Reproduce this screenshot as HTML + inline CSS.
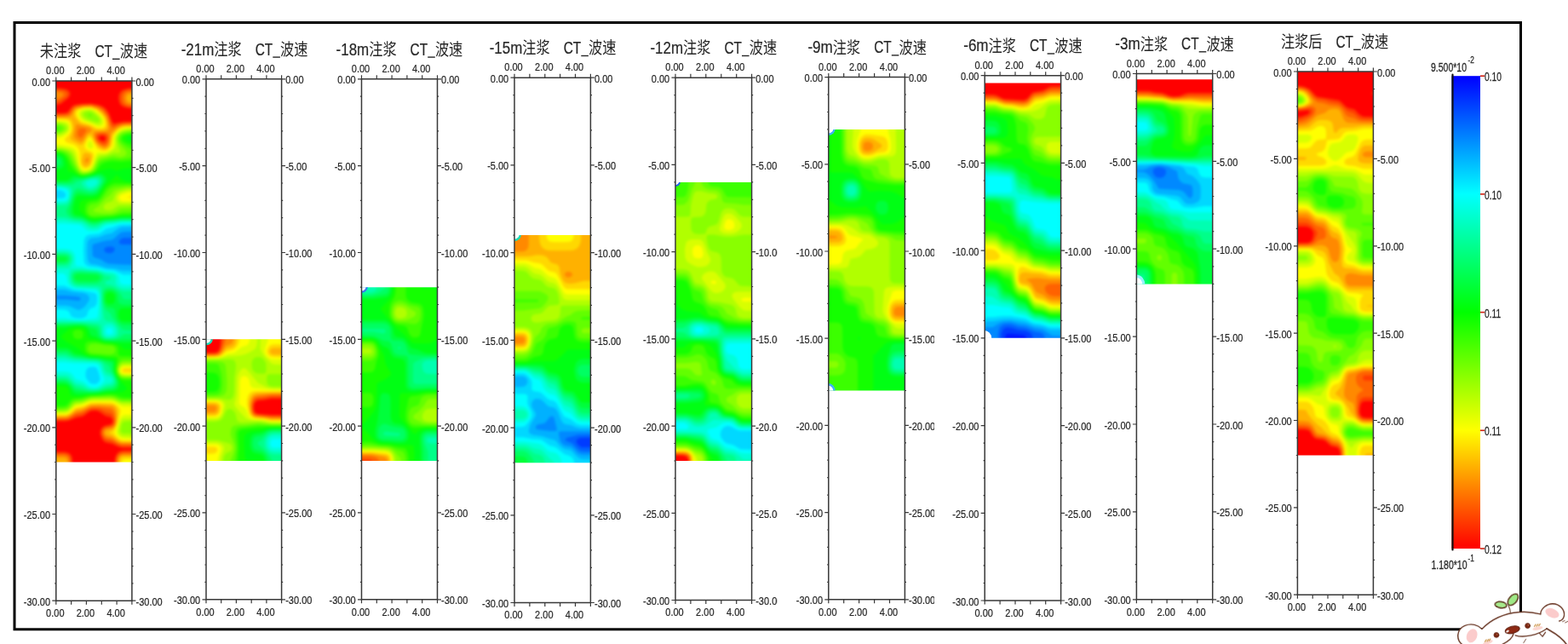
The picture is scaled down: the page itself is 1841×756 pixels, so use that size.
<!DOCTYPE html>
<html><head><meta charset="utf-8"><title>CT</title>
<style>html,body{margin:0;padding:0;background:#fff;width:1841px;height:756px;overflow:hidden;font-family:"Liberation Sans",sans-serif}</style>
</head><body>
<svg width="1841" height="756" viewBox="0 0 1841 756" style="position:absolute;left:0;top:0">
<defs><clipPath id="c0"><rect x="65.8" y="95.0" width="89.1" height="447.5"/></clipPath><clipPath id="c1"><rect x="242.0" y="398.3" width="88.6" height="142.6"/></clipPath><clipPath id="c2"><rect x="424.5" y="337.2" width="89.0" height="203.7"/></clipPath><clipPath id="c3"><rect x="604.0" y="276.1" width="89.4" height="267.1"/></clipPath><clipPath id="c4"><rect x="793.0" y="213.9" width="89.6" height="327.1"/></clipPath><clipPath id="r4"><rect x="882.6" y="0" width="29.9" height="756"/></clipPath><clipPath id="c5"><rect x="972.8" y="151.9" width="89.6" height="306.6"/></clipPath><clipPath id="r5"><rect x="1062.4" y="0" width="34.6" height="756"/></clipPath><clipPath id="c6"><rect x="1156.2" y="97.5" width="89.4" height="299.3"/></clipPath><clipPath id="c7"><rect x="1334.4" y="93.3" width="89.3" height="240.1"/></clipPath><clipPath id="c8"><rect x="1523.4" y="84.0" width="89.0" height="450.5"/></clipPath><linearGradient id="cb" x1="0" y1="0" x2="0" y2="1"><stop offset="0" stop-color="#0000ff"/><stop offset="0.25" stop-color="#00ffff"/><stop offset="0.5" stop-color="#00ff00"/><stop offset="0.75" stop-color="#ffff00"/><stop offset="1" stop-color="#ff0000"/></linearGradient><filter id="bl" x="-5%" y="-5%" width="110%" height="110%" color-interpolation-filters="sRGB"><feGaussianBlur stdDeviation="1.7"/></filter><filter id="soft" x="0" y="0" width="100%" height="100%" color-interpolation-filters="sRGB"><feGaussianBlur stdDeviation="0.45"/></filter></defs>
<g font-family="Liberation Sans, sans-serif" fill="#262626">
<g filter="url(#soft)">
<g clip-path="url(#c0)"><g filter="url(#bl)"><rect x="60" y="89" width="101" height="460" fill="#0014ff"/><path fill="#003bff" d="M58 86.1l104.7 0l0 465.3l-104.7 0z"/><path fill="#0062ff" d="M58 86.1l104.7 0l0 465.3l-104.7 0z"/><path fill="#0089ff" d="M58 86.1l104.7 0l0 193.1l-17.8 0.1l-2.3 0.9l-2.1 1.7l-0.8 2.5l0.7 1.6l2.2 1l20.1 0.2l0 264.2l-104.7 0zM122.4 292.1l0 2.5l2.4 2.1l4.5 0.5l2.2-0.5l2.2-1.5l1.1-3.1l-1.1-1.7l-2.1-0.9l-2.3-0.1l-4.5 0.6z"/><path fill="#00b1ff" d="M58 86.1l104.7 0l0 185.9l-15.6 0.1l-4.5 0.6l-2.2 1.2l-6.7 6.3l-2.2 1.3l-8.9 1.2l-13.4 4l-0.8 2.8l0.3 10.2l0.5 1.3l1.8 1.2l7.1 2.4l6.7 4.2l2.3 0.8l17.8 1.2l17.8 0.1l0 240.5l-104.7 0l0-199.9l20.1 0.1l13.3 1.5l2.2-0.7l1.4-1.9l-1.4-1.6l-4.1-0.9l-13.7-0.9l-17.8-0.1z"/><path fill="#00d8ff" d="M58 86.1l104.7 0l0 180l-20.1 0.3l-4.4 2.3l-6.7 5.1l-6.7 1.3l-8.9 3.4l-8.9 1l-3.2 2.4l-1.1 2.5l-0.5 10.2l0.7 10.2l1.9 3.8l2.2 1.5l6.7 0.7l11.1 3.6l11.2 1.1l6.8 2l19.9 0.4l0 233.5l-104.7 0l0-192.8l20.1 0.1l4.4 1l6.7 3.4l2.2 0.7l2.2-0.1l4.5-2.5l2.9-3l3.4-5.1l0.7-2.6l-0.6-2.5l-2.5-2.5l-3.9-1.6l-13.4-1.5l-8.9-2.3l-17.8-0.1z"/><path fill="#00ffff" d="M58 86.1l104.7 0l0 177.2l-17.8 0.1l-4.5 0.4l-8.9 3.2l-6.7 1.4l-6.7 4.8l-2.2 1.1l-11.1 1.3l-2.2 0.7l-2.3 1.8l-1.7 3.8l-0.6 12.7l0.7 12.7l1.1 2.6l3.3 2.5l3.9 0.9l8.9 0.9l8.9 2.5l8.9 0.9l11.2 4.8l17.8 0.2l0 228.8l-104.7 0l0-188.1l15.6 0l4.5 0.6l3 1.9l2.3 5.1l3.6 2.1l4.4 0.7l5.7-0.3l4.6-2.5l1.7-5.1l1.5-2.5l2.1-1.6l4.5-1.7l2.2-3.6l0.5-5.9l-0.5-4.6l-2.2-2l-13.4-2.6l-11.1-1l-11.2-4.8l-17.8-0.3l0-102.1l15.6-0.3l2.2-0.7l1.1-1.1l0.5-2.5l-1-2.6l-4.3-2.5l-5.2-0.6l-8.9 0zM103.1 431.9l-1.9 2.6l-0.6 2.5l0 5.1l0.9 2.5l3.3 4.1l2.2 1.7l4.5 0.7l2.2-0.7l3.2-3.2l0.6-2.6l-1.6-6.8l-2.2-5.7l-2.2-1.4l-2.3-0.3l-4.4 0.7z"/><path fill="#00ffd8" d="M58 86.1l104.7 0l0 175.4l-20.1 0.1l-8.9 1.9l-7.1 0.6l-4 1.4l-6.7 5l-2.2 0.8l-4.5 0.3l-6.6-0.9l-2.3-1.4l-4.4-4.2l-2.3-1l-17.8-1.5l-17.8-0.1l0-26.4l17.8-0.4l2.3-1l0.9-1.1l1.1-2.6l0.3-2.5l-0.2-2.6l-1.3-2.5l-3.1-1.6l-6.7-1.3l-11.1-0.1zM58 292.2l17.8 0l6.7 1l2.2 1.4l2.2 2.5l1.3 2.6l0.5 5.1l-0.3 5.1l0.8 1.5l2 1l4.7 0.4l7.4 2.1l10.4 0.8l11.1 3l8.9 1.1l4.5 2.8l1.6 2.5l0.6 5.1l1.2 2.5l1 0.8l4.5 0.8l15.6 0l0 217.1l-104.7 0l0-115.4l17.8 0.1l4.5 0.6l2.2 0.9l2.2 1.7l4.5 5.7l8.9 2.9l6.7 5.5l4 1.4l4.9-0.4l3.8-2.1l5-5.1l0.2-2.6l-3.1-5.1l-3.4-10.1l-2.5-2l-4.5-0.7l-22.2-0.2l-11.2-1.2l-17.8 0l0-51.7l17.8 0l11.2 2l6.6 0.3l6.7-0.5l12.7-2l1.7-2.5l1.2-9.9l0.4-10.5l-0.4-5.6l-0.8-2l-1.4-1.5l-2.2-0.8l-22.3-1.9l-3.3-0.9l-3.4-2.1l-2.5-3l-1.1-2.5l-0.8-5.3l-2.3-3.3l-2.2-0.5l-15.6-0.1zM125.3 386.1l-0.8 2.6l0.4 2.5l2.2 1.2l2.2 0.2l2.8-1.4l0.4-2.5l-1-2.7l-2.2-1l-2.2 0z"/><path fill="#00ffb1" d="M58 86.1l104.7 0l0 174l-20.1 0.1l-17.8 2.2l-4.4 1.7l-4.5 3.1l-2.2 0.9l-4.5 0.4l-4.4-1l-8.9-6l-8.9-0.7l-11.2-2.3l-17.8-0.1l0-19.9l15.6 0l4.5-0.9l2.2-2.2l0.9-1.8l1.2-7.7l-0.4-2.5l-1.7-2.2l-2.2-1l-9-1.4l-11.1-0.1zM114.5 213.2l-0.8-1.2l-2.2-1.2l-4.5 0.1l-5.7 2.3l-0.8 2.6l2.1 2.7l2.2 1.2l2.2 0.2l4.5-2l2.2-2.1zM58 295.1l17.8 0l4.5 0.7l2.2 1.2l2.3 2.7l0.9 2.5l0.1 2.6l-0.4 2.5l-2.9 7.3l-2.2 0.8l-22.3 0zM82.5 315.4l13.4 0.2l8.9 1.3l8.9 0.5l11.1 3.4l6.7 0.8l2.6 1l1.9 2.5l-0.2 7.6l2.1 2.6l2.5 1.6l4.5 1.4l17.8 0.2l0 212.9l-104.7 0l0-111.3l20.1 0.3l2.2 0.8l2.2 1.6l4.5 5l2.2 1.6l6.7 1.4l2.2 1l4.5 3.2l4.4 1.5l4.5 0.2l4.4-0.9l8.9-5.2l4.7-0.9l2.5-2.5l-0.3-2.6l-2.4-2.4l-4.5-1.3l-2.2-1.8l-2.2-4.6l-1.3-5.1l-1.8-2.6l-1.4-0.8l-4.4-1.1l-24.5-1.4l-11.2-2.3l-17.8 0l0-44.8l53.5 0.9l4.4-0.6l1.3-0.7l1.2-2.6l0.3-5.1l-1-22.8l-1.3-5.1l-2.7-1.9l-24.5-1.8l-3.6-1.4l-2.5-2.6l-1.8-5l-0.2-7.7zM122.6 382.2l-0.7 1.4l-0.5 5.1l0.3 2.5l1.2 2.6l1.9 1.1l4.5 0.5l2.2-0.3l3.2-1.3l1.4-2.6l0.2-2.5l-0.5-2.6l-2.1-3.2l-2.2-1.7l-2.2-0.6l-4.5 0.2z"/><path fill="#00ff89" d="M58 86.1l104.7 0l0 172.7l-20.1 0.1l-8.9 1.4l-8.9 0.5l-3.1 0.7l-8 3.8l-4.5 0.4l-4.4-1.2l-4.5-3l-4.4-2l-8.9-0.9l-8.9-3.2l-4.5-0.6l-15.6 0l0-13.4l15.6-0.1l4.5-0.9l2.2-1.8l2.2-4l2.2-11.2l-0.6-2.5l-1.6-1.4l-2.2-0.8l-8.9-1.3l-13.4-0.2zM95.8 215.8l1.5 2.5l3.1 2.6l4.4 1.9l2.2 0l4.5-1.7l2.2-1.7l2.7-3.6l0.8-2.6l-0.6-2.5l-2.9-1.5l-4.5 0.1l-7.1 1.4l-5.1 2.5zM58 297.1l17.8 0.1l4.5 1l1.8 1.5l1.4 2.5l0.2 2.6l-0.7 2.5l-2.7 3.5l-2.2 1l-20.1 0.4zM87 318.1l4.4-0.6l4.5 0l20 1.8l8.9 4.4l5.4 1.4l-0.2 2.6l-5.2 2.4l-1.7 2.6l1.7 1.2l4.5 0.6l4.4 1.5l6.7 4.2l4.5 1.7l17.8 0.2l0 209.3l-104.7 0l0-108.3l15.6 0l4.5 0.5l4.4 2.8l4.5 4.6l2.2 1.5l6.7 1.5l7 3.3l4.1 0.8l8.9-0.5l8.9-4l6.7-1.3l2.2-2.3l0.7-2.8l-0.5-2.6l-2.4-4.1l-2.2-2l-4.5-1.9l-1.4-2.1l-1.5-5.1l-1.5-2.6l-3.8-2.5l-2.9-0.7l-26.7-2.3l-11.2-3.2l-17.8-0.1l0-39.6l37.9 0.3l20 1.7l2.2 1.8l0.6 1.4l0.7 7.6l0.9 2.6l2.3 2.1l2.2 0.9l4.5 0.3l5.6-0.8l3.4-2.5l1.1-2.6l-0.5-5.1l-3.3-5l-4.1-3.4l-6.7-1.3l-2.2-1.9l-3.2-18.9l-0.5-17.8l-0.8-1.1l-4.4-0.9l-22.3-0.8l-4.4-1.4l-2.8-3.4l-1.1-5.1l0.2-2.5l1-2.6z"/><path fill="#00ff62" d="M58 86.1l104.7 0l0 171.5l-20.1 0.1l-17.8 1.8l-4.4 1l-6.7 2.5l-4.5 0.3l-4.4-1.2l-5.5-3.1l-3.4-1.3l-9.5-1.2l-4.8-2.6l-2.6-2.5l-1.4-2.6l0.2-2.5l4.7-7.6l4.5-13.5l2.2-3.3l2.2-0.6l2.2 0.3l11.2 3.7l4.4-0.4l4.5-2.4l2.2-2.4l2.7-4.3l0.9-2.6l-0.2-2.5l-2.4-2.5l-3.2-0.8l-8.9 1.4l-15.2 4.4l-2.6 2.4l-2.3 0.8l-26.7-0.7zM58 299l15.6 0l4.5 0.5l2.2 1.4l1 1.3l0.3 2.6l-1.3 2.8l-2.2 1.5l-2.3 0.5l-17.8 0.1zM85 325.1l0.5-2.5l1.5-1.9l2.2-1l4.4-0.4l20.1 1.2l5.2 2.1l2.2 2.5l-0.4 2.6l-2.6 3.2l-3.7 1.8l-5.2 0.4l-15.6-0.2l-4.4-0.7l-2.5-2l-1.2-2.5zM122.6 339.2l2.2-1l2.3-0.3l4.4 0.3l2.2 0.7l5.8 4l2.3 2.6l3.1 5.4l4.4 0.7l13.4 0l0 36.1l-13.4 0l-4.4-0.8l-2.3-1.6l-10.3-11.9l-3-5.6l-4.5-3.2l-2.4-3.9l-1.8-7.6l0.3-10.2zM58 380.2l37.9-0.2l17.8 2.9l2.2 1.8l0.7 1.4l1.5 7.7l2.3 2.6l4.4 1.8l6.7 0.2l4.5-0.6l4-1.5l4.9-3.3l2.2-0.7l15.6-0.1l0 159.2l-104.7 0l0-105.6l15.6 0l4.5 0.5l4.4 3l4.5 4.8l2.2 1.6l13.4 3.2l6.6 0.6l6.7-0.5l8.9-3.1l7.3-1.1l2.9-2.5l1.1-2.6l0.1-2.5l-0.7-2.6l-5.5-10.1l-0.7-2.7l-1.4-2.4l-7.5-5.1l-2.3-1l-4.4-1.1l-8.9-0.5l-17.8-2.3l-8.9-4l-2.3-0.4l-17.8-0.1z"/><path fill="#00ff3b" d="M58 86.1l104.7 0l0 170.3l-20.1 0.1l-8.9 1.3l-11.1 0.7l-8.9 2.5l-4.5 0.2l-4.4-1l-8.9-4.4l-8.9-1.4l-3.7-3l-0.8-2.6l0.3-5.1l4.2-13.2l2.2-3.5l2.2-1l2.2-0.2l9 1.7l4.4 0.3l4.5-1l2.2-1.2l4.4-5.5l3.6-6.9l0.2-2.5l-1.3-2.5l-2.5-1.9l-2.2-0.6l-2.2 0.1l-15.6 3.6l-8.9 0.2l-2.2 0.7l-4 2.9l-2.7 1l-22.3-0.2l0-19.2l8.9-0.1l2.2-0.6l1.6-1.2l0.8-2.5l-1-2.6l-1.4-1.4l-2.2-1l-8.9-0.2zM58 301.3l17.8 0.2l2.4 0.7l0.6 2.6l-0.7 0.9l-2.3 1.1l-17.8 0.4zM87.3 325.1l1.9-3l4.4-0.7l20.1 1l3.5 2.7l-0.6 2.6l-2.9 1.9l-6.7 0.6l-15.6-0.4l-2.2-1l-1-1.1zM124.8 341l2.3-0.6l4.4 0.2l4.2 2.3l1.9 2.6l1.2 7.6l0.8 2.5l0.8 1l4.5 1.1l17.8 0.1l0 23.7l-17.8-0.3l-2.3-0.6l-2.7-2.1l-2.2-2.5l-1.3-2.6l-1.8-10.1l-0.9-1l-2.2-0.9l-4.4-0.6l-2.3-1.2l-2.2-3.8l-0.6-5.3l0.2-5l0.8-2.6zM58 382.1l17.8 0l15.6-0.9l8.9 0.9l6.7 2.9l4.7 1.1l2 2.3l1.7 5.4l2.2 2.5l4.4 2.6l2.8 0.6l8.9 0.2l11.2-1.2l17.8 0l0 152.9l-104.7 0l0-103.2l15.6 0l4.5 0.6l4.4 3.2l4.5 5.5l2.2 1.5l17.8 1.7l8.9-0.4l8.9-2.4l6.7-0.6l2.2-0.7l2.4-1.8l1.3-2.5l0.6-2.6l-0.2-2.5l-4.7-10.2l-0.7-2.5l-0.4-7.7l-2.7-1.9l-4.5-0.8l-8.9-2.8l-11.1-0.8l-8.9-2.1l-6.7-0.6l-3.6-1.1l-5.3-3.7l-2.2-0.9l-20.1-0.4z"/><path fill="#00ff14" d="M58 86.1l104.7 0l0 168.9l-20.1 0.2l-8.9 1.4l-11.1 0.7l-8.9 1.9l-4.5 0.2l-4.4-1.1l-8.9-4.5l-6.7-1.3l-2.1-1.1l-1.2-2.6l0-5.1l1.1-5.3l2.2-6.9l2.2-1.7l2.2-0.3l11.2 0.8l4.4-0.3l4.5-1.4l2.2-1.8l8.6-13.6l0.7-2.5l-0.7-2.5l-4.1-3.8l-4.5-0.7l-8.9 2.6l-11.1 2l-8.9-1.7l-2.3 0.7l-3.7 3.4l-2.9 1.2l-20.1 0l0-13l8.9-0.1l4.5-0.9l2.9-2.5l0.9-2.5l-0.9-5.1l-1.3-2.5l-1.6-1.6l-2.3-1.2l-11.1-0.4zM127.1 343.2l2.2-0.2l2.2 0.6l2.5 1.9l0.9 2.5l-0.1 5.1l-1.1 2.7l-2.2 1.1l-4.4-0.1l-2.3-1.9l-0.6-1.8l-0.2-5.1l0.5-2.5zM140.3 363.3l2.3-1.3l2.3-0.3l17.8-0.1l0 16l-15.6 0l-4.5-0.9l-2.2-2.2l-1.2-3.6l0.1-5.1zM58 384.4l17.8 0l11.2-1.6l8.9 0l3.7 0.8l3.7 2.5l3.7 7.9l4.5 1.1l6.9 3.8l4.2 1.5l22.3 1.8l17.8 0.1l0 149.1l-104.7 0l0-100.8l15.6 0l4.5 0.6l2.2 1.3l2 2.3l2.4 4.3l2.3 2.4l2.2 0.9l4.4 0.3l20.1-0.9l11.1-2.1l8.9-0.8l2.3-0.7l2.2-1.8l1.8-4.1l0.1-2.6l-0.5-2.5l-5.2-10.2l-0.5-2.5l0.4-7.7l-0.6-2.2l-2.2-1.7l-6.7-0.8l-8.9-2.1l-11.1-0.8l-8.9-2.8l-6.7-1.1l-2.7-1.2l-4-3.8l-4.4-1.9l-20.1-0.3z"/><path fill="#14ff00" d="M58 86.1l104.7 0l0 73.6l-10 0.1l-3.4 1.5l-1.3 1.1l2.2 2.5l1.4 0.5l11.1 0.5l0 31.4l-11.1 0.1l-6.8 0.6l-6.6 2.2l-2.2 0l-4.5-1.9l-4.4-0.2l-9 2.1l-11.1 5.1l-6.7 1.5l-4.4 0.3l-4.5-1.3l-6.7-3.5l-4.4-1.1l-0.6-0.7l-0.9-7.6l-1.5-5.1l-1.2-2.5l-2.5-3l-4.5-1.9l-11.1-0.4zM162.7 213.6l0 40l-20.1 0.2l-8.9 1.5l-11.1 0.7l-8.9 1.5l-4.5 0.1l-4.4-1l-4.4-2.7l-5.9-5.1l-1.6-2.5l-0.2-2.6l0.7-5l1.6-2.6l6-2.5l10.5-1.2l2.2-0.7l2.2-1.5l8.9-13.1l9.6-8.9l1.6-2.3l2.2 0l1.7 2.3l3 2.5l6.1 2.5zM81.9 386.1l7.3-1.7l6.7 0.2l3.6 1.5l1.6 2.6l1.5 6.8l2.2 1.8l8.9 1.4l8.9 3.1l13.4 1.2l2.9 0.9l6 5.1l2.2 1.1l15.6 0.2l0 141.1l-104.7 0l0-98.2l15.6 0l4.5 0.8l2.8 3.3l1.6 6l2.2 1.5l4.5 0.4l6.7-0.2l6.7-1.5l13.3-0.8l8.9-1.4l15.6-0.5l4.3-0.9l2.4-2l1.8-0.6l0.1-2.5l-1.9-0.8l-0.4-1.7l-1.8-1.1l-0.6-1.5l-1.7-1.2l-6.2-9l-1.4-5l1-10.2l-1.6-2.6l-2.9-1l-6.7-0.4l-8.9-1.6l-8.9-0.6l-5.5-1.4l-4.1-2.6l-3-2.5l-0.8-1.3l-5.9-3.8l-9.5-5.1l-2.4-2.1l-1.4-0.4l-0.8-1.8l-1.9-0.8l0.3-2.5l1.6-0.4l1.2-2.2l1-0.3l2.3-2.2z"/><path fill="#3bff00" d="M58 86.1l104.7 0l0 71.3l-8.9 0.1l-4.5 0.6l-4.5 1.7l-1.5 2.6l1.6 3.3l4.4 2.9l4.5 1.1l8.9 0.1l0 18.9l-11.1 0.2l-9 1.1l-11.1-0.7l-6.9 1.1l-5.4 2.5l-5.9 7.6l-3.4 2.6l-7.3 2.3l-6.7 0.6l-2.3-0.7l-3.4-2.2l-4.8-5.1l-2.9-4.6l-3.5-8.1l-3.2-3.8l-2.2-1.5l-4.5-1.3l-11.1-0.2zM162.7 215.8l0 36l-20.1 0.2l-8.9 2l-22.2 1.7l-4.5-0.4l-2.2-0.8l-3.7-3.1l-1.2-2.6l-0.2-2.5l0.7-5.1l1.3-2.5l3.1-2.2l8.9-1.5l2.2-1.3l2.5-2.7l6.4-10.2l4.5-3.6l4.4-1.9l2.3-0.3zM86.2 388.7l3-1.5l4.4-0.3l3.4 1.8l0.6 2.5l0 2.6l-0.6 2.5l-1.1 1.4l-4.5 0.6l-2.2-0.5l-2.2-1.4l-1.3-2.6l-0.3-2.6zM100.3 403.3l2.3-2.1l6.6-0.5l4.5 0.3l8.9 2.3l10 0.6l4.9 2.6l1.2 2.5l0.5 7.7l1.2 1.3l22.3 0.2l0 28.3l-15.6 0l-4.5-1.1l-2.2-1.7l-2.2-2.8l-1.8-3.9l-0.2-5.1l2.2-10.2l-0.6-2.5l-1.8-0.5l-11.2-0.3l-8.9-1.2l-8.9-0.5l-2.2-0.6l-3.3-2l-1.5-2.5l-0.3-5.1zM58 476.8l17.8-0.3l2.9-1.4l3.8-5l2.2-1.7l2.3-0.6l8.9-0.8l6.7-2l4.4-0.7l8.9-0.3l8.9-1.1l6.7 0l4.5 0.6l4.4 1.9l4.5 1.1l17.8 0.2l0 84.7l-104.7 0z"/><path fill="#62ff00" d="M58 86.1l104.7 0l0 69.6l-11.1 0.2l-4.5 0.8l-4.5 2.2l-2 3.5l0.5 2.5l1.5 2.7l6.7 5.2l4.5 1.6l8.9 0.1l0 10.2l-8.9 0.1l-11.2 2.3l-11.1-1.1l-11.1 2.7l-2.3 1l-2.2 2.3l-2.9 6l-1.8 2.5l-2 1.5l-4.4 1.9l-6.7 1.1l-4.5-1.1l-3.5-3.4l-4.7-7.6l-5.1-10.2l-2.7-2.5l-6.2-2.7l-13.4-0.5l0-24l11.7-0.8l0.2-2.5l-3-0.7l-8.9-0.1zM162.7 217.5l0 31.4l-17.8 0.1l-13.4 3.6l-22.3 0.8l-2.2-0.5l-2.5-1.5l-1.2-2.6l-0.2-2.5l0.4-2.6l1.2-2.5l2.3-1.5l6.7-1.2l2.2-1.2l3.8-3.7l7.1-10.2l2.9-2.5l4-1.9l15.6-1.4zM103.7 406.5l1.1-1.6l1.6-1l2.8-0.4l4.5 0.1l8.9 1.7l8.9 0.6l2.2 1.1l1.4 2l0.3 2.6l-0.7 2.5l-1 0.9l-4.4 1.2l-22.3-1.6l-1.4-0.5l-2.1-2.5l-0.4-2.6zM140.4 424.2l2.2-1.9l2.3-0.5l17.8-0.1l0 22.8l-17.8-0.2l-2.3-0.6l-2.2-1.6l-2.2-3l-1.3-4.6l1.3-5.9zM162.7 469l0 82.4l-104.7 0l0-72.3l15.6 0l4.5-0.8l2.2-1.7l4.4-5.3l2.3-1.3l8.9-1.2l11.1-3.3l22.3-1.1l4.4 0.6l6.7 2.9l4.5 1z"/><path fill="#89ff00" d="M58 86.1l104.7 0l0 68l-11.1 0.2l-6.7 1.5l-2.3 1l-2.2 2l-1.7 3.6l0.2 2.5l1.5 3.9l7.5 8.8l0.8 2.6l-1.9 2.5l-4.2 1.6l-2.2 0.1l-6.7-1.4l-2.2 0.2l-13.4 3.6l-2.2 1.5l-4.7 9.7l-2 2.5l-4.4 2.4l-6.7 1l-3.3-0.8l-2.8-2.6l-4.2-7.6l-4.6-10.2l-2.9-3.1l-3.3-2l-5.6-1.6l-13.4-0.4l0-20.2l8.9 0l3.6-0.6l3.9-2.6l0.4-2.5l-3.4-2.5l-2.3-0.5l-11.1-0.2zM103.4 134.4l1.4 1.6l1.6 1l1.2 0l-0.6-2.8l-2.2-0.6zM162.7 219.3l0 25.2l-20.1 0.4l-2.2 0.8l-4.4 3.2l-6.7 1.8l-8.9-0.3l-9.4-1.6l-1.8-2.3l6.7-4.4l8.9-9.6l4.5-3.4l4.4-5.7l4.5-1.7l8.9-1.9zM110.9 409l5.8 0l-3 0.6zM140.4 427.2l2.2-2l2.3-0.7l17.8-0.2l0 18.8l-15.6 0l-4.5-0.9l-2.2-1.6l-2.2-3.8l0-4.9zM58 481l15.6-0.1l4.5-0.6l2.2-1.4l4.4-5.1l2.3-1.8l2.2-0.7l6.7-0.8l11.1-3.7l22.3-0.8l4.4 0.8l8.9 3.7l20.1 0.4l0 80.5l-104.7 0z"/><path fill="#b1ff00" d="M58 86.1l104.7 0l0 66.6l-11.1 0.1l-4.5 0.7l-4.5 1.6l-2.9 2.2l-1.8 2.5l-0.8 2.6l0 2.5l1.1 4.8l2.9 7.9l-0.7 2.2l-6.7-0.2l-8.9 3.3l-6.7 1.2l-2.2 1.1l-2.2 3l-4.1 9.8l-2.5 2.5l-4.5 1.8l-4.5 0.5l-2.2-0.7l-2.3-1.6l-2.8-5.1l-4.8-12.7l-1.6-2.5l-2.9-2.6l-3.4-1.6l-6.7-1.6l-13.4-0.3l0-16.8l8.9 0l4.5-0.8l4.4-2.4l1.7-1.9l0.4-2.5l-2.1-2.8l-4.4-1.6l-13.4-0.5zM99 131.9l-0.9 2.7l1.3 2.4l3.3 2.5l11 4.1l2.2-0.6l0.8-1l-0.8-3.3l-7-6.8l-4.1-1.4zM162.7 221.1l0 20l-22.3 0.4l-2.2 0.5l-6.7 4.6l-4.4 0.5l-2.3-0.3l-2.2-1.1l-1.1-2l0.7-2.5l2.6-2.8l6.7-2.1l1.7-2.7l1.8-5.1l3.2-3.4l11.1-3.6zM140.4 429.6l2.2-2.2l2.3-0.7l17.8-0.2l0 15.2l-15.6 0l-4.5-0.8l-2.2-1.8l-1.1-2.1l-0.5-2.5zM58 482.6l15.6 0l4.5-0.6l2.9-1.8l6-6.2l2.2-1l6.7-0.8l8.9-3.5l4.4-0.7l20.1-0.3l4.4 0.8l8.9 3.8l20.1 0.4l0 21.9l-13.4 0l-4.4 0.6l-2.3 2.8l-1 7.6l1 2.1l2.3 1.1l17.8 0.2l0 42.4l-104.7 0z"/><path fill="#d8ff00" d="M162.7 86.1l0 65.2l-13.4 0.4l-4.4 0.9l-4.5 2.2l-2.5 2.5l-1.6 2.5l-0.8 2.6l0.2 10.2l-1.2 2.5l-7.4 4.9l-4.5 1.3l-4.5 0.3l-2.9 1.1l-1.9 2.6l-3.9 10.1l-2.4 3.4l-2.8 1.7l-3.9 0.9l-2.2 0l-2.3-0.9l-2.2-2.5l-1.3-2.6l-4.7-15.2l-1.9-2.6l-3.2-2.2l-8.9-2.5l-15.6-0.5l0-13l11.1-0.3l4.5-1.4l4.6-2.9l1.7-2.6l0.3-2.5l-0.9-2.6l-1.2-1.4l-2.3-1.3l-6.7-1.1l-11.1-0.1l0-57.1zM95.3 131.9l-0.3 2.5l1 2.6l2.1 2.5l2.2 1.3l13.4 5.3l2.2 0.2l2.8-1.7l0.7-2.6l-1.3-3.6l-3.4-4l-5.5-4.2l-2.2-1l-4.4-0.3l-4.5 1.2zM162.7 223.2l0 15.5l-20.1-0.2l-2.2-0.3l-3-2.1l-0.7-2.5l0.4-2.6l1.4-2.5l1.9-1.6l4.5-1.8l6.6-1.7zM140.4 432.1l2.2-2.7l2.3-0.8l17.8-0.3l0 12.2l-15.6 0l-4.5-0.9l-2.3-2.6l-0.4-2.5zM58 484.1l15.6 0l4.5-0.5l2.2-1.1l6.7-6.5l2.2-1.2l6.7-1l8.9-3.6l4.4-0.8l20.1-0.1l4.4 0.8l8.9 4.1l20.1 0.5l0 16.3l-17.8 0.4l-2.3 1.7l-1.1 2.4l-2.6 10.1l0.4 2.6l1.1 1.6l2.2 1.7l2.3 0.7l17.8 0.2l0 39l-104.7 0z"/><path fill="#ffff00" d="M58 86.1l104.7 0l0 63.9l-13.4 0.3l-4.4 0.9l-4.5 2l-4.2 4.1l-1.5 2.5l-0.8 2.6l-0.3 7.6l-0.8 2.6l-1.9 2.5l-3.3 2.5l-2.8 1.3l-2.2 0.4l-6.7-0.3l-2.2 0.8l-2.2 5l-2.4 8.1l-2.1 3.7l-2.2 1.9l-4.5 1.4l-2.2-0.1l-2.2-1.4l-3-5.5l-2.3-12.7l-1.4-3.3l-2.2-2.6l-4.5-2l-8.9-1.9l-6.7-0.8l-8.9 0l0-7.3l11.1-0.4l4.5-1.7l4.5-2.7l2.2-2.2l1.5-3.1l0.3-2.5l-0.6-2.6l-1.2-2.3l-2.2-1.7l-6.7-1.2l-13.4-0.2zM92.5 131.9l-0.1 2.5l1 2.6l1.7 2.5l2.9 2.5l9 2.9l6.7 3.3l2.2 0.4l2.2-0.2l2.3-1.3l1.1-2.5l0-2.6l-0.7-2.5l-3.7-5.1l-6.5-5.1l-5.8-1.6l-4.5 0.4l-5 1.2zM104.8 164.8l-2.2 3.9l0 3.3l2.2 2.3l2.2 0.4l2.2-1.3l0-3.4l-2.2-4.4zM162.7 225.9l0 10.4l-17.8-0.1l-2.3-0.5l-2.6-2.1l0.4-3l2.2-2l9-2.5zM141.2 434.5l1.4-3l2.3-1l17.8-0.3l0 8.9l-17.8-0.2l-3.1-1.9zM58 485.7l15.6-0.1l4.5-0.4l4.1-2.4l4.8-4.8l2.2-1.4l6.7-1.1l8.9-3.7l4.4-0.9l22.3 0.2l4 1.5l7.1 4.2l2.3 0.6l17.8 0.2l0 9.3l-15.6 0.1l-2.2 0.4l-2.3 1.6l-2.2 4.3l-3.7 12.3l0.1 2.6l1.4 2.5l2.2 2.2l2.2 1.3l4.5 0.7l15.6 0l0 36.5l-104.7 0z"/><path fill="#ffd800" d="M58 86.1l104.7 0l0 62.7l-15.6 0.6l-4.5 1.1l-3.1 1.7l-3.5 3.3l-2.9 4.3l-1.6 10.2l-1.1 2.6l-2.4 2.5l-3.2 1.8l-4.4 0.3l-5.7-2.1l-2.1-2.5l-5.6-10.7l-2.2-0.7l-2.9 3.7l-2.1 5.1l-0.2 2.6l1.3 2.5l8.3 4.1l0.8 3.5l-0.4 2.6l-2.1 7.6l-1.7 2.5l-3.2 2.1l-2.3 0.5l-2.2-0.4l-2.2-2l-1.2-2.7l-0.9-5.1l-0.4-10.2l-2-4.2l-4.4-3.3l-8-2.6l-3.1-2.6l0.6-2.5l3.8-3.8l2.6-3.8l1-5.1l-1.4-5.3l-1.9-2.4l-2.5-1l-6.7-0.7l-13.4-0.1zM90 131.9l0 2.5l1 2.6l2.6 4l2.3 2l11.1 3.5l6.7 3.7l4.4 0.4l2.3-0.4l2.2-1.3l0.8-1.8l0.2-2.5l-1-5.1l-3.5-5.1l-5.9-5.1l-6.2-2.4l-6.7 0l-4.4 0.9l-3.9 1.5zM148.5 231l5.3-0.6l8.9-0.1l0 1.8l-11.1-0.2zM143.1 434.5l1.8-1.7l2.2-0.5l15.6-0.1l0 5.3l-17.8-0.3zM162.7 517l0 21.9l-13.4 0l-4.4 0.8l-1.4 1.5l-0.6 2.6l-0.1 7.6l-84.8 0l0-64.3l20.1-0.4l4.4-2.4l4.5-4.3l2.2-1.4l8.9-1.9l8.9-4l8.9-0.3l15.6 0.4l4.5 1.9l3.4 3l1.6 2.5l0.5 2.6l-3.5 15.2l-3.5 7.6l-0.4 2.6l1.6 2.5l4.7 4.7l2.2 1.1l4.5 0.5z"/><path fill="#ffb100" d="M58 86.1l104.7 0l0 61.5l-15.6 0.5l-4.5 0.9l-4.4 2.4l-5.7 5.9l-1.1 2.5l-1.8 10.2l-1.5 2.6l-3.3 2.4l-2.2 0.4l-2.2-0.3l-4.7-2.5l-4-5.1l-4.7-9.1l-2.2-0.2l-2.2 1.8l-4.5 8.1l-2.2 2l-2.3-0.3l-9-4.9l-2.2-2.5l3.2-10.2l0-5.1l-1.4-5.1l-1.7-1.7l-2.2-0.9l-4.5-0.4l-17.8-0.2zM87.7 131.9l-0.2 2.5l0.6 2.6l1.5 2.5l4 4.6l2.3 1.2l8.9 2.1l6.7 4l2.2 0.8l8 0l3.6-2.5l0.3-2.6l-0.6-5.1l-2.1-5l-4.2-5.1l-5-3.7l-6.7-2.3l-8.9 0.2l-6.7 1.9l-2.2 1.3zM100.3 179.3l5.1 0.9l2.1 2.5l0.1 2.6l-0.6 4l-1.7 3.6l-2.7 2.1l-2.3 0.4l-2.2-0.8l-1.2-1.7l-0.9-2.5l-0.1-2.6l2.2-7.5zM162.7 518.8l0 17.3l-17.8 0.3l-2.3 0.9l-1.2 1.4l-0.8 2.5l-0.2 10.2l-82.4 0l0-62.9l20.1-0.3l4.4-2.2l6.7-5.4l8.9-2l6.5-3.5l2.4-0.7l8.9-0.3l15.6 0.6l2.2 0.9l2.3 1.7l1.8 2.9l0.7 5.1l-0.7 7.6l-1.8 7.7l-2.3 3.2l-6 4.4l3.8 1.7l6.7 6l4.4 2.5z"/><path fill="#ff8900" d="M58 86.1l104.7 0l0 23.7l-8.9 0.1l-2.2 0.5l-2 1.1l-1.1 2.6l0 2.5l0.8 2.1l2.3 1.6l2.2 0.5l8.9 0.1l0 25.5l-15.6 0.4l-4.5 0.8l-4.4 2.1l-6.7 5.2l-1.4 2.4l-1 7.6l-1.5 5.1l-2.8 2.9l-2.2 0.5l-4.5-1.5l-4.4-3.9l-1.9-3.1l-1.7-5.1l-0.3-2.5l0.6-2.5l14.4-1.1l2.6-1.5l0.3-2.5l-0.6-5.1l-2.3-7.3l-4-5.4l-4.9-4l-4.4-2l-4.5-1.1l-4.4-0.1l-6.7 0.7l-5.4 1.4l-3.5 2.5l-2.3 5.5l-2.2 2.1l-4.4 0.6l-20.1-0.1zM89.2 146.3l2.2 0l13.4 3.2l3 2.7l-1.5 2.6l-3.7 2l-4.5 7.1l-2.2 2l-2.3 0l-2.2-1.1l-3.3-2.4l-1.3-2.6zM102.6 184.7l1 0.6l0.7 2.5l-1.7 3l-2.3-0.1l-0.4-2.9l0.4-1.1zM58 489.9l20.1-0.3l4.4-1.8l6.7-5.1l6.7-1.2l11.1-5.3l8.9-0.3l15.6 1.2l2.2 1.4l2.2 4.3l0.7 5l-0.2 7.7l-0.6 2.5l-2.1 3.6l-2.2 1.6l-6.7 1.8l-0.9 0.6l-0.9 2.6l1.3 2.5l2.8 1.3l4.4 0.9l7.2 5.5l3.9 1.6l20.1 0.3l0 14.1l-17.8 0.1l-2.3 0.5l-1.7 1.2l-1.5 2.5l-0.4 2.5l-0.1 10.2l-59.3 0l-0.3-10.2l-1.2-3l-2.3-1l-17.8-0.3z"/><path fill="#ff6200" d="M58 86.1l104.7 0l0 21.2l-8.9 0.1l-4.5 0.9l-1.2 0.7l-2.2 2.5l-0.7 2.6l0.7 5.1l2.2 2.5l1.2 0.7l4.5 0.9l8.9 0.1l0 21.8l-13.4 0.1l-6.7 0.9l-4.4 1.7l-4.5 2.7l-2.2 0.2l-2.2-3.7l-3-10.1l-3.7-5.5l-2.2-2.2l-4.5-3l-8.9-2.5l-8.9 0.2l-8.9 1.9l-2.2 1.3l-4.5 6.6l-2.2 1.5l-4.5 0.7l-17.8 0l0-19.5l6.7 0l4.4-0.6l3.5-1.8l2.2-2.6l-1.1-2.5l-2.3-0.8l-4.5-0.6l-8.9 0zM98.1 150.6l3.6 1.6l-1 2.6l-4.8 6.8l-2.3-0.1l-1.9-1.7l-0.8-2.5l0.8-5.1l1.9-1.4zM112.8 157.3l3.1-1.3l4.5-0.3l4.4 0.4l2.2 1.2l0.8 2.5l-0.2 5.1l-0.8 2.6l-2 2.9l-2.2 0.8l-2.2-0.5l-5-3.2l-2.1-2.6l-1.1-2.5l-0.3-2.6zM131.5 481l2.2 3.3l1 3.5l0.6 5.1l-0.8 5.1l-0.8 1.4l-2.2 2.1l-6.7 1.3l-2.2 1.3l-1.1 1.5l-0.5 2.6l1.6 4l2.2 1.7l6.7 1.5l6.7 4.6l4.4 1.6l20.1 0.3l0 10.8l-17.8 0.1l-3.2 0.8l-2.9 2.6l-1.3 5l-0.1 10.2l-55.6 0l-0.2-10.2l-0.4-2.5l-1.6-2.5l-3.8-1.6l-17.8-0.1l0-43.1l17.8-0.1l4.5-0.7l8.9-5.6l6.7-1.3l8.9-4.8l4.4-1.2l8.9 0.5l11.2 1.8z"/><path fill="#ff3b00" d="M58 86.1l104.7 0l0 19.2l-11.1 0.2l-4.5 1.3l-3 2.2l-1.4 2.5l-0.6 5.1l0.6 2.6l1.4 2.5l3.8 2.5l3.7 1l11.1 0.2l0 18.4l-17.8 0.6l-4.5 0.8l-6.7 2.6l-2.2-1l-4.4-11.9l-4.5-6l-2.6-2.1l-4.1-2.1l-8.9-2.1l-8.9 0.2l-8.9 1.5l-4.1 2.5l-3.4 5.1l-1.4 1.3l-2.2 0.9l-20.1 0.4l0-14.6l11.1-0.5l2.3-1.1l5.8-4.2l2-2.6l-0.2-2.5l-3.9-2.6l-6-1l-11.1-0.1zM113.8 159.8l2.1-1.9l2.2-0.5l4.5 0.2l2.2 1.1l0.9 1.1l0.5 2.6l-1.4 4.7l-2.2 1.5l-2.2-0.3l-2.3-1l-2.8-2.4l-1.5-2.5zM58 492.8l17.8 0l4.5-0.6l8.9-4.7l6.7-1.2l2.2-1l6.7-4.2l2.2-0.9l6.7-0.3l4.4 0.9l6.7 3.4l4.5 1.1l2.2 1.4l1.9 3.7l0.6 2.5l-0.3 3.3l-0.7 1.8l-1.5 1.5l-8.9 2.4l-2.2 2.1l-0.8 1.6l-0.3 2.6l0.4 2.5l2.9 4.6l2.2 1.3l6.7 1.4l8.9 4.8l4.5 0.6l17.8 0.1l0 7.5l-17.8 0.1l-4.5 1.1l-2.2 2l-1.8 4.5l-0.3 12.7l-52.6 0l-0.4-12.7l-0.8-2.5l-2-2.3l-4.5-1.4l-17.8-0.1z"/><path fill="#ff0000" d="M58 86.1l104.7 0l0 17.2l-11.1 0.1l-6.7 1.8l-2.3 1.4l-2.1 2.4l-1.1 2.5l-0.3 5.1l1.4 5.1l2.1 2.4l2.3 1.3l6.7 1.8l11.1 0.2l0 15l-17.8 0.4l-11.2 2.1l-2.2-2.3l-3.9-10.7l-4.2-5.1l-3-2l-4.5-1.8l-8.9-1.6l-13.4 0.5l-6.6 1.4l-2.3 1.4l-4.4 5.9l-2.2 1.6l-4.5 0.5l-15.6-0.1l0-9.2l8.9-0.1l4.5-1.4l8.9-7l2.1-3.4l0-2.5l-1.6-2.6l-2.7-1.6l-6.7-1.3l-13.4-0.2zM117.4 159.8l3-0.3l2.2 0.5l1.3 2.4l-0.9 2.5l-2.6 0.6l-2.3-1l-1.9-2.1zM58 494.5l17.8 0l4.5-0.5l8.9-3.6l6.7-1.1l2.2-0.9l6.7-4.9l2.2-1l4.5-0.4l4.4 0.8l7 4.9l1.9 1l4.5 1l2.2 2l0.4 1.1l0.2 2.6l-1.8 2.5l-7.7 1.7l-2.2 1.5l-2.3 3.4l-0.6 3.6l0.4 2.5l2.1 5.1l2.3 2.6l2.5 1.3l6.7 1.2l6.7 3.3l4.4 1.5l20.1 0.2l0 2.7l-17.8 0.1l-4.5 1l-2.2 1.8l-2.2 3.2l-1.2 4l-0.2 12.7l-49.3 0l-0.3-12.7l-0.6-2.5l-1.9-3.2l-2.2-1.5l-4.5-1l-17.8-0.1z"/></g></g>
<g stroke="#383838" stroke-width="1.5" fill="none"><path d="M65.8 95.0H154.9V705.2H65.8z"/><path stroke-width="1.2" d="M65.8 95.0v-4.5M65.8 705.2v4.5M83.6 95.0v-4.5M83.6 705.2v4.5M101.4 95.0v-4.5M101.4 705.2v4.5M119.3 95.0v-4.5M119.3 705.2v4.5M137.1 95.0v-4.5M137.1 705.2v4.5M154.9 95.0v-4.5M154.9 705.2v4.5M65.8 95.0h-4.5M154.9 95.0h4.5M65.8 115.3h-1.6M154.9 115.3h1.6M65.8 135.7h-1.6M154.9 135.7h1.6M65.8 156.0h-1.6M154.9 156.0h1.6M65.8 176.4h-1.6M154.9 176.4h1.6M65.8 196.7h-4.5M154.9 196.7h4.5M65.8 217.0h-1.6M154.9 217.0h1.6M65.8 237.4h-1.6M154.9 237.4h1.6M65.8 257.7h-1.6M154.9 257.7h1.6M65.8 278.1h-1.6M154.9 278.1h1.6M65.8 298.4h-4.5M154.9 298.4h4.5M65.8 318.8h-1.6M154.9 318.8h1.6M65.8 339.1h-1.6M154.9 339.1h1.6M65.8 359.4h-1.6M154.9 359.4h1.6M65.8 379.8h-1.6M154.9 379.8h1.6M65.8 400.1h-4.5M154.9 400.1h4.5M65.8 420.5h-1.6M154.9 420.5h1.6M65.8 440.8h-1.6M154.9 440.8h1.6M65.8 461.1h-1.6M154.9 461.1h1.6M65.8 481.5h-1.6M154.9 481.5h1.6M65.8 501.8h-4.5M154.9 501.8h4.5M65.8 522.2h-1.6M154.9 522.2h1.6M65.8 542.5h-1.6M154.9 542.5h1.6M65.8 562.9h-1.6M154.9 562.9h1.6M65.8 583.2h-1.6M154.9 583.2h1.6M65.8 603.5h-4.5M154.9 603.5h4.5M65.8 623.9h-1.6M154.9 623.9h1.6M65.8 644.2h-1.6M154.9 644.2h1.6M65.8 664.6h-1.6M154.9 664.6h1.6M65.8 684.9h-1.6M154.9 684.9h1.6M65.8 705.2h-4.5M154.9 705.2h4.5"/></g>
<text transform="translate(64.8 87.0) scale(0.84 1)" font-size="13.1" text-anchor="middle" stroke="#262626" stroke-width="0.22">0.00</text><text transform="translate(64.8 724.0) scale(0.84 1)" font-size="13.1" text-anchor="middle" stroke="#262626" stroke-width="0.22">0.00</text><text transform="translate(100.4 87.0) scale(0.84 1)" font-size="13.1" text-anchor="middle" stroke="#262626" stroke-width="0.22">2.00</text><text transform="translate(100.4 724.0) scale(0.84 1)" font-size="13.1" text-anchor="middle" stroke="#262626" stroke-width="0.22">2.00</text><text transform="translate(136.1 87.0) scale(0.84 1)" font-size="13.1" text-anchor="middle" stroke="#262626" stroke-width="0.22">4.00</text><text transform="translate(136.1 724.0) scale(0.84 1)" font-size="13.1" text-anchor="middle" stroke="#262626" stroke-width="0.22">4.00</text><text transform="translate(59.0 100.5) scale(0.84 1)" font-size="13.1" text-anchor="end" stroke="#262626" stroke-width="0.22">0.00</text><text transform="translate(59.0 202.2) scale(0.84 1)" font-size="13.1" text-anchor="end" stroke="#262626" stroke-width="0.22">-5.00</text><text transform="translate(59.0 303.9) scale(0.84 1)" font-size="13.1" text-anchor="end" stroke="#262626" stroke-width="0.22">-10.00</text><text transform="translate(59.0 405.6) scale(0.84 1)" font-size="13.1" text-anchor="end" stroke="#262626" stroke-width="0.22">-15.00</text><text transform="translate(59.0 507.3) scale(0.84 1)" font-size="13.1" text-anchor="end" stroke="#262626" stroke-width="0.22">-20.00</text><text transform="translate(59.0 609.0) scale(0.84 1)" font-size="13.1" text-anchor="end" stroke="#262626" stroke-width="0.22">-25.00</text><text transform="translate(59.0 710.8) scale(0.84 1)" font-size="13.1" text-anchor="end" stroke="#262626" stroke-width="0.22">-30.00</text><text transform="translate(159.5 100.5) scale(0.84 1)" font-size="13.1" text-anchor="start" stroke="#262626" stroke-width="0.22">0.00</text><text transform="translate(159.5 202.2) scale(0.84 1)" font-size="13.1" text-anchor="start" stroke="#262626" stroke-width="0.22">-5.00</text><text transform="translate(159.5 303.9) scale(0.84 1)" font-size="13.1" text-anchor="start" stroke="#262626" stroke-width="0.22">-10.00</text><text transform="translate(159.5 405.6) scale(0.84 1)" font-size="13.1" text-anchor="start" stroke="#262626" stroke-width="0.22">-15.00</text><text transform="translate(159.5 507.3) scale(0.84 1)" font-size="13.1" text-anchor="start" stroke="#262626" stroke-width="0.22">-20.00</text><text transform="translate(159.5 609.0) scale(0.84 1)" font-size="13.1" text-anchor="start" stroke="#262626" stroke-width="0.22">-25.00</text><text transform="translate(159.5 710.8) scale(0.84 1)" font-size="13.1" text-anchor="start" stroke="#262626" stroke-width="0.22">-30.00</text><text transform="translate(46.8 67.0) scale(0.831 1)" font-size="19.5" text-anchor="start" font-family="Liberation Sans, Noto Sans CJK SC, sans-serif" fill="#262626">未注浆</text><text transform="translate(111.4 66.7) scale(0.762 1)" font-size="20.2" text-anchor="start" stroke="#262626" stroke-width="0.22">CT</text><path d="M132.0 69.3h8.6" stroke="#262626" stroke-width="1.4"/><text transform="translate(140.7 67.0) scale(0.831 1)" font-size="19.5" text-anchor="start" font-family="Liberation Sans, Noto Sans CJK SC, sans-serif" fill="#262626">波速</text>
<g clip-path="url(#c1)"><g filter="url(#bl)"><rect x="236" y="392" width="101" height="155" fill="#0014ff"/><path fill="#003bff" d="M234.2 389.4l104.2 0l0 160.3l-104.2 0z"/><path fill="#0062ff" d="M234.2 389.4l104.2 0l0 160.3l-104.2 0z"/><path fill="#0089ff" d="M234.2 389.4l104.2 0l0 160.3l-104.2 0z"/><path fill="#00b1ff" d="M234.2 389.4l104.2 0l0 160.3l-104.2 0z"/><path fill="#00d8ff" d="M234.2 389.4l104.2 0l0 160.3l-104.2 0z"/><path fill="#00ffff" d="M234.2 389.4l104.2 0l0 160.3l-104.2 0z"/><path fill="#00ffd8" d="M234.2 389.4l104.2 0l0 125.7l-17.8 0.3l-2.3 1.2l-0.9 2.6l0 2.5l0.9 2.6l2.3 1.2l17.8 0.4l0 23.8l-104.2 0z"/><path fill="#00ffb1" d="M234.2 389.4l104.2 0l0 121.7l-15.6 0l-4.4 0.7l-2.8 2.3l-1.4 2.5l-0.6 2.6l0.6 5.1l1.4 2.5l2.8 2.4l4.4 0.8l15.6 0l0 19.7l-104.2 0z"/><path fill="#00ff89" d="M234.2 389.4l104.2 0l0 119l-15.6 0l-4.4 0.5l-4 2.7l-2 2.5l-1.9 5.1l0.6 5.1l1.3 2.5l3.8 4.4l2.2 1.5l4.4 0.9l15.6 0l0 16.1l-104.2 0z"/><path fill="#00ff62" d="M234.2 389.4l104.2 0l0 116.9l-17.8 0.1l-4.4 1.1l-2.4 1.5l-6.5 6.8l-4.6 3.4l0.2 2.8l4.4 3.2l10.3 11.8l2 5.1l0.1 7.6l-85.5 0z"/><path fill="#00ff3b" d="M234.2 389.4l104.2 0l0 115.3l-17.8 0.1l-4.4 0.7l-2.4 1l-6.5 4.6l-6.6 1.5l-2.2 1.4l-1.3 2.6l-0.4 2.6l0.4 5.1l1.3 2.6l2.2 1.4l6.6 1.6l2.3 1.5l2.7 3.1l1.8 5.1l0.2 10.1l-80.1 0z"/><path fill="#00ff14" d="M234.2 389.4l104.2 0l0 113.9l-17.8 0.1l-5.1 0.5l-8.2 3.9l-8.8 1.5l-3 2.3l-2 5l0 7.7l1.9 5.1l3.1 2.4l8.8 2l2.9 3.2l0.8 5.1l0 7.6l-76.8 0z"/><path fill="#14ff00" d="M234.2 389.4l104.2 0l0 112.7l-17.8 0l-6.6 0.6l-6.7 2l-12.4 1.8l-5.4 2.5l-2.5 2.6l-0.5 7.6l0.9 16.1l2.2 6.8l1.9 2.5l0.3 2.2l1.5 0.4l0.8 2.5l-59.9 0z"/><path fill="#3bff00" d="M338.4 389.4l0 111.5l-24.4 0.2l-13.3 1l-17.7 2.3l-2.7 2.1l-0.7 2.5l0.8 17.8l-0.9 10.2l-0.2 12.7l-45.1 0l0-89.5l15.6-0.1l4.4-0.8l1.4-1.2l1.4-2.5l0.8-5.1l-0.8-7.7l-2.8-4.2l-4.4-1.2l-15.6-0.1l0-47.9z"/><path fill="#62ff00" d="M338.4 389.4l0 110.4l-22.2-0.1l-13.3-0.6l-22.1 2.8l-3.2 2l-1.1 2.6l-0.4 2.5l0.2 5.1l1.4 7.6l0.3 5.1l-1.9 12.8l-0.1 10.1l-41.8 0l0-86.1l17.8-0.1l4.4-0.7l2.7-2.2l1.1-2.5l0.9-7.6l-0.8-10.2l-2.9-10.2l-1.5-2.6l-3.9-0.8l-17.8 0l0-37.3z"/><path fill="#89ff00" d="M338.4 389.4l0 109.3l-20-0.1l-15.5-1.7l-13.3 1.8l-11.1 0.3l-4.4 1l-1.7 1.4l-1.1 2.5l-0.6 5.1l0.3 2.6l4.1 10.1l0.5 5.1l-1.5 5.8l-3.1 7l-0.4 10.1l-36.4 0l0-84l22.2-0.3l4.4-0.9l2.6-1.3l1.8-2.6l0.9-2.5l0.4-10.2l-1.4-17.8l-0.8-2.6l-3.5-2.5l-4.4-0.7l-22.2-0.2l0-34.7z"/><path fill="#b1ff00" d="M234.2 389.4l104.2 0l0 49.8l-22.2 0.1l-2.6 1l-0.5 5.1l0.6 5.1l2.5 2.5l4.4 0.7l17.8 0.1l0 43.8l-20-0.1l-13.3-2.2l-22.1 0.6l-2.2-0.6l-2.4-1.6l-1.8-7.6l-1.3-2.5l-3.4-3l-2.2-0.5l-2.2 0.4l-2.2 2.2l-4 8.5l-2.7 2.2l-2.2 0.9l-4.4 0.6l-17.8 0.1l0-27.8l22.2 0.2l11.1 1.9l2.2-0.1l2.2-1l1.8-2.5l1.1-5.1l0.4-17.8l2-12.7l-0.9-5.3l-2.2-2.3l-2.2-0.6l-37.7 0.6zM298.5 420.3l-2.2 3l-0.9 4.2l0.6 5.1l1.3 2.6l3.4 2.8l2.2 0.6l6.7 0.1l2.2-0.6l0.8-2.9l-0.2-7.7l-0.8-2.5l-1.8-2.5l-2.5-2.4l-2.2-0.9l-4.4 0.1zM234.2 516.3l22.2 0.4l13.3 4.1l2.2 2l0.6 4l-0.6 1.5l-2.2 2l-4.4 2l-2.3 3.6l-0.6 3.7l-0.1 10.1l-28.1 0z"/><path fill="#d8ff00" d="M234.2 421.4l0-32l67.9 0l-0.1 12.7l-1.1 5.1l-1.5 2.5l-7.6 4.6l-4.4 1.8l-6.6 1.5l-13.3 0.7l-11.1 2.9zM306 389.4l32.4 0l0 38.5l-13.3 0l-4.5-0.5l-2.2-1.1l-6.6-6.5l-3.8-5l-2.5-5.1zM283 433.9l2.2-1.7l2.2 0l2.2 1.4l13.3 15.9l11.1 5.6l6.6 0.9l17.8 0l0 40.5l-20-0.2l-11.1-2.3l-13.2-0.8l-5-2l-8.3-8.5l-5.3-6.8l-0.4-2.5l1.7-5.1l1-5.1l0.8-20.4l2.2-5.8zM234.2 468.7l20 0.2l4.4 0.7l2.7 1.2l2.5 2.6l0.6 2.5l-3 10.2l-1.4 2.5l-2.9 2.6l-2.9 1l-20 0.3zM234.2 519.1l20 0.2l4.4 1.3l1.9 1.1l2.3 2.6l0.4 2.5l-3.7 10.2l-0.3 12.7l-25 0z"/><path fill="#ffff00" d="M234.2 420.4l0-31l59.1 0l-0.2 10.1l-1.3 4.3l-2.2 1.8l-6.6 2.1l-6.7 5.6l-2.2 1l-6.6 1l-6.7 3.3l-4.4 1.4zM314.8 389.4l23.6 0l0 32.6l-15.6 0l-4.4-0.5l-2.2-1l-3.3-3.1l-1.4-2.6l-0.7-2.5l0.2-2.6l3.5-10.2zM283 443.1l2.2-1.5l2.2-0.1l3.1 1.3l1.9 2.6l1.8 7.6l2.1 1.8l1.9 0.8l20.2 2l20 0.1l0 37.6l-20-0.2l-8.8-2l-11.1-0.8l-4.4-1.6l-2-2.1l-2.5-6.5l-2.2-3.5l-4.4-2.1l-2.3-3.1l0.8-10.2l0.2-15.3zM234.2 470.2l17.8 0l4.4 0.6l2.2 1l1.8 1.6l1 2.5l-1.1 7.7l-1.7 3.6l-2.2 2.1l-2.2 0.9l-20 0.4zM234.2 521.5l19.5 0.2l2.7 0.9l2.2 1.7l0.9 2.5l-3.8 12.8l-0.1 10.1l-21.4 0z"/><path fill="#ffd800" d="M234.2 419.4l0-30l47.2 0l0 7.6l-0.7 5.1l-2.7 5.1l-3.9 3.4l-6.6 1.6l-2.2 1l-5.1 4.2l-3.8 1.5l-4.4 0.4zM314 409.7l2.2-3.4l2.2-1.5l2.2-0.6l17.8-0.3l0 15.4l-15.6 0l-4.4-0.6l-2.4-1.3l-1.9-2.6l-0.6-2.5zM291.9 463.2l2.2-2.8l4.4-1.5l39.9 0.2l0 35l-20-0.2l-8.8-1.9l-10-0.8l-3.3-1.1l-1.9-1.5l-1.5-2.5l-2.6-10.2l-0.1-7.6zM234.2 471.7l20 0.3l3.3 1.4l1.7 2.5l0.2 2.6l-0.9 5.1l-1.3 2.5l-3 2.1l-2.2 0.5l-17.8 0.1zM234.2 532.8l0-8.4l17.8 0.2l2.2 1l1.2 1.2l-0.4 2.6l-0.8 1.3l-2.2 1.6l-4.5 0.5z"/><path fill="#ffb100" d="M234.2 418.5l0-29.1l43.4 0l-0.5 12.7l-1.1 2.5l-1.9 2.2l-2.2 1.2l-4.4 0.9l-2.2 1.1l-4 4.8l-2.7 2.1l-2.2 0.9l-4.4 0.6zM316.6 412.3l1.4-2.6l2.6-1.1l17.8-0.2l0 8.1l-17.8-0.2l-3.1-1.5zM294.3 465.7l2-2.6l4.4-1.9l37.7-0.7l0 32.3l-20-0.2l-8.8-1.7l-8.9-0.7l-4.2-1.6l-2-2.5l-1-2.5l-1.2-7.7l0.3-5.1zM234.2 473.3l15.6 0l4.4 0.6l2.6 2l0.6 2.6l-0.9 5.1l-2.3 2.5l-2.2 0.5l-17.8 0.2z"/><path fill="#ff8900" d="M234.2 417.5l0-28.1l40 0l-0.1 7.8l-1.1 4.9l-1.1 1.3l-6.6 2.9l-3.9 6l-2.8 3.1l-2.2 1.3l-4.4 0.8zM296.3 466.7l2.2-2.2l4.4-1.3l15.5-1.2l20 0l0 29.5l-20-0.1l-8.8-1.6l-8.9-0.7l-2.2-0.7l-2.6-2.3l-1.1-2.5l-0.8-5.1l0.1-5.4zM234.2 475.8l17.8 0.3l2.2 1.7l0.3 3.2l-2.5 2.8l-17.8 0.3z"/><path fill="#ff6200" d="M234.2 389.4l30.8 0l0 7.6l-0.8 5.1l-4.5 10.2l-2.2 2.5l-3.3 1.4l-20 0.3zM296.3 470.7l2.2-3.4l2.2-1.3l17.7-2.3l20-0.1l0 26.6l-20-0.2l-15.5-1.7l-4.4-1.4l-2.2-2.9l-0.8-3l-0.3-5.1z"/><path fill="#ff3b00" d="M234.2 389.4l27.5 0l-0.4 12.7l-2 7.6l-1.2 2.6l-1.7 1.6l-2.2 1.2l-2.2 0.3l-17.8 0.1zM297.1 473.4l1.4-3.1l2.2-1.8l2.2-0.7l6.7-0.5l8.8-1.7l20-0.2l0 23.4l-20-0.2l-17.7-2l-2.2-1.5l-1-1.5l-1-5.1z"/><path fill="#ff0000" d="M234.2 389.4l25.1 0l-0.5 15.2l-1.2 5.1l-1.4 2.6l-2 1.2l-2.2 0.5l-17.8 0.2zM298.5 474.3l2.2-3.1l2.2-0.9l6.7-0.6l8.8-1.7l20-0.1l0 19.2l-20-0.1l-15.5-1.3l-2.2-0.8l-1.5-1.3l-0.7-1.5l-0.5-3.6z"/></g><path d="M241.0 397.3h9a8 8 0 0 1-8 8h-1z" fill="#18dcb8"/><path d="M241.0 397.3h6.6a5.6 5.6 0 0 1-5.6 5.6h-1z" fill="#fff"/></g>
<g stroke="#383838" stroke-width="1.5" fill="none"><path d="M242.0 92.8H330.6V703.8H242.0z"/><path stroke-width="1.2" d="M242.0 92.8v-4.5M242.0 703.8v4.5M259.7 92.8v-4.5M259.7 703.8v4.5M277.4 92.8v-4.5M277.4 703.8v4.5M295.2 92.8v-4.5M295.2 703.8v4.5M312.9 92.8v-4.5M312.9 703.8v4.5M330.6 92.8v-4.5M330.6 703.8v4.5M242.0 92.8h-4.5M330.6 92.8h4.5M242.0 113.2h-1.6M330.6 113.2h1.6M242.0 133.5h-1.6M330.6 133.5h1.6M242.0 153.9h-1.6M330.6 153.9h1.6M242.0 174.3h-1.6M330.6 174.3h1.6M242.0 194.6h-4.5M330.6 194.6h4.5M242.0 215.0h-1.6M330.6 215.0h1.6M242.0 235.4h-1.6M330.6 235.4h1.6M242.0 255.7h-1.6M330.6 255.7h1.6M242.0 276.1h-1.6M330.6 276.1h1.6M242.0 296.5h-4.5M330.6 296.5h4.5M242.0 316.8h-1.6M330.6 316.8h1.6M242.0 337.2h-1.6M330.6 337.2h1.6M242.0 357.5h-1.6M330.6 357.5h1.6M242.0 377.9h-1.6M330.6 377.9h1.6M242.0 398.3h-4.5M330.6 398.3h4.5M242.0 418.6h-1.6M330.6 418.6h1.6M242.0 439.0h-1.6M330.6 439.0h1.6M242.0 459.4h-1.6M330.6 459.4h1.6M242.0 479.7h-1.6M330.6 479.7h1.6M242.0 500.1h-4.5M330.6 500.1h4.5M242.0 520.5h-1.6M330.6 520.5h1.6M242.0 540.8h-1.6M330.6 540.8h1.6M242.0 561.2h-1.6M330.6 561.2h1.6M242.0 581.6h-1.6M330.6 581.6h1.6M242.0 601.9h-4.5M330.6 601.9h4.5M242.0 622.3h-1.6M330.6 622.3h1.6M242.0 642.7h-1.6M330.6 642.7h1.6M242.0 663.0h-1.6M330.6 663.0h1.6M242.0 683.4h-1.6M330.6 683.4h1.6M242.0 703.8h-4.5M330.6 703.8h4.5"/></g>
<text transform="translate(241.0 84.8) scale(0.84 1)" font-size="13.1" text-anchor="middle" stroke="#262626" stroke-width="0.22">0.00</text><text transform="translate(241.0 722.5) scale(0.84 1)" font-size="13.1" text-anchor="middle" stroke="#262626" stroke-width="0.22">0.00</text><text transform="translate(276.4 84.8) scale(0.84 1)" font-size="13.1" text-anchor="middle" stroke="#262626" stroke-width="0.22">2.00</text><text transform="translate(276.4 722.5) scale(0.84 1)" font-size="13.1" text-anchor="middle" stroke="#262626" stroke-width="0.22">2.00</text><text transform="translate(311.9 84.8) scale(0.84 1)" font-size="13.1" text-anchor="middle" stroke="#262626" stroke-width="0.22">4.00</text><text transform="translate(311.9 722.5) scale(0.84 1)" font-size="13.1" text-anchor="middle" stroke="#262626" stroke-width="0.22">4.00</text><text transform="translate(235.2 98.3) scale(0.84 1)" font-size="13.1" text-anchor="end" stroke="#262626" stroke-width="0.22">0.00</text><text transform="translate(235.2 200.1) scale(0.84 1)" font-size="13.1" text-anchor="end" stroke="#262626" stroke-width="0.22">-5.00</text><text transform="translate(235.2 302.0) scale(0.84 1)" font-size="13.1" text-anchor="end" stroke="#262626" stroke-width="0.22">-10.00</text><text transform="translate(235.2 403.8) scale(0.84 1)" font-size="13.1" text-anchor="end" stroke="#262626" stroke-width="0.22">-15.00</text><text transform="translate(235.2 505.6) scale(0.84 1)" font-size="13.1" text-anchor="end" stroke="#262626" stroke-width="0.22">-20.00</text><text transform="translate(235.2 607.4) scale(0.84 1)" font-size="13.1" text-anchor="end" stroke="#262626" stroke-width="0.22">-25.00</text><text transform="translate(235.2 709.2) scale(0.84 1)" font-size="13.1" text-anchor="end" stroke="#262626" stroke-width="0.22">-30.00</text><text transform="translate(335.2 98.3) scale(0.84 1)" font-size="13.1" text-anchor="start" stroke="#262626" stroke-width="0.22">0.00</text><text transform="translate(335.2 200.1) scale(0.84 1)" font-size="13.1" text-anchor="start" stroke="#262626" stroke-width="0.22">-5.00</text><text transform="translate(335.2 302.0) scale(0.84 1)" font-size="13.1" text-anchor="start" stroke="#262626" stroke-width="0.22">-10.00</text><text transform="translate(335.2 403.8) scale(0.84 1)" font-size="13.1" text-anchor="start" stroke="#262626" stroke-width="0.22">-15.00</text><text transform="translate(335.2 505.6) scale(0.84 1)" font-size="13.1" text-anchor="start" stroke="#262626" stroke-width="0.22">-20.00</text><text transform="translate(335.2 607.4) scale(0.84 1)" font-size="13.1" text-anchor="start" stroke="#262626" stroke-width="0.22">-25.00</text><text transform="translate(335.2 709.2) scale(0.84 1)" font-size="13.1" text-anchor="start" stroke="#262626" stroke-width="0.22">-30.00</text><text transform="translate(212.7 64.5) scale(0.84 1)" font-size="20.2" text-anchor="start" stroke="#262626" stroke-width="0.22">-21m</text><text transform="translate(251.3 64.8) scale(0.831 1)" font-size="19.5" text-anchor="start" font-family="Liberation Sans, Noto Sans CJK SC, sans-serif" fill="#262626">注浆</text><text transform="translate(299.7 64.5) scale(0.762 1)" font-size="20.2" text-anchor="start" stroke="#262626" stroke-width="0.22">CT</text><path d="M320.3 67.1h8.6" stroke="#262626" stroke-width="1.4"/><text transform="translate(329.0 64.8) scale(0.831 1)" font-size="19.5" text-anchor="start" font-family="Liberation Sans, Noto Sans CJK SC, sans-serif" fill="#262626">波速</text>
<g clip-path="url(#c2)"><g filter="url(#bl)"><rect x="418" y="331" width="101" height="216" fill="#0014ff"/><path fill="#003bff" d="M416.7 328.3l104.6 0l0 221.4l-104.6 0z"/><path fill="#0062ff" d="M416.7 328.3l104.6 0l0 221.4l-104.6 0z"/><path fill="#0089ff" d="M416.7 328.3l104.6 0l0 221.4l-104.6 0z"/><path fill="#00b1ff" d="M416.7 328.3l104.6 0l0 221.4l-104.6 0z"/><path fill="#00d8ff" d="M416.7 328.3l104.6 0l0 221.4l-104.6 0z"/><path fill="#00ffff" d="M416.7 328.3l104.6 0l0 221.4l-104.6 0z"/><path fill="#00ffd8" d="M416.7 328.3l104.6 0l0 221.4l-104.6 0z"/><path fill="#00ffb1" d="M416.7 328.3l104.6 0l0 221.4l-104.6 0z"/><path fill="#00ff89" d="M442.5 328.3l78.8 0l0 94.3l-20 0.3l-4.3 2.1l-1.1 2.5l-0.2 2.6l1.1 5.3l2.1 2.3l2.4 1.1l20 0.4l0 74.2l-17.8 0.3l-0.8 0.4l-1.6 2.5l1.3 2.6l1.1 0.8l2.2 0.4l15.6 0l0 29.3l-104.6 0l0-206.3l17.8-0.1l4.5-1.1l1.7-1.2l1.4-2.5z"/><path fill="#00ff62" d="M452.7 328.3l68.6 0l0 91.6l-17.8 0l-6.7 0.7l-9.9 4.4l-1.2 1.1l-0.6 1.4l-0.2 20.4l1.2 2.6l4 0.4l31.2-0.3l0 59.1l-17.8 0.2l-2.2 0.6l-1.7 1.1l-1.5 2.5l0 5.1l4.1 10.2l0.3 2.5l0.1 17.8l-85.9 0l0-160.3l22.3 0.2l11.1 2.2l2.2-1.2l0.5-1.2l-0.3-2.6l-2.4-0.9l-33.4 0l0-39.8l20-0.2l7.3-2.4l8.2-5zM449.7 509l0.4 1.1l1.9 1.5l13.7 0.3l3.6-0.3l0.9-2.6l-2.3-0.8l-13.4-1.7l-2.2 0l-2.2 1.5zM467.9 406.9l-0.4 0.3l0.1 2.5l2.5 0.4l0.4-0.4l-0.1-2.5z"/><path fill="#00ff3b" d="M416.7 348.5l20-0.2l15.6-2.9l2.2-0.9l2.3-3.5l0.5-12.7l64 0l0 89.2l-22.3 0l-17.8-1.4l-2.2-2.7l-2.2-7.2l-2.4-4.1l-2.1-1.4l-2.2-0.6l-9-0.6l-2.1-2.5l-0.6-10.2l-1.6-4.1l-2.3-2l-4.4-1.1l-33.4 0zM416.7 394.1l17.8 0.1l4.5 0.4l4.4 1.6l6.7 3.9l6.7 0.7l2.2 2.7l2.7 8.8l1.7 2.7l2.3 1.3l2.2 0.5l9 0.6l2.1 2.5l0.6 30.6l0.6 2.5l2.9 2.6l4.8 0.5l13.4-0.8l20-0.1l0 51.9l-20 0.4l-3.1 1.5l-1.9 2.6l-1 5l1.8 12.8l0.1 20.3l-80.5 0zM444.6 503.9l-0.7 5.1l0.2 2.6l1.1 2.5l2.7 1.6l22.2 1.4l2.6-0.5l2.9-2.5l0.6-2.5l-0.6-5.1l-1.6-2.6l-1.7-1.2l-11.1-2l-8.9-3.1l-2.2 0.1l-2.2 1l-2.3 2.5z"/><path fill="#00ff14" d="M416.7 351.1l22.3-0.2l15.5-2.2l2.3-1.6l2.2-4.4l0.6-4.2l0-10.2l61.7 0l0 86.6l-20-0.2l-4.5-1.2l-6.7-3.2l-6.6-1.4l-2.3-2.2l-4.4-6.8l-2.2-2.1l-2.3-1.1l-6.6-1.1l-1.9-1.1l-1.3-2.6l-1.5-7.6l-1.6-2.6l-2.6-3l-2.3-1.8l-2.2-0.9l-35.6-0.3zM416.7 396.3l17.8 0.1l4.5 0.7l2.2 0.9l2.2 1.6l4.5 5.4l2.2 1.6l4.4 1.5l2.3 2.5l2.2 4.6l2.2 3.2l2.2 1.4l8.9 1.6l1.9 1.1l1.3 2.5l0.4 2.5l0.5 25.5l1 2.6l1.6 1.5l2.2 1.1l4.5 0.6l15.6-1.3l20-0.1l0 47.5l-20 0.2l-4.4 1.4l-2.5 2.5l-1.1 2.6l-0.5 5l1 12.8l0 20.3l-77.1 0zM450.1 461.4l-2.2 1l-1.5 3.3l-1.1 12.8l-2 15.2l-2 7.7l-0.8 5.1l0.2 5.1l0.8 2.5l2.3 2.5l4.1 1.6l20 1.7l7-0.7l3.5-2.6l1-2.5l0.2-5.1l-0.6-2.5l-1.3-2.6l-3.1-3.6l-4.5-2.2l-6.7-1.1l-1.3-0.7l-2.4-2.6l-1-5.1l-0.1-17.8l-0.5-5.1l-1.3-2.6l-2.3-1.4z"/><path fill="#14ff00" d="M461.9 328.3l32.7 0l0 10.2l15.6 0l2.2 2.5l0 58.5l-2.2 0.3l-2.2 2.3l-4.5 1.1l-15.6 0.1l-4.4-1.2l-11.2-11.7l-6.6-5l-12.2-13.9l-1.2-2.1l-0.9-0.4l-1.3-2.3l-0.9-0.2l-1.3-2.5l-0.8-0.1l0.3-2.5l9.4-9.3l2.2-2.8l1.6-3.2l1.1-5.1zM416.7 398.2l17.8 0.1l4.5 0.9l2.2 1.4l3.1 4l6.6 12.8l1.4 7.4l2.2 6.6l1.6 1.2l0.7 2.5l0.7 0.1l1.5 2.5l0 2.6l-2.2 1l-0.3 1.5l-2 0.4l-2.2 2.2l-6.7 2.9l-3 2.2l-0.3 20.3l-1.2 7.7l-2.1 4.4l-2.3 3.1l-11.1 12.8l-8.9 0zM470.1 461.8l2.2-0.4l17.8-0.2l11.2-1.7l20-0.1l0 43.6l-22.3 0.3l-4.4 1.2l-3.7 2l-3 2.5l-2.2-0.1l-15.5-17.7l-1.4-2.6l0.3-22.9zM416.7 501.4l8.9 0l11.2 12.7l2.7 2.5l4.3 2.6l4.1 1l8.9 0.4l8.9 1.5l17.8 0.3l2.2 1.2l0.9 8.3l0.2 17.8l-70.1 0z"/><path fill="#3bff00" d="M464.8 328.3l11.6 0l0.1 17.8l0.3 2.5l1.2 2.6l2.7 2.5l2.8 1.2l8.9 1.5l3 2.4l1.3 2.6l0.9 7.6l-0.9 7.6l-2 7.7l-1 7.6l-1.3 2.6l-2.3 1.4l-4.4 0.4l-2.2-0.9l-3.1-3.5l-2.6-7.6l-3.2-1.9l-8.9-1.4l-2.3-1.3l-3.1-3.1l-2.9-5.1l-0.5-5l0.8-7.7l0.9-2.5l4.6-7.7l1.3-5.1zM416.7 400.1l20 0.4l3.1 1.6l2.1 2.5l2.8 7.7l-0.1 5.1l-2.9 7.6l-1.4 7.6l-1.3 2.7l-2.3 1.4l-4.4 0.6l-15.6 0zM416.7 461l17.8 0.3l2.2 1.1l1.5 3.3l0.4 2.6l-0.5 5.1l-1.4 3l-2.2 1.3l-2.2 0.3l-15.6 0.1zM481.2 465.9l2.3-0.8l6.6-0.8l6.7-2.1l4.5-0.7l20-0.2l0 39.9l-22.3 0.1l-11.1 0.9l-4.4-0.8l-2.3-1.5l-3.1-3.6l-1.3-2.6l-0.7-5.1l0.3-5l3.3-15.3zM416.7 518.2l17.8 0.2l11.1 3.3l11.2 0.7l8.9 2.3l8.9 1.2l2.2 1.4l2.1 4.6l0.8 5.1l0.1 12.7l-63.1 0z"/><path fill="#62ff00" d="M463.4 354.9l4.5-2.2l2.2-0.1l4.5 1.5l6.6 3.8l8.9 2l2.3 1.4l1.3 2.6l0.5 5.1l-0.8 5.1l-1 2.7l-2.3 2.5l-2.2 1l-2.2 0.2l-8.9-1.3l-8.9-0.3l-4.5-1.8l-2.6-3l-1.1-2.6l-0.5-5l0.6-5.1l0.8-2.6zM416.7 402l17.8 0.2l2.2 0.5l2.3 1.4l1.9 3.1l1.4 5.1l-0.6 5.1l-1.5 2.5l-3.5 3l-2.2 0.7l-17.8 0.2zM481.1 481l2.4-2.7l6.9-2.4l2.1-2.5l1.5-5.1l2.8-3l2.2-0.9l4.5-0.8l17.8-0.1l0 36l-22.3-0.1l-13.3-1.2l-2.2-0.7l-2.3-1.9l-1.6-4.4l0-5.1zM416.7 521.6l17.8 0.1l11.1 1.7l8.9 0.5l4.5 0.9l6.7 3.2l6.6 1.8l2.3 2.1l1.6 5.1l0.2 12.7l-59.7 0z"/><path fill="#89ff00" d="M462.3 361.4l1.1-2.2l2.3-1.7l2.2-0.6l4.4 0.2l4.2 1.7l7 4.9l4.4 2.5l0.5 2.8l-1.8 2.5l-4.7 2.6l-5.1 1.9l-6.7 0.6l-4.4-0.7l-2.5-1.8l-1.3-2.6l-0.6-5zM416.7 404.6l15.6 0l4.4 1.1l2.3 2.7l1 3.9l-0.2 2.5l-0.8 1.9l-2.3 2l-2.2 0.6l-17.8 0.2zM485.2 488.6l1.7-2.5l3.2-1.8l7.8-8.4l3.4-5.6l2.2-1.9l17.8-0.3l0 29.5l-17.8 0l-6.7-0.8l-11.1-5.4zM416.7 524.1l20 0.1l17.8 1.3l4.5 1.3l3.7 2.6l7.4 8.4l1 4.3l0 7.6l-54.4 0z"/><path fill="#b1ff00" d="M465.7 361.5l2.2-0.9l2.2-0.2l4.5 1.4l2.2 2.1l0.9 2.6l0 2.5l-1.1 2.5l-2 1.4l-4.5 1l-2.2-0.2l-2.2-1.1l-1.9-3.6l-0.1-2.5l0.6-2.6zM416.7 408.8l15.6 0.1l2.9 0.8l1.6 2.6l-1.5 2.5l-0.8 0.4l-17.8 0.3zM496.2 486.1l2.8-4.3l2.3-1.5l2.2-0.6l17.8-0.2l0 15.7l-17.8 0l-4.5-0.9l-1.2-0.6l-1.8-2.5l-0.2-2.6zM416.7 526l20 0l15.6 1l4.5 0.8l2.8 1.6l1.6 1.7l2 3.4l1.2 5.1l0.1 10.1l-47.8 0z"/><path fill="#d8ff00" d="M416.7 527.6l22.3 0.2l13.3 0.8l4.5 1l2.8 2.3l2.4 5.1l0.4 12.7l-45.7 0z"/><path fill="#ffff00" d="M416.7 529.1l22.3 0.2l13.3 0.9l4.5 1.4l2.5 2.9l0.9 2.5l0.5 12.7l-44 0z"/><path fill="#ffd800" d="M416.7 530.5l20 0.1l17.8 1.8l2.8 2.1l1.2 2.5l0.6 12.7l-42.4 0z"/><path fill="#ffb100" d="M416.7 531.9l20 0.1l17.5 2.5l2.4 2.5l0.6 2.6l0.2 10.1l-40.7 0z"/><path fill="#ff8900" d="M416.7 533.5l20 0.1l15.6 3.2l2.4 2.8l0.3 10.1l-38.3 0z"/><path fill="#ff6200" d="M416.7 535.5l17.8 0l7 1.5l2.7 2.6l0.8 2.5l0.1 7.6l-28.4 0z"/><path fill="#ff3b00" d="M416.7 539.3l18.3 0.3l2.3 2.5l0.2 7.6l-20.8 0z"/></g><path d="M423.5 336.2h8.5a7.5 7.5 0 0 1-7.5 7.5h-1z" fill="#3a78f0"/><path d="M423.5 336.2h6.2a5.2 5.2 0 0 1-5.2 5.2h-1z" fill="#fff"/></g>
<g stroke="#383838" stroke-width="1.5" fill="none"><path d="M424.5 92.8H513.5V703.8H424.5z"/><path stroke-width="1.2" d="M424.5 92.8v-4.5M424.5 703.8v4.5M442.3 92.8v-4.5M442.3 703.8v4.5M460.1 92.8v-4.5M460.1 703.8v4.5M477.9 92.8v-4.5M477.9 703.8v4.5M495.7 92.8v-4.5M495.7 703.8v4.5M513.5 92.8v-4.5M513.5 703.8v4.5M424.5 92.8h-4.5M513.5 92.8h4.5M424.5 113.2h-1.6M513.5 113.2h1.6M424.5 133.5h-1.6M513.5 133.5h1.6M424.5 153.9h-1.6M513.5 153.9h1.6M424.5 174.3h-1.6M513.5 174.3h1.6M424.5 194.6h-4.5M513.5 194.6h4.5M424.5 215.0h-1.6M513.5 215.0h1.6M424.5 235.4h-1.6M513.5 235.4h1.6M424.5 255.7h-1.6M513.5 255.7h1.6M424.5 276.1h-1.6M513.5 276.1h1.6M424.5 296.5h-4.5M513.5 296.5h4.5M424.5 316.8h-1.6M513.5 316.8h1.6M424.5 337.2h-1.6M513.5 337.2h1.6M424.5 357.5h-1.6M513.5 357.5h1.6M424.5 377.9h-1.6M513.5 377.9h1.6M424.5 398.3h-4.5M513.5 398.3h4.5M424.5 418.6h-1.6M513.5 418.6h1.6M424.5 439.0h-1.6M513.5 439.0h1.6M424.5 459.4h-1.6M513.5 459.4h1.6M424.5 479.7h-1.6M513.5 479.7h1.6M424.5 500.1h-4.5M513.5 500.1h4.5M424.5 520.5h-1.6M513.5 520.5h1.6M424.5 540.8h-1.6M513.5 540.8h1.6M424.5 561.2h-1.6M513.5 561.2h1.6M424.5 581.6h-1.6M513.5 581.6h1.6M424.5 601.9h-4.5M513.5 601.9h4.5M424.5 622.3h-1.6M513.5 622.3h1.6M424.5 642.7h-1.6M513.5 642.7h1.6M424.5 663.0h-1.6M513.5 663.0h1.6M424.5 683.4h-1.6M513.5 683.4h1.6M424.5 703.8h-4.5M513.5 703.8h4.5"/></g>
<text transform="translate(423.5 84.8) scale(0.84 1)" font-size="13.1" text-anchor="middle" stroke="#262626" stroke-width="0.22">0.00</text><text transform="translate(423.5 722.5) scale(0.84 1)" font-size="13.1" text-anchor="middle" stroke="#262626" stroke-width="0.22">0.00</text><text transform="translate(459.1 84.8) scale(0.84 1)" font-size="13.1" text-anchor="middle" stroke="#262626" stroke-width="0.22">2.00</text><text transform="translate(459.1 722.5) scale(0.84 1)" font-size="13.1" text-anchor="middle" stroke="#262626" stroke-width="0.22">2.00</text><text transform="translate(494.7 84.8) scale(0.84 1)" font-size="13.1" text-anchor="middle" stroke="#262626" stroke-width="0.22">4.00</text><text transform="translate(494.7 722.5) scale(0.84 1)" font-size="13.1" text-anchor="middle" stroke="#262626" stroke-width="0.22">4.00</text><text transform="translate(417.7 98.3) scale(0.84 1)" font-size="13.1" text-anchor="end" stroke="#262626" stroke-width="0.22">0.00</text><text transform="translate(417.7 200.1) scale(0.84 1)" font-size="13.1" text-anchor="end" stroke="#262626" stroke-width="0.22">-5.00</text><text transform="translate(417.7 302.0) scale(0.84 1)" font-size="13.1" text-anchor="end" stroke="#262626" stroke-width="0.22">-10.00</text><text transform="translate(417.7 403.8) scale(0.84 1)" font-size="13.1" text-anchor="end" stroke="#262626" stroke-width="0.22">-15.00</text><text transform="translate(417.7 505.6) scale(0.84 1)" font-size="13.1" text-anchor="end" stroke="#262626" stroke-width="0.22">-20.00</text><text transform="translate(417.7 607.4) scale(0.84 1)" font-size="13.1" text-anchor="end" stroke="#262626" stroke-width="0.22">-25.00</text><text transform="translate(417.7 709.2) scale(0.84 1)" font-size="13.1" text-anchor="end" stroke="#262626" stroke-width="0.22">-30.00</text><text transform="translate(518.1 98.3) scale(0.84 1)" font-size="13.1" text-anchor="start" stroke="#262626" stroke-width="0.22">0.00</text><text transform="translate(518.1 200.1) scale(0.84 1)" font-size="13.1" text-anchor="start" stroke="#262626" stroke-width="0.22">-5.00</text><text transform="translate(518.1 302.0) scale(0.84 1)" font-size="13.1" text-anchor="start" stroke="#262626" stroke-width="0.22">-10.00</text><text transform="translate(518.1 403.8) scale(0.84 1)" font-size="13.1" text-anchor="start" stroke="#262626" stroke-width="0.22">-15.00</text><text transform="translate(518.1 505.6) scale(0.84 1)" font-size="13.1" text-anchor="start" stroke="#262626" stroke-width="0.22">-20.00</text><text transform="translate(518.1 607.4) scale(0.84 1)" font-size="13.1" text-anchor="start" stroke="#262626" stroke-width="0.22">-25.00</text><text transform="translate(518.1 709.2) scale(0.84 1)" font-size="13.1" text-anchor="start" stroke="#262626" stroke-width="0.22">-30.00</text><text transform="translate(394.6 64.5) scale(0.84 1)" font-size="20.2" text-anchor="start" stroke="#262626" stroke-width="0.22">-18m</text><text transform="translate(433.2 64.8) scale(0.831 1)" font-size="19.5" text-anchor="start" font-family="Liberation Sans, Noto Sans CJK SC, sans-serif" fill="#262626">注浆</text><text transform="translate(481.6 64.5) scale(0.762 1)" font-size="20.2" text-anchor="start" stroke="#262626" stroke-width="0.22">CT</text><path d="M502.2 67.1h8.6" stroke="#262626" stroke-width="1.4"/><text transform="translate(510.9 64.8) scale(0.831 1)" font-size="19.5" text-anchor="start" font-family="Liberation Sans, Noto Sans CJK SC, sans-serif" fill="#262626">波速</text>
<g clip-path="url(#c3)"><g filter="url(#bl)"><rect x="598" y="270" width="101" height="279" fill="#0014ff"/><path fill="#003bff" d="M596.2 267.1l105 0l0 285l-105 0z"/><path fill="#0062ff" d="M596.2 267.1l105 0l0 246.7l-20.1 0.3l-4.2 2.1l-0.4 2.6l2.4 3.5l2.2 1.9l2.2 0.7l17.9 0.2l0 27l-105 0z"/><path fill="#0089ff" d="M596.2 267.1l105 0l0 243l-22.3 0.4l-13.4 3.6l-2.2 2.1l2.2 1.8l4.4 1.4l2.3 1.4l6.7 7l2.2 1.4l4.5 0.7l15.6 0l0 22.2l-105 0z"/><path fill="#00b1ff" d="M596.2 267.1l105 0l0 239.5l-42.4-0.3l-2.3 0.4l-0.7 1.8l1.6 7.7l1 2.6l2.1 2.5l2.7 1.6l6.7 1.2l2.3 1.3l6.7 6.8l4.4 1.5l17.9 0.1l0 18.3l-105 0zM649.8 489.1l-2.2-0.7l-2.3 1.3l-4.4 5.9l-2.3 1.5l-6.7 1.1l-2.2 1.2l-0.7 1.4l0.2 2.6l2.7 0.9l13.2 1.6l8.4 0l0.3-2.5l-3.2-12.9z"/><path fill="#00d8ff" d="M596.2 267.1l105 0l0 235.7l-20.1-0.1l-4.5-0.9l-6.7-2.7l-6.7-1.2l-2.2-1.5l-2.2-3.3l-4.2-10.3l-2.5-3.3l-2.3-1.2l-4.5-0.8l-2.2-1l-6.4-6.5l-2.5-1.5l-4.5-0.6l-2.2 0.7l-2.3 2.1l-0.8 1.8l-0.4 2.6l0.5 2.6l4.4 7.7l0 2.5l-6.1 10.3l-2.2 7.7l1.1 2.6l3.5 2.1l11.2 1.3l8.9 3.4l4.5 0.9l2.3 0.9l6.7 7.5l4.4 2.6l6.7 1.4l2.3 1.7l4.4 4.9l4.5 3.4l4.5 0.7l15.6 0l0 12.8l-105 0l0-97.8l15.6-0.1l4.5-0.8l2.2-2.3l0.8-1.7l0.1-2.5l-1-2.6l-2.1-1.7l-2.2-0.9l-17.9-0.2z"/><path fill="#00ffff" d="M596.2 267.1l105 0l0 232l-20.1-0.3l-4.5-1.6l-6.7-5.3l-6.7-2.4l-2.2-2.4l-6.7-12.5l-2.2-2.8l-2.3-1.3l-4.5-1.1l-2.2-1.2l-6.7-6.3l-2.2-1.4l-6.7-1.2l-2.3-0.9l-0.9-1.3l0.2-7.7l-0.6-2.5l-1.4-2.6l-4-4.4l-2.2-1.2l-2.2-0.4l-17.9-0.2zM596.2 462.4l20.1 0.2l2.2 0.9l1 1.3l-0.2 7.7l0.4 2.6l3.8 7.7l0.8 2.6l0 2.5l-0.8 2.6l-2.7 4.8l-4.5 4.9l-4.5 1l-15.6 0zM596.2 513.2l17.9 0.1l11.1 2.1l9 0.7l2.2 0.7l8.9 6.2l6.8 1.7l11.1 8.8l4.5 1.1l3.7 2.1l1.8 2.6l0.9 2.6l0.2 10.2l-78.1 0z"/><path fill="#00ffd8" d="M596.2 267.1l105 0l0 228.5l-17.9-0.1l-4.4-1.1l-4.5-3.8l-4.5-5.6l-6.7-2.9l-2.2-2.3l-6.7-12.3l-2.2-2.9l-2.3-1.3l-4.5-1.1l-4.4-3.2l-3.2-4.4l-1.8-5.2l-1.7-2.8l-6.7-2.4l-2.3-1.4l-4.4-4.3l-2.3-1.6l-2.2-0.8l-20.1-0.4zM596.2 476.7l15.6 0l4.5 1.2l2.2 1.7l2.3 3.2l0.9 2.6l0 2.5l-0.9 2.7l-2.3 3l-2.2 1.5l-2.2 0.6l-17.9 0.2zM596.2 518.5l20.1 0.1l17 2.7l3.1 1.3l6.7 6.3l2.2 1.3l6.8 1.5l2.2 1.3l2.2 2.2l2.3 4.1l0.6 2.6l0.2 10.2l-63.4 0z"/><path fill="#00ffb1" d="M596.2 267.1l105 0l0 225.3l-17.9-0.2l-4.4-1.4l-2.8-2.9l-3.9-6.8l-2.3-2.7l-6.7-2.7l-2.2-2.2l-8.9-15.1l-2.3-1.5l-4.5-1.2l-2.2-1.6l-5.9-9.8l-3-2.4l-6.7-1.4l-6.7-4.6l-4.5-1.8l-20.1-0.2zM596.2 480.9l17.9 0.3l2.2 0.7l2.2 2.4l0.5 3.6l-1.6 2.6l-3.3 1.6l-17.9 0.2zM596.2 522l17.9 0l4.4 0.6l9 3.9l6.7 1.3l2.2 1.3l8.9 9.2l4.8 3.6l0.6 2.5l0.1 7.7l-54.6 0z"/><path fill="#00ff89" d="M596.2 267.1l105 0l0 222l-15.6 0l-5.2-1.2l-2.6-2.5l-5.6-10.6l-2.2-2.3l-6.8-2.6l-2.2-2.1l-8.9-15.5l-2.3-1.3l-4.5-1.4l-2.2-1.9l-4.8-6l-4.1-3.1l-6.7-1.3l-6.7-3.6l-4.5-1.2l-20.1-0.2zM596.2 525.3l20.1 0.4l4.5 1.9l6.7 4.8l7.2 1.8l2.9 2.5l1.3 2.6l0.7 5.1l0 7.7l-43.4 0z"/><path fill="#00ff62" d="M596.2 267.1l105 0l0 218l-15.6 0l-4.5-1.2l-2.2-2.5l-6.7-12.3l-2.3-1.9l-6.7-1.9l-2.2-1.9l-2.5-3.7l-4.2-10.5l-2.1-2.3l-6.9-2l-2.2-1.6l-6.7-6.7l-2.2-1.2l-6.7-1.1l-9-3l-22.3-0.4zM596.2 529.3l17.9 0.2l4.4 1.6l5.6 5.6l2.9 5.2l0.4 10.2l-31.2 0z"/><path fill="#00ff3b" d="M596.2 267.1l105 0l0 160.9l-17.9 0.2l-2.2 0.8l-2.2 2.4l-0.8 2.6l0 2.6l0.8 2.5l2.5 2.6l4.2 0.9l15.6 0l0 36.7l-15.6-0.1l-2.3-0.3l-2.2-1.2l-2.2-2.7l-4.5-8.2l-2.2-2.6l-2.3-1.2l-6.7-1.5l-2.2-2.1l-2.2-4.6l-2.3-7.8l-2.2-3.3l-2.2-1.2l-6.8-1.4l-2.2-1.4l-6.7-6.7l-2.2-0.9l-15.7-2.4l-22.3-0.2zM596.2 535.6l15.6 0.1l4.5 0.9l2.4 2.7l0.6 2.6l0.2 10.2l-23.3 0z"/><path fill="#00ff14" d="M596.2 267.1l105 0l0 154.2l-15.6 0l-4.5 0.5l-2.2 1.1l-2.3 2.6l-1.4 3.4l-1 5.1l1 7.7l1.4 3.4l2.3 2.6l4.4 1.5l17.9 0.1l0 23.4l-15.6-0.1l-2.3-0.3l-2.2-1.2l-6.7-10l-2.2-1.3l-6.7-1.3l-2.6-1.4l-1.9-3.6l-2.1-9.2l-2.4-3.6l-4.4-2.2l-6.8-1.2l-2.2-1.7l-4.5-5.3l-2.2-1.3l-6.7-0.8l-33.5-0.2z"/><path fill="#14ff00" d="M596.2 267.1l105 0l0 143.1l-33.5 0l-2.1 0.7l-6.8 7.7l-2.3 0l0 2.6l-2.2 0.5l-2.3 2l-22.3 0.5l-13.4 2.2l-20.1 0.1z"/><path fill="#3bff00" d="M596.2 267.1l105 0l0 134.4l-17.9 0l-4.4-1l-3.1-2.4l-1.3-2.6l-1.4-10.3l-0.9-2.2l-2.3-1.5l-2.2-0.4l-4.5 0.4l-2.7 1.2l-2.8 2.5l-1.1 2.6l-1 5.1l-1.3 2.7l-2.2 1.4l-6.8 1.5l-2.2 1.5l-2.2 2.5l-1.9 3.3l-1.3 7.7l-1.3 2.6l-2.2 1.4l-6.7 1.5l-9 4.9l-4.4 0.4l-17.9 0.1z"/><path fill="#62ff00" d="M596.2 267.1l105 0l0 105l-17.9 0.2l-1.2 2.7l19.1 0.2l0 22.5l-15.6-0.1l-4.5-0.6l-2.3-1.5l-1.2-2.6l-1-12.8l-2.2-2.4l-6.7-0.6l-4.5 0.5l-11.1 5.7l-8 1.9l-1.6 2.6l-1.2 5.1l-1.3 2.6l-3.6 4.1l-6.7 3.5l-4.4 10.4l-2.3 2.8l-4.5 3.7l-4.4 1.3l-17.9 0l0-66.6l35.6-0.3l0.2-2.6l-35.8-0.2z"/><path fill="#89ff00" d="M701.2 267.1l0 97.2l-17.9 0.1l-6.7 0.8l-3.9 2.1l-2.8 2.7l-4.4 1.3l-11.2 7.2l-2.2 0.8l-7.8 0.8l-3.4 1.2l-2.4 1.4l-2.5 2.5l-2.1 5.2l-2 2.5l-2.2 1.4l-2.2 3.8l-4.1 12.8l-2.6 3.2l-2.3 1.6l-4.4 1.3l-17.9 0.1l0-52.5l17.9-0.1l20.1-2.8l3.1-2.2l4.4-5.1l1.4-2.6l0.6-2.5l-1.1-2.6l-1.7-1.4l-6.7-3.2l-4.5-0.4l-33.5 0l0-74.6zM682.9 387.8l0.4-1.3l2.3-1.3l15.6-0.1l0 6.3l-15.6-0.1l-2.4-0.9z"/><path fill="#b1ff00" d="M596.2 267.1l105 0l0 91.3l-40.2 0.3l-2.6 0.8l-0.9 10.3l-1 2.6l-2.9 2.6l-3.8 0.9l-8.9 0.8l-9 2.1l-4.4-0.3l-2.3-1.1l-1.6-2.4l0-2.6l1.9-2.6l2-0.8l6.7-0.9l2.2-0.9l6.7-7l2.2-1.4l9-0.9l2.2-0.8l0.4-2.7l-1.3-7.7l-1.3-4.1l-2.2-3.1l-2.3-1.2l-6.7-1.6l-2.2-1.7l-4.5-5.1l-2.2-1.5l-6.7-1.1l-2.3-0.8l-2.2-1.8l-4.5-5.1l-2.2-1.4l-4.5-0.7l-15.6 0zM596.2 384l20.1 0.1l4.5 1.3l2.2 1.7l1.9 3.3l0.5 5.1l-1.9 10.3l-2.7 5.2l-2.3 1.8l-4.4 1.3l-17.9 0.1z"/><path fill="#d8ff00" d="M596.2 267.1l105 0l0 85.5l-33.5-0.1l-4.5-0.8l-2.2-1.9l-4.8-10.8l-1.9-3.2l-2.2-2.4l-2.3-1.1l-4.5-1l-2.2-1.3l-6.7-6.3l-2.2-1.3l-6.7-1.4l-2.3-1.3l-4.4-4.3l-4.5-2.5l-20.1-0.4zM596.2 386.5l17.9 0l4.4 0.9l2.3 1.4l1.3 1.6l1.1 2.5l0.2 5.2l-1.5 7.7l-1.3 2.5l-2.1 2.2l-4.4 1.5l-17.9 0.1z"/><path fill="#ffff00" d="M596.2 267.1l105 0l0 79l-35.7-0.3l-2.3-1l-2.2-2.8l-6.7-12.4l-2.2-2.6l-2.3-1.1l-4.5-1.1l-2.2-1.3l-6.7-6.2l-2.2-1.3l-6.7-1.4l-6.7-4.2l-4.5-1.5l-20.1-0.2zM596.2 388.4l17.9 0.1l2.2 0.3l3.1 1.6l1.9 2.5l0.6 5.2l-1.1 6.5l-2.3 3.7l-2.2 1.4l-2.2 0.4l-17.9 0.1z"/><path fill="#ffd800" d="M596.2 267.1l45.5 0l0.1 10.3l0.5 2.5l1.5 2.6l3.8 1.5l8.9 0.2l11.2-0.2l3.7-1.5l1.6-2.6l0.5-2.5l0.1-10.3l27.6 0l0 72.4l-35.7-0.3l-2.3-1.1l-2.2-2.7l-6.7-12.9l-2.2-2.4l-6.8-1.8l-2.2-1.4l-6.7-6.6l-2.2-1.1l-6.7-0.9l-9-2.8l-22.3-0.4zM596.2 390.2l17.9 0.1l2.2 0.5l2.2 1.3l1.7 3.4l0.2 2.6l-0.7 5.1l-1.2 2.7l-2.2 1.8l-2.2 0.6l-17.9 0.2z"/><path fill="#ffb100" d="M596.2 267.1l36.7 0l0.4 15.4l1.4 5.1l1.7 2.6l2.2 2l4.5 1.7l11.2 0.4l17.9-0.4l4.4-1.7l2.3-2l1.7-2.6l1.5-5.1l0.3-15.4l18.8 0l0 62.7l-15.6 0l-11.2 2.6l-4.5 0.5l-4.4-0.3l-2.3-1.1l-2.2-2.6l-1.4-2.7l-1.8-5.2l-1.3-8.1l-2.2-2.5l-7.5-2.2l-3.7-5.1l-2.2-2l-4.5-1.7l-6.7-0.2l-5.2 1.3l-6 0.5l-22.3 0.1zM596.2 392.2l15.6 0l4.5 0.8l2.2 3.5l0.1 4.1l-0.7 2.6l-1.6 2.2l-2.2 0.9l-17.9 0.2z"/><path fill="#ff8900" d="M596.2 267.1l24.6 0l-0.1 20.5l-0.4 2.6l-1.8 3.3l-2.2 1.3l-2.2 0.5l-17.9 0.1zM663 321l2.5-2l2.2-0.1l2.2 0.6l2 1.5l0 2.6l-2 1.5l-2.2 0.6l-2.2-0.3l-2.3-1.8zM596.2 395l17.9 0.3l2.2 2.7l-0.1 2.6l-2.1 2.7l-17.9 0.4z"/></g><path d="M603.0 275.1h9a8 8 0 0 1-8 8h-1z" fill="#18dcb8"/><path d="M603.0 275.1h6.6a5.6 5.6 0 0 1-5.6 5.6h-1z" fill="#fff"/></g>
<g stroke="#383838" stroke-width="1.5" fill="none"><path d="M604.0 91.2H693.4V707.5H604.0z"/><path stroke-width="1.2" d="M604.0 91.2v-4.5M604.0 707.5v4.5M621.9 91.2v-4.5M621.9 707.5v4.5M639.8 91.2v-4.5M639.8 707.5v4.5M657.6 91.2v-4.5M657.6 707.5v4.5M675.5 91.2v-4.5M675.5 707.5v4.5M693.4 91.2v-4.5M693.4 707.5v4.5M604.0 91.2h-4.5M693.4 91.2h4.5M604.0 111.7h-1.6M693.4 111.7h1.6M604.0 132.3h-1.6M693.4 132.3h1.6M604.0 152.8h-1.6M693.4 152.8h1.6M604.0 173.4h-1.6M693.4 173.4h1.6M604.0 193.9h-4.5M693.4 193.9h4.5M604.0 214.5h-1.6M693.4 214.5h1.6M604.0 235.0h-1.6M693.4 235.0h1.6M604.0 255.5h-1.6M693.4 255.5h1.6M604.0 276.1h-1.6M693.4 276.1h1.6M604.0 296.6h-4.5M693.4 296.6h4.5M604.0 317.2h-1.6M693.4 317.2h1.6M604.0 337.7h-1.6M693.4 337.7h1.6M604.0 358.3h-1.6M693.4 358.3h1.6M604.0 378.8h-1.6M693.4 378.8h1.6M604.0 399.3h-4.5M693.4 399.3h4.5M604.0 419.9h-1.6M693.4 419.9h1.6M604.0 440.4h-1.6M693.4 440.4h1.6M604.0 461.0h-1.6M693.4 461.0h1.6M604.0 481.5h-1.6M693.4 481.5h1.6M604.0 502.1h-4.5M693.4 502.1h4.5M604.0 522.6h-1.6M693.4 522.6h1.6M604.0 543.2h-1.6M693.4 543.2h1.6M604.0 563.7h-1.6M693.4 563.7h1.6M604.0 584.2h-1.6M693.4 584.2h1.6M604.0 604.8h-4.5M693.4 604.8h4.5M604.0 625.3h-1.6M693.4 625.3h1.6M604.0 645.9h-1.6M693.4 645.9h1.6M604.0 666.4h-1.6M693.4 666.4h1.6M604.0 687.0h-1.6M693.4 687.0h1.6M604.0 707.5h-4.5M693.4 707.5h4.5"/></g>
<text transform="translate(603.0 83.2) scale(0.84 1)" font-size="13.1" text-anchor="middle" stroke="#262626" stroke-width="0.22">0.00</text><text transform="translate(603.0 726.3) scale(0.84 1)" font-size="13.1" text-anchor="middle" stroke="#262626" stroke-width="0.22">0.00</text><text transform="translate(638.8 83.2) scale(0.84 1)" font-size="13.1" text-anchor="middle" stroke="#262626" stroke-width="0.22">2.00</text><text transform="translate(638.8 726.3) scale(0.84 1)" font-size="13.1" text-anchor="middle" stroke="#262626" stroke-width="0.22">2.00</text><text transform="translate(674.5 83.2) scale(0.84 1)" font-size="13.1" text-anchor="middle" stroke="#262626" stroke-width="0.22">4.00</text><text transform="translate(674.5 726.3) scale(0.84 1)" font-size="13.1" text-anchor="middle" stroke="#262626" stroke-width="0.22">4.00</text><text transform="translate(597.2 96.7) scale(0.84 1)" font-size="13.1" text-anchor="end" stroke="#262626" stroke-width="0.22">0.00</text><text transform="translate(597.2 199.4) scale(0.84 1)" font-size="13.1" text-anchor="end" stroke="#262626" stroke-width="0.22">-5.00</text><text transform="translate(597.2 302.1) scale(0.84 1)" font-size="13.1" text-anchor="end" stroke="#262626" stroke-width="0.22">-10.00</text><text transform="translate(597.2 404.8) scale(0.84 1)" font-size="13.1" text-anchor="end" stroke="#262626" stroke-width="0.22">-15.00</text><text transform="translate(597.2 507.6) scale(0.84 1)" font-size="13.1" text-anchor="end" stroke="#262626" stroke-width="0.22">-20.00</text><text transform="translate(597.2 610.3) scale(0.84 1)" font-size="13.1" text-anchor="end" stroke="#262626" stroke-width="0.22">-25.00</text><text transform="translate(597.2 713.0) scale(0.84 1)" font-size="13.1" text-anchor="end" stroke="#262626" stroke-width="0.22">-30.00</text><text transform="translate(698.0 96.7) scale(0.84 1)" font-size="13.1" text-anchor="start" stroke="#262626" stroke-width="0.22">0.00</text><text transform="translate(698.0 199.4) scale(0.84 1)" font-size="13.1" text-anchor="start" stroke="#262626" stroke-width="0.22">-5.00</text><text transform="translate(698.0 302.1) scale(0.84 1)" font-size="13.1" text-anchor="start" stroke="#262626" stroke-width="0.22">-10.00</text><text transform="translate(698.0 404.8) scale(0.84 1)" font-size="13.1" text-anchor="start" stroke="#262626" stroke-width="0.22">-15.00</text><text transform="translate(698.0 507.6) scale(0.84 1)" font-size="13.1" text-anchor="start" stroke="#262626" stroke-width="0.22">-20.00</text><text transform="translate(698.0 610.3) scale(0.84 1)" font-size="13.1" text-anchor="start" stroke="#262626" stroke-width="0.22">-25.00</text><text transform="translate(698.0 713.0) scale(0.84 1)" font-size="13.1" text-anchor="start" stroke="#262626" stroke-width="0.22">-30.00</text><text transform="translate(574.7 62.9) scale(0.84 1)" font-size="20.2" text-anchor="start" stroke="#262626" stroke-width="0.22">-15m</text><text transform="translate(613.3 63.2) scale(0.831 1)" font-size="19.5" text-anchor="start" font-family="Liberation Sans, Noto Sans CJK SC, sans-serif" fill="#262626">注浆</text><text transform="translate(661.7 62.9) scale(0.762 1)" font-size="20.2" text-anchor="start" stroke="#262626" stroke-width="0.22">CT</text><path d="M682.3 65.5h8.6" stroke="#262626" stroke-width="1.4"/><text transform="translate(691.0 63.2) scale(0.831 1)" font-size="19.5" text-anchor="start" font-family="Liberation Sans, Noto Sans CJK SC, sans-serif" fill="#262626">波速</text>
<g clip-path="url(#c4)"><g filter="url(#bl)"><rect x="787" y="208" width="102" height="339" fill="#0014ff"/><path fill="#003bff" d="M785.2 204.9l105.2 0l0 345l-105.2 0z"/><path fill="#0062ff" d="M785.2 204.9l105.2 0l0 345l-105.2 0z"/><path fill="#0089ff" d="M785.2 204.9l105.2 0l0 345l-105.2 0z"/><path fill="#00b1ff" d="M785.2 204.9l105.2 0l0 345l-105.2 0z"/><path fill="#00d8ff" d="M785.2 204.9l105.2 0l0 345l-105.2 0z"/><path fill="#00ffff" d="M785.2 204.9l105.2 0l0 300.9l-22.4-0.4l-4.4-1.7l-4.5-2.8l-4.5-1.1l-4.5 1.5l-2.4 2.6l-1.3 2.6l-0.6 2.5l0.1 2.6l1 2.5l3.2 4.2l2.3 1.9l8.9 2.3l6.7 4.3l2.3 0.8l20.1 0.4l0 21.9l-105.2 0z"/><path fill="#00ffd8" d="M785.2 204.9l105.2 0l0 197.8l-33.6 0l-2.2 0.5l-1.1 1l-1.1 2.6l-0.1 2.5l0.5 2.6l1.8 3.3l6.7 1.9l3.1 2.5l1.3 2.5l1.4 7.7l1.8 2.5l3.6 1.4l17.9 0.2l0 69.5l-17.9 0l-4.5-0.5l-3.3-1.6l-5.6-4.5l-2.3-0.8l-4.4 0l-4.5 1.1l-6.7 4.3l-9.9 2.5l-0.9 2.6l4.2 7.6l2.1 1.2l6.7 2.1l9 8.2l8.9 2l9 4.2l4.5 0.4l15.6 0.1l0 17.6l-105.2 0l0-45.9l20.1-0.1l2.3-0.9l1.1-1.7l-1.3-2.5l-4.3-2.5l-17.9-0.2zM826 386.4l-2.8-2.1l-2.2-0.5l-2.2 0.1l-2.3 1.4l-0.7 1.1l0.1 2.5l2.9 1.8l4.4-0.3l2.7-1.5z"/><path fill="#00ffb1" d="M785.2 204.9l105.2 0l0 193.7l-35.8 0.1l-2.2 0.7l-1.9 2.3l-0.7 5.1l0.3 6.7l2.3 6.8l2.2 3.7l7.8 8.3l5.6 4l4.5 1.6l17.9 0.1l0 63.8l-20.1-0.3l-4.5-1.7l-4.5-4.1l-4.5-1.9l-11.2-0.3l-6.7-0.7l-2.2 0.6l-9 6.1l-6.7 1.4l-4.5-0.3l-2.2-0.8l-4.5-3.8l-4.5-2.4l-20.1-0.4zM811.8 386.4l0 2.5l1.2 2.6l3.5 1.9l2.3 0.3l4.4-0.1l4.5-0.9l3.2-1.2l2.9-2.6l-0.2-2.5l-3-2.6l-7.4-2.8l-6.9 0.2l-3.6 2.6zM785.2 506.9l35.8 0.6l4.5 1.1l2.2 1.4l4.5 6.4l2.2 2.2l9 2.8l6.7 6.6l2.3 1.4l8.9 1.8l5.6 3.4l5.6 4.4l4.5 0.5l13.4 0l0 10.4l-105.2 0z"/><path fill="#00ff89" d="M785.2 204.9l105.2 0l0 190.5l-35.8 0l-4.5 0.5l-1 0.7l-0.9 2.5l-0.3 7.7l0.6 7.7l2.2 10.2l0.6 5.1l1.1 2.7l2.2 1.1l6.7 1.5l9 5.2l2.2 0.6l17.9 0.1l0 59.3l-20.1-0.4l-3-1.1l-5.9-5.1l-2.3-1.1l-11.3-1.5l-2.2-1.1l-4.4-4.5l-2.3-0.7l-2.2-0.1l-3.2 1.3l-4.2 7.7l-3.1 2.5l-3 1.1l-6.7-0.2l-6.7-4l-4.5-1.6l-20.1-0.3zM808.6 386.4l0 2.5l0.9 2.6l2.6 2.5l4.4 1.3l9 0l15.7-1.6l2.2-0.5l1.4-1.7l-1.1-5.1l-2.5-3.2l-18-4.2l-4.4-0.2l-4.5 0.9l-2.9 1.5l-2 2.6zM785.2 508.9l22.4 0.2l13.4 1.2l4.5 1.3l2.2 2l4.5 6.4l2.2 1.9l6.8 1.7l2.2 1.2l6.7 6.6l2.3 1.4l7.7 1.8l3.1 2.5l1 2.6l0.3 10.2l-79.3 0z"/><path fill="#00ff62" d="M785.2 204.9l105.2 0l0 187.4l-38-0.4l-2.3-0.9l-1.9-2.1l-2.9-5.1l-2.5-2.6l-1.6-0.8l-9-1.1l-9-2.1l-6.7 0l-4.5 1.1l-8.9 6.3l-2.3 0.7l-15.6 0.1zM785.2 389.9l15.6 0.1l2.3 0.7l6.7 4.5l4.5 1.5l6.7 0.4l17.9-0.4l4.5 0.9l1.6 1.5l0.9 2.6l0.6 10.2l1.9 10.2l1.2 10.2l1.9 2.6l3.1 1.2l6.7 1.2l6.7 4.5l4.5 1.8l17.9 0.1l0 55.1l-20.1-0.4l-2.3-0.9l-6.7-5.5l-2.2-1l-9-1.1l-2.2-1l-5.6-5.4l-3.4-1.2l-4.5 0.2l-2.2 1l-2.2 2.5l-2.3 4.5l-2.2 2.4l-4.5 1.4l-4.5-0.4l-6.7-3.2l-4.5-1.1l-20.1-0.2l0-21.7l17.9 0l4.5-0.9l2.5-1.2l-1.2-2.6l-3.6-0.6l-20.1-0.2zM785.2 510.7l22.4 0.3l13.4 1.7l4.1 1.4l7.1 9.1l2.2 1.9l6.8 1.7l2.2 1.3l8.2 9l2 5.1l0.1 7.7l-68.5 0z"/><path fill="#00ff3b" d="M785.2 204.9l105.2 0l0 184.2l-35.8-0.2l-2.2-0.5l-2.3-1.6l-4.2-5.6l-4-2.5l-9.7-1.3l-9-2.1l-8.9 0.2l-11.2 3.4l-17.9 0.2zM785.2 396.2l17.9 0.1l11.2 2l22.4 0.7l4.5 0.6l2.2 1.8l1 2.8l0.5 7.7l1.9 10.2l0.9 10.2l2.4 4l2.3 1.3l8.9 1.7l6.7 5.2l2.3 1.1l4.5 0.5l15.6 0.1l0 51.1l-15.6 0l-4.5-0.5l-2.3-1.1l-6.7-5.4l-11.2-2.1l-2.2-1.5l-4.5-4.8l-2.2-1.2l-2.3-0.4l-6.7 0.7l-3.2 2.5l-3.5 5.4l-2.3 1.6l-2.2 0.6l-4.5-0.3l-6.7-2.3l-4.5-0.9l-20.1-0.1l0-17.1l22.4-0.3l13.4-3.2l2.3-1.3l-0.1-2.6l-2.2-1.3l-13.4-1.7l-22.4-0.2zM785.2 512.4l20.1 0.2l17.9 3.1l2.3 1.5l6.7 9.1l2.2 1.9l6.8 1.9l2.2 1.4l2.7 3.1l1.9 5.1l0.2 10.2l-63 0z"/><path fill="#00ff14" d="M785.2 204.9l105.2 0l0 181l-35.8-0.3l-2.2-0.7l-6.7-6.2l-2.3-1.4l-2.2-0.7l-9-1l-11.2-2.8l-6.7 0.3l-11.2 2l-17.9 0.1zM785.2 400l38 0.1l15.7 1.8l2.3 1.2l1.3 3.7l0.5 5.1l2.1 10.2l1 10.2l0.8 2.6l1.9 2.6l3.6 2l6.7 0.9l2.2 1l6.7 5.7l2.3 0.9l20.1 0.5l0 47.2l-15.6-0.1l-4.5-0.6l-9-6.2l-8.9-1.5l-2.3-0.9l-6.7-6.6l-4.5-1.3l-4.5 0l-4.4 1l-2.3 1.5l-4.5 5.5l-2.2 0.9l-4.5-0.1l-11.2-2l-20.1-0.1l0-12.1l20.1 0l15.7-1.7l2.2-0.6l2.3-1.7l1.5-3.5l-0.2-2.6l-1.3-2.8l-2.3-1.9l-2.2-0.7l-35.8 0.4zM785.2 514.2l20.1 0.2l17.9 4.1l2.3 1.8l6.7 9.2l2.2 2.1l6.8 2.3l2.2 2.2l1.2 3.6l0.2 10.2l-59.6 0z"/><path fill="#14ff00" d="M785.2 204.9l105.2 0l0 178.2l-20.1 0l-15.7-0.8l-2.2-0.7l-9-6.4l-2.2-0.7l-9-1l-5.6-2.5l-5.6-4.3l-13.4-1.2l-6.3-2.1l-2.7-2.5l-1.4-0.1l-0.8-2.1l-2.3-0.5l0-12.7l-8.9 0zM785.2 408.1l15.6-0.1l2.3-0.6l4.2-3.2l2.5-1l6.7-1.4l9 0.4l5.9 2l3.7 2.6l1.6 1.9l4.5 7.1l2.2 6.5l0.9 10l0.7 2.6l2.9 4.1l4.5 2.6l6.8 1l2.1 1.3l4.5 4.7l2.2 1.3l4.5 0.8l17.9 0l0 43.1l-17.9-0.2l-2.2-0.6l-9-6l-8.9-1.5l-2.3-1.3l-4.5-4.9l-2.2-1.7l-4.5-1.1l-10.7-0.7l-0.9-2.6l2-5.1l0.1-5.1l-2.5-5.1l-1.4-1.7l-2.3-1.4l-4.4-0.7l-13.5 1.8l-20.1 0zM785.2 516.4l20.1 0.2l9 3l8.9 2l4.5 4.8l9.4 13.3l0.9 2.5l0.1 7.7l-52.9 0z"/><path fill="#3bff00" d="M785.2 204.9l105.2 0l0 175.8l-20.1-0.1l-15.7-1.6l-4.5-1.9l-6.7-4.5l-2.2-0.8l-6.8-0.8l-3.3-2.5l-2-5.1l-3.6-4.8l-2.3-1.9l-6.7-2.1l-2.3-1.5l-1.2-2.5l-1.5-7.7l-4-10.2l-2.2-3l-4.5-1.2l-15.6 0zM785.2 416.1l20.1-0.3l2.3-0.7l2.2-1.4l1.5-1.8l1.9-5.1l3.3-2l4.5-0.4l4.5 1.5l1 0.9l2.9 7.7l2.2 2.5l2.8 2.1l4.5 1.8l2.2 3.8l0.7 7.6l0.9 2.6l1.4 2.6l3.8 4.3l4.5 2.5l4.4 0.7l2.3 1.1l3.7 4.1l3 1.9l6.7 1l17.9 0l0 38.2l-15.6 0l-4.5-0.8l-9-5.4l-8.9-1.8l-6.8-6.7l-2.2-1.6l-2.2-1l-6.8-0.9l-1.8-2.4l0.1-5.1l-1.6-5.1l-3.4-5.8l-2.2-2.3l-2.3-1.1l-4.4-0.5l-4.5 0.2l-11.2 2.1l-17.9 0zM785.2 518.9l20.1 0.3l9 3.4l8.9 2.2l2.3 1.9l2.2 2.9l3.9 7.5l0.5 12.8l-46.9 0z"/><path fill="#62ff00" d="M808.6 204.9l22.6 0l0.4 10.2l1.6 2.6l3.5 1.1l6.7 0.8l2.2 0.9l2.9 2.3l3.9 7.1l2.2 1.4l35.8 0.3l0 146.8l-22.4-0.4l-13.4-2.5l-4.5-1.7l-3.3-2.8l-4.4-7.6l-8-2.1l-4.4-3.1l-3.9-5.1l-2.9-9.8l-2.2-1.3l-4.5-1.2l-2.2-1.5l-2.3-2.8l-4.2-8.9l-2.5-2l-4.5-0.8l-15.6 0l0-93.2l15.6 0l2.3-0.4l2.2-1.7l2.2-6.7l0.8-5.1zM785.2 420l20.1-0.2l4.5-0.9l9-3.1l4.4 0.7l2.3 1.5l3.6 4.1l1.3 2.6l1.8 8.4l2.2 2.2l4.5 1.4l2.3 1.7l5.9 6.7l1.4 2.6l1 5.1l1.6 2.5l1.3 0.7l4.4 0.4l11.2-0.7l22.4 0l0 32.6l-17.9-0.2l-4.5-1.7l-6.7-4.1l-6.7-1.6l-2.2-1.2l-5.9-6.3l-1.5-2.5l-1.6-6.6l-2.2-1.8l-4.5-1l-2.3-1.6l-6.2-9.5l-2.7-2l-13.5-1.9l-5.6-3.7l-3.3-1l-17.9-0.2zM785.2 521.6l20.1 0.3l4.5 1.3l6.7 3.1l6.7 1.6l3.9 4.1l2.2 5.1l0.5 12.8l-44.6 0z"/><path fill="#89ff00" d="M816.4 204.9l6.9 0l0.4 10.2l1.3 2.6l2.6 2.5l4.6 2.4l9 1l3.4 1.8l1.8 2.5l1.8 7.7l1.9 2.1l2.3 0.6l11.2 0.7l8.9 1.5l17.9 0.1l0 135.5l-20.1-0.2l-7.4-2.3l-6.1-3.7l-3.4-1.4l-2.8-5.1l-2.6-2.6l-2.4-1.4l-3.4-1.2l-7.8-1l-2.6-1.5l-2.2-2.6l-1-2.5l-1.1-7.7l-1.3-2.5l-3-2.3l-6.7-1.5l-2.2-1.7l-4.5-9.3l-2.2-2.7l-2.3-1.3l-2.2-0.5l-17.9-0.1l0-80.4l15.6-0.1l2.3-0.4l2.2-1.5l2.3-2.9l1.2-2.7l3.2-9.7l4.1-8.2zM824.2 440l-3.2 0.9l-4.5-0.8l-4.5-5.2l-2.2-1.4l-2.2-0.7l-22.4-0.3l0-6.3l20.1 0l11.2-1.5l4.5 0.5l1.8 2zM834.4 447.2l2.3-1.9l2.2 0.5l1.6 1.9l0.2 2.5l-1.8 2l-2.2-0.5l-1.2-1.5zM852.8 468.1l2.3-2.5l4-1.6l5-3.5l3.9-1.4l4.5-0.5l17.9-0.1l0 26l-15.6 0l-5.6-1l-4-2.6l-6.1-5.9l-4.5-2.3l-1.6-2zM785.2 523.7l20.1 0.4l4.5 1.2l6.7 3.8l6.7 2l2.3 2.2l1.7 3.8l0.6 12.8l-42.6 0z"/><path fill="#b1ff00" d="M816.5 225.1l2.3-0.9l4.4 0l9 2.6l6.7 0.6l2.3 0.8l1.2 2.3l-1.2 2.8l-6.8 1.5l-2.2 1.1l-1.9 2.2l-0.9 2.6l-0.8 7.7l-0.9 2.7l-2.1 2.4l-2.4 1l-8.9 0.6l-2.6 0.9l-0.6 5.1l0.4 7.7l0.9 2.6l1.9 2.1l2.2 1l4.5 0.4l6.7-0.4l0.7-0.6l1.7-5.1l2.1-2.5l9-2.7l2.2-3l2.8-9.7l1.2-2.5l2.4-2.6l2.6-1.1l4.4-0.2l4.5 1l2.3 1.8l4.4 5l2.3 1.5l2.2 0.6l17.9 0.2l0 20.8l-17.9 0.1l-11.2 2.3l-4.5 0.3l-6.7-0.3l-11.2-2.4l-6.7 0l-2.2 0.8l-0.5 2.8l1.4 7.7l1.6 5.1l2.2 2.6l8.7 2.4l2.3 2.7l1.1 5.1l0.3 12.8l0.5 2.5l2.5 3.9l2.3 1.5l6.7 1.2l2.2 0.9l6.7 7.5l2.3 0.9l20.1 0.5l0 37.2l-17.9-0.1l-4.5-1.2l-1.7-1.2l-1.4-2.5l-1.1-5.1l-1.3-2.6l-3.4-2.9l-15.7-3.3l-6.7-0.6l-2.6-0.9l-2.1-2.5l-1.3-7.7l-2.7-5.1l-2.5-2.3l-2.3-1.2l-6.7-1.7l-1.8-2.5l-2.9-7.6l-2-3.3l-2.2-1.8l-4.5-1.2l-17.9-0.1l0-61.5l20.1-0.1l4.5-0.6l0.8-3l0.5-10.2l3.1-12.8zM865.5 465.6l2.5-2.5l2.3-0.8l20.1-0.4l0 17.7l-17.9-0.1l-3.3-1.2l-2.7-2.5l-1.3-2.6l-0.4-5.1zM785.2 525.4l17.9 0.1l4.5 0.7l4.4 2.2l4.5 3.5l6.2 2.7l1.8 2.5l0.7 2.6l0.2 10.2l-40.2 0z"/><path fill="#d8ff00" d="M852.4 251.1l2.2-0.7l4.5 0.5l4.5 3.5l5.8 6.7l1.3 2.6l0 2.5l-1.5 2.6l-2.7 2.6l-5.2 2.5l-4.5 0.6l-6.7-0.6l-4.4-2.5l-1.1-2.6l3.3-10.8l2.2-4.9zM807.6 282.4l4.4-1.3l9 0l2.2 0.6l2.3 2l2.2 5l2.3 7.1l3.3 6.2l0.8 2.6l-0.3 2.5l-1.6 2.6l-2.2 2l-4.5 1.6l-6.7 0.2l-6.8-2.9l-5.4-3.5l-2.2-5.1l-0.3-10.2l1.8-7.7zM825.5 322.5l2.2-2l4.5-1.7l4.5-0.3l2.2 0.8l2.3 1.6l9.8 11.8l0.9 2.5l-0.2 2.6l-1.6 2.5l-2.2 2l-4.5 1.6l-4.5 0.1l-2.2-1.2l-2.3-2.1l-10.3-13.1l-0.1-2.6zM859.8 345.5l1.5-1.7l1.7-0.9l2.8-0.5l24.6-0.2l0 22.5l-13.4 0l-4.5-0.8l-4.5-3.9l-7.5-9.4l-1-2.6zM785.2 526.8l20.1 0.3l2.3 0.5l3.5 1.9l2.8 2.5l4.1 5.1l1.6 5.1l0.1 7.7l-34.5 0z"/><path fill="#ffff00" d="M852.6 258.6l2-1.2l2.2-0.2l2.3 0.7l2.2 2.2l1.2 3.6l-0.1 2.5l-1.4 2.6l-4.2 1.4l-4.4-0.5l-1.4-0.9l-0.9-2.6l0.4-2.5zM816.5 288.3l4.5-0.3l2.2 1.4l1.2 2.4l1.1 4.1l0.2 3.6l-1.2 2.5l-1.3 0.9l-2.2 0.6l-4.5-0.5l-1.5-1l-1.6-2.5l-0.4-5.1l0.4-2.6l1.6-2.6zM834.9 330.1l1.8-0.7l2.2 0.1l1.6 0.6l0.5 2.6l-2.1 0.7l-2.2-0.1l-1.2-0.6zM870.5 350.6l4.3-1l15.6 0l0 4.5l-17.9-0.3l-1.6-0.7zM785.2 528l17.9 0l4.5 0.9l2.2 1.2l2.3 1.9l3 5.1l0.5 2.6l0.1 10.2l-30.5 0z"/><path fill="#ffd800" d="M785.2 529.1l17.9 0.1l4.5 0.9l2.2 1.4l2.6 3.1l1 2.5l0.5 12.8l-28.7 0z"/><path fill="#ffb100" d="M785.2 530.2l17.9 0l2.2 0.3l3.3 1.5l2.4 2.6l1.1 2.5l0.6 12.8l-27.5 0z"/><path fill="#ff8900" d="M785.2 531.2l17.9 0.1l4.5 1.3l2.1 2l1.2 2.5l0.6 12.8l-26.3 0z"/><path fill="#ff6200" d="M785.2 532.3l17.9 0.1l4.5 1.6l2.1 3.1l0.5 2.6l0.2 10.2l-25.2 0z"/><path fill="#ff3b00" d="M785.2 533.5l15.6 0l5.4 1.1l2.2 2.5l0.6 2.6l0.2 10.2l-24 0z"/><path fill="#ff0000" d="M785.2 534.7l15.6 0.1l4.5 1l1.4 1.3l1 2.6l0.2 10.2l-22.7 0z"/></g><path d="M792.0 212.9h7a6 6 0 0 1-6 6h-1z" fill="#2060f0"/><path d="M792.0 212.9h5.2a4.2 4.2 0 0 1-4.2 4.2h-1z" fill="#fff"/></g>
<g stroke="#383838" stroke-width="1.5" fill="none"><path d="M793.0 91.2H882.6V704.5H793.0z"/><path stroke-width="1.2" d="M793.0 91.2v-4.5M793.0 704.5v4.5M810.9 91.2v-4.5M810.9 704.5v4.5M828.8 91.2v-4.5M828.8 704.5v4.5M846.8 91.2v-4.5M846.8 704.5v4.5M864.7 91.2v-4.5M864.7 704.5v4.5M882.6 91.2v-4.5M882.6 704.5v4.5M793.0 91.2h-4.5M882.6 91.2h4.5M793.0 111.6h-1.6M882.6 111.6h1.6M793.0 132.1h-1.6M882.6 132.1h1.6M793.0 152.5h-1.6M882.6 152.5h1.6M793.0 173.0h-1.6M882.6 173.0h1.6M793.0 193.4h-4.5M882.6 193.4h4.5M793.0 213.9h-1.6M882.6 213.9h1.6M793.0 234.3h-1.6M882.6 234.3h1.6M793.0 254.7h-1.6M882.6 254.7h1.6M793.0 275.2h-1.6M882.6 275.2h1.6M793.0 295.6h-4.5M882.6 295.6h4.5M793.0 316.1h-1.6M882.6 316.1h1.6M793.0 336.5h-1.6M882.6 336.5h1.6M793.0 357.0h-1.6M882.6 357.0h1.6M793.0 377.4h-1.6M882.6 377.4h1.6M793.0 397.8h-4.5M882.6 397.8h4.5M793.0 418.3h-1.6M882.6 418.3h1.6M793.0 438.7h-1.6M882.6 438.7h1.6M793.0 459.2h-1.6M882.6 459.2h1.6M793.0 479.6h-1.6M882.6 479.6h1.6M793.0 500.1h-4.5M882.6 500.1h4.5M793.0 520.5h-1.6M882.6 520.5h1.6M793.0 541.0h-1.6M882.6 541.0h1.6M793.0 561.4h-1.6M882.6 561.4h1.6M793.0 581.8h-1.6M882.6 581.8h1.6M793.0 602.3h-4.5M882.6 602.3h4.5M793.0 622.7h-1.6M882.6 622.7h1.6M793.0 643.2h-1.6M882.6 643.2h1.6M793.0 663.6h-1.6M882.6 663.6h1.6M793.0 684.1h-1.6M882.6 684.1h1.6M793.0 704.5h-4.5M882.6 704.5h4.5"/></g>
<text transform="translate(792.0 83.2) scale(0.84 1)" font-size="13.1" text-anchor="middle" stroke="#262626" stroke-width="0.22">0.00</text><text transform="translate(792.0 723.3) scale(0.84 1)" font-size="13.1" text-anchor="middle" stroke="#262626" stroke-width="0.22">0.00</text><text transform="translate(827.8 83.2) scale(0.84 1)" font-size="13.1" text-anchor="middle" stroke="#262626" stroke-width="0.22">2.00</text><text transform="translate(827.8 723.3) scale(0.84 1)" font-size="13.1" text-anchor="middle" stroke="#262626" stroke-width="0.22">2.00</text><text transform="translate(863.7 83.2) scale(0.84 1)" font-size="13.1" text-anchor="middle" stroke="#262626" stroke-width="0.22">4.00</text><text transform="translate(863.7 723.3) scale(0.84 1)" font-size="13.1" text-anchor="middle" stroke="#262626" stroke-width="0.22">4.00</text><text transform="translate(786.2 96.7) scale(0.84 1)" font-size="13.1" text-anchor="end" stroke="#262626" stroke-width="0.22">0.00</text><text transform="translate(786.2 198.9) scale(0.84 1)" font-size="13.1" text-anchor="end" stroke="#262626" stroke-width="0.22">-5.00</text><text transform="translate(786.2 301.1) scale(0.84 1)" font-size="13.1" text-anchor="end" stroke="#262626" stroke-width="0.22">-10.00</text><text transform="translate(786.2 403.3) scale(0.84 1)" font-size="13.1" text-anchor="end" stroke="#262626" stroke-width="0.22">-15.00</text><text transform="translate(786.2 505.6) scale(0.84 1)" font-size="13.1" text-anchor="end" stroke="#262626" stroke-width="0.22">-20.00</text><text transform="translate(786.2 607.8) scale(0.84 1)" font-size="13.1" text-anchor="end" stroke="#262626" stroke-width="0.22">-25.00</text><text transform="translate(786.2 710.0) scale(0.84 1)" font-size="13.1" text-anchor="end" stroke="#262626" stroke-width="0.22">-30.00</text><g clip-path="url(#r4)"><text transform="translate(887.2 96.7) scale(0.84 1)" font-size="13.1" text-anchor="start" stroke="#262626" stroke-width="0.22">0.00</text><text transform="translate(887.2 198.9) scale(0.84 1)" font-size="13.1" text-anchor="start" stroke="#262626" stroke-width="0.22">-5.00</text><text transform="translate(887.2 301.1) scale(0.84 1)" font-size="13.1" text-anchor="start" stroke="#262626" stroke-width="0.22">-10.00</text><text transform="translate(887.2 403.3) scale(0.84 1)" font-size="13.1" text-anchor="start" stroke="#262626" stroke-width="0.22">-15.00</text><text transform="translate(887.2 505.6) scale(0.84 1)" font-size="13.1" text-anchor="start" stroke="#262626" stroke-width="0.22">-20.00</text><text transform="translate(887.2 607.8) scale(0.84 1)" font-size="13.1" text-anchor="start" stroke="#262626" stroke-width="0.22">-25.00</text><text transform="translate(887.2 710.0) scale(0.84 1)" font-size="13.1" text-anchor="start" stroke="#262626" stroke-width="0.22">-30.00</text></g><text transform="translate(763.4 62.9) scale(0.84 1)" font-size="20.2" text-anchor="start" stroke="#262626" stroke-width="0.22">-12m</text><text transform="translate(802.0 63.2) scale(0.831 1)" font-size="19.5" text-anchor="start" font-family="Liberation Sans, Noto Sans CJK SC, sans-serif" fill="#262626">注浆</text><text transform="translate(850.4 62.9) scale(0.762 1)" font-size="20.2" text-anchor="start" stroke="#262626" stroke-width="0.22">CT</text><path d="M871.0 65.5h8.6" stroke="#262626" stroke-width="1.4"/><text transform="translate(879.7 63.2) scale(0.831 1)" font-size="19.5" text-anchor="start" font-family="Liberation Sans, Noto Sans CJK SC, sans-serif" fill="#262626">波速</text>
<g clip-path="url(#c5)"><g filter="url(#bl)"><rect x="967" y="146" width="102" height="319" fill="#0014ff"/><path fill="#003bff" d="M965 143l105.2 0l0 324.4l-105.2 0z"/><path fill="#0062ff" d="M965 143l105.2 0l0 324.4l-105.2 0z"/><path fill="#0089ff" d="M965 143l105.2 0l0 324.4l-105.2 0z"/><path fill="#00b1ff" d="M965 143l105.2 0l0 324.4l-105.2 0z"/><path fill="#00d8ff" d="M965 143l105.2 0l0 324.4l-105.2 0z"/><path fill="#00ffff" d="M965 143l105.2 0l0 324.4l-105.2 0z"/><path fill="#00ffd8" d="M965 143l105.2 0l0 324.4l-105.2 0z"/><path fill="#00ffb1" d="M965 143l105.2 0l0 324.4l-105.2 0z"/><path fill="#00ff89" d="M965 143l105.2 0l0 277.4l-17.9 0.2l-2.2 1l-1.4 2.4l-0.6 2.6l0.1 2.5l0.8 2.6l1.1 1.1l2.2 1l17.9 0.3l0 33.3l-105.2 0zM996.3 218.4l-1 1.2l-0.8 2.6l0 2.5l0.8 2.6l1 1.2l2.3 0.9l2.2 0l2.2-0.9l1.1-1.2l0.8-2.6l0-2.5l-0.9-2.6l-1-1.1l-2.2-1l-2.2 0z"/><path fill="#00ff62" d="M965 143l105.2 0l0 273.8l-15.6 0l-4.5 0.7l-2.3 1.8l-1.2 2.1l-0.9 5.2l0.4 5.1l1.2 2.5l2.8 2l4.5 0.6l15.6 0l0 30.6l-105.2 0zM994.1 216.4l-1.8 3.2l-0.4 2.6l0.4 5.1l1.2 2.5l2.8 2l2.3 0.5l4.4-0.5l2.3-1.3l1.7-3.2l0.4-2.6l-0.5-5.1l-1.3-2.5l-2.6-1.9l-2.2-0.6l-4.5 0.5z"/><path fill="#00ff3b" d="M965 143l105.2 0l0 269.4l-15.6 0.1l-4.5 0.9l-2.3 1.4l-2.8 4.1l-0.8 2.5l-0.6 5.2l0.2 5.1l0.7 2.5l1.7 2.6l1.6 1.2l4.5 1.1l17.9 0.1l0 28.2l-105.2 0zM994.1 213.3l-2.3 1.9l-1.7 4.4l-0.3 5.1l1 5.1l1.6 2.6l3.9 2l4.5 0.3l4.5-1.1l2.2-1.9l1.8-4.4l0.2-5.1l-1.3-5.1l-1.9-2.6l-3.3-1.9l-4.4-0.4z"/><path fill="#00ff14" d="M965 143l105.2 0l0 260.2l-20.3 0.4l-2.1 1.1l-1.3 1.4l-4.5 12.8l-0.8 7.7l0.6 7.6l1.6 3.6l2.2 2.3l2.2 1l4.5 0.6l17.9 0.1l0 25.6l-105.2 0zM991.8 211.2l-2.9 3.3l-1.3 5.1l0 7.7l0.4 2.5l1.6 3.6l2.2 2.3l4.5 1.5l6.7 0l4.5-1.5l2.9-3.3l1.3-5.1l-0.2-7.7l-2.3-5.1l-3.9-3.7l-2.3-0.9l-6.7-0.2zM1029.9 237.4l-1.3 2.7l-0.4 2.5l0.1 2.6l1.6 3.9l2.3 2.1l2.2 0.9l4.5-0.3l2.2-1.4l1.3-2.7l0.5-2.5l-0.5-5.1l-1.2-2.6l-2.3-1.5l-2.3-0.5l-4.4 0.5z"/><path fill="#14ff00" d="M973.9 143l96.3 0l0 89.4l-11.2-0.3l-1.3-2.3l-3.1-1.3l-0.9-1.2l-8-2.6l-13.5-0.7l-11.2 1l-2.3-1.2l-0.5-1.6l-1.7-1.6l-6.7-9.4l-6.8-6.5l-2.2-1.5l-4.5-0.6l-20.1 0l-2.3-0.9zM965 234.9l8.9 0l2.3 1.3l0.2 1.3l2 0.6l1.5 2l5.6 2.5l4.1 0.7l15.7 0.5l11.2-1.7l2.2 1.6l0.7 1.5l1.6 0.9l4.4 4.8l9 11.2l2.2 1.1l11.2-0.5l6.3-2.2l2.7-2.4l1.4-0.2l0.8-2.1l2.3-0.4l8.9 0l0 145l-20.1 0.1l-6.7 0.9l-4.2 2.2l-7.5 7.6l-1.8 2.5l-1.1 0.1l-1.1 2.5l-2.3 0l0 51.1l-60.4 0l0-109.8l8.9 0l0-2.6l-8.9 0zM1007.5 395.9l0 2.6l2.3 0l0-2.6z"/><path fill="#3bff00" d="M987.4 143l82.8 0l0 74l-20.1-0.1l-17.9-1.6l-15.7-4.1l-2.3-1.1l-2.2-2.4l-3.4-8.5l-2.8-2.6l-2.8-1.1l-6.7-0.8l-4.5-2.1l-2.3-3.6l-1.7-7.7zM965 251.9l17.9 0l11.2-1.3l6.7-0.2l17.9 1.7l4.5 1.6l2.2 2.1l2.5 4.7l1.8 7.7l2.5 1.8l2.2 0.7l15.7 1.5l20.1 0.2l0 126l-22.4-0.2l-15.6-3.3l-2.4-1.6l-1.2-2.5l-1-5.1l-1.1-2.6l-2.8-2.5l-2.7-1.2l-9-1.5l-3.1-2.4l-1.9-5.2l-0.9-7.6l-1.5-2.6l-1.6-0.9l-8.9-1.7l-3.1-2.5l-1.9-5.1l-1-7.7l-1.8-2.5l-3.4-1.5l-17.9-0.2zM965 378.4l17.9 0.2l2.2 0.5l2.3 1.4l1.3 2.6l0.5 5.1l0.1 17.9l0.7 5.1l1.3 2.6l2.8 3.2l2.2 1.4l6.7 1.5l2.3 1.4l1.3 2.7l0.6 5.1l0 38.3l-42.2 0z"/><path fill="#62ff00" d="M989.8 143l80.4 0l0 71.3l-20.1-0.1l-20.2-3.6l-2.4-1.2l-2.2-2.6l-1.4-5.1l-1.5-2.5l-1.4-0.7l-6.8-1.2l-8.9-4.8l-9-1.8l-2.2-1.2l-2.3-3.2l-1.7-7.6zM965 255.4l17.9 0l11.2-2l6.7-0.4l4.5 0.4l8.9 2.1l6.8 1.1l2.2 1.6l1.2 2.3l1.7 7.7l1.8 2.5l4.3 2.3l8.9 0.8l11.2 2.3l17.9 0.1l0 120.4l-17.9 0l-6.7-1.2l-3.2-2.1l-1.5-2.5l-1.2-5.1l-1.3-2.6l-6.2-1.9l-9-4.9l-9-1.9l-2.2-1.4l-1.3-2.7l-1.5-10.2l-1.4-2.5l-2.5-1.9l-9-1.7l-2.2-1.4l-1.3-2.7l-1.2-7.7l-1-2.5l-3.2-3.7l-4.5-1.7l-17.9-0.1zM965 414.9l17.9 0.2l2.2 0.8l2.3 1.5l3.5 4l2 5.2l-0.6 7.6l-1.2 2.6l-1.5 1.7l-2.2 1.3l-4.5 0.9l-17.9 0z"/><path fill="#89ff00" d="M991.8 143l78.4 0l0 69l-17.9-0.1l-6.7-1.2l-12.4-6.4l-1-2.2l-1.2-5.5l-3.3-2.2l-13.5-1.1l-11.2-5.2l-6.8-1.7l-2.2-2.6l-2-7.6zM965 258.3l17.9 0l4.5-0.6l8.9-2.2l4.5-0.1l4.5 0.6l5.1 1.9l8.3 4.7l3.1 5.6l2.3 2.5l5.8 4l13.5 2.4l8.9 4.9l17.9 0.5l0 112.2l-17.9-0.1l-5.4-1.3l-2.3-2.5l-1.7-7.7l-1.8-2.8l-3.8-2.3l-7.4-1.5l-13.4-8.4l-2-10.5l-0.8-2.6l-1.7-2.5l-2.2-2l-2.3-0.9l-8.9-1.9l-4-8l-7.2-8.3l-4.5-2.9l-2.3-0.4l-15.6-0.1zM965 423.9l16.2 0.1l1.7 0.5l1.7 2.1l0 2.5l-1.7 2.1l-1.6 0.5l-16.3 0.1z"/><path fill="#b1ff00" d="M994.2 143l76 0l0 66.3l-17.9-0.1l-2.2-0.4l-4-2l-1.4-2.5l-0.6-12.8l-1.1-2.5l-1.9-1.3l-2.2-0.6l-4.5-0.2l-4.5 0.9l-6.7 2.4l-4.5 0.4l-4.5-0.3l-4.4-1.8l-6.8-4.7l-4.4-1.6l-2.3-1.5l-1.7-4.5l-0.3-2.6zM965 260.8l20.1-0.1l11.2-2.3l6.7 0.1l4.1 2l1.4 2.5l1.4 5.2l2.1 2.1l2.2 0.9l6.8 1.1l8.9 5.2l9 1.4l4 2l1.4 2.6l0.3 2.5l0.1 38.4l0.7 5.1l2.4 2.5l2.3 0.6l20.1 0.3l0 59.4l-15.6 0l-4.5-0.6l-2.3-1.8l-1.9-6.8l-1.5-2.5l-3.3-3.7l-2.2-1.7l-2.3-0.9l-6-1.4l-2.9-2.6l-1-2.5l-0.7-25.6l-0.9-2.5l-1.9-2.1l-4.5-1.4l-17.9-0.2l-4.5-1l-2.2-1.8l-2.6-3.7l-1.7-7.7l-2.6-2.5l-4.3-0.8l-17.9-0.1z"/><path fill="#d8ff00" d="M1001.9 143l49.5 0l0.8 30.6l-0.3 5.1l-1 2.6l-3.1 2.1l-15.6 0.9l-11.2 3.4l-6.8-0.1l-4.4-2.1l-6.2-6.8l-2.6-5.1l-0.2-5.1l1-15.3zM965 314.8l0-51.7l22.4 0l6.7 0.9l6.7 3.5l9 6.4l4.4 1.2l6.8 0.7l2.2 1.1l5.5 4l2.1 2.6l0.5 2.5l-1.4 2.6l-2.2 2l-4.5 1.6l-6.7 1l-4.5 5.6l-2.2 2l-4.5 1.7l-6.7 1.2l-2.1 7.9l-2.4 2.3l-6.7 0.8zM1041.1 337.4l6.7-0.8l22.4-0.1l0 49.2l-13.4 0l-4.5-0.5l-6.7-6.4l-5.1-5.9l-3.5-5.1l-0.6-5.1l1.5-20.5l0.8-2.5z"/><path fill="#ffff00" d="M1010.6 143l32 0l0.1 10.2l2.6 10.2l0.8 7.7l-0.4 5.1l-1.1 2.5l-1.2 1.2l-2.3 1.1l-8.9 0.9l-9 2.9l-4.5 0.6l-4.5-0.3l-2.2-0.9l-3.4-2.9l-2.5-5.1l-0.3-7.7l0.8-5.1l3.7-10.2zM965 310.6l0-45.3l17.9 0l4.5 0.5l3.9 2.4l5 6.8l2.3 1.3l9.2 2.1l5.9 2.5l-3.9 3.8l-5 6.5l-1.8 1l-8.9 1.7l-3.1 2.4l-1.3 2.5l-1.2 7.7l-1.1 2.6l-4.5 1.4zM1047.8 342.2l4.5-1.4l17.9-0.1l0 39.5l-15.6-0.1l-4.5-0.7l-4.5-3.5l-2.2-3l-1.8-5.1l0.3-7.7z"/><path fill="#ffd800" d="M1009.6 163.4l2.4-3.4l4.5-2.2l6.7 0.1l13.4 2.3l2.3 1l2.2 2.6l0.9 2.2l0.7 5.1l-0.9 5.1l-2.9 2.3l-9 1.3l-6.7 2.6l-4.5 0.7l-4.5-0.5l-2.5-1.3l-2.2-2.6l-1-2.5l-0.2-7.7zM965 267.7l17.9 0l4.5 1.3l2.2 2.1l2.6 4.7l1.3 5.1l-0.4 2.6l-1.6 2.5l-1.9 1.5l-4.5 1.5l-20.1 0.3zM1047.8 354.1l4.5-2.1l17.9-0.3l0 25.7l-17.9-0.1l-2.2-0.6l-2.3-1.3l-2.2-2.5l-1.1-2.6l-0.6-5.1l0.6-5.1l0.9-2.5z"/><path fill="#ffb100" d="M1010.4 173.6l0.2-5.1l0.8-2.5l2.8-3.2l2.3-0.7l4.5 0l4.8 1.3l7.7 5.1l2.3 2.6l-1.6 2.5l-2 0.8l-6.3 4.3l-4.9 1.7l-4.5 0.1l-2.3-0.6l-2.2-1.7zM965 270.7l15.6 0l4.5 0.9l2.3 1.8l1.3 2.4l0.8 2.6l-0.3 2.5l-1.8 2.6l-2.3 1l-20.1 0.4zM1047.8 359l2.3-2.1l2.2-0.6l17.9-0.2l0 18.8l-17.9-0.2l-3.8-1.8l-1.6-2.6l-0.6-2.5l0.2-5.1z"/><path fill="#ff8900" d="M1013.9 168.5l2.6-2.1l4.5 0.1l3.1 2l1 2.6l-0.2 2.5l-1.9 2.6l-4.3 1.1l-2.2-0.2l-2-0.9l-1.1-2.6zM965 276.7l15.6 0.2l2.3 0.7l0.6 0.8l-2.9 1.1l-15.6 0.1zM1049.7 362.7l2.6-2.2l2.3-0.4l15.6 0l0 11.5l-17.9-0.3l-1.9-1l-1.1-2.5z"/></g><path d="M971.8 150.9h9a8 8 0 0 1-8 8h-1z" fill="#40b0ff"/><path d="M971.8 150.9h6.6a5.6 5.6 0 0 1-5.6 5.6h-1z" fill="#fff"/><path d="M971.8 459.5h9a8 9.6 0 0 0-8-9.6h-1z" fill="#40b0ff"/><path d="M971.8 459.5h6.6a5.6 6.7 0 0 0-5.6-6.7h-1z" fill="#fff"/></g>
<g stroke="#383838" stroke-width="1.5" fill="none"><path d="M972.8 90.6H1062.4V703.8H972.8z"/><path stroke-width="1.2" d="M972.8 90.6v-4.5M972.8 703.8v4.5M990.7 90.6v-4.5M990.7 703.8v4.5M1008.6 90.6v-4.5M1008.6 703.8v4.5M1026.6 90.6v-4.5M1026.6 703.8v4.5M1044.5 90.6v-4.5M1044.5 703.8v4.5M1062.4 90.6v-4.5M1062.4 703.8v4.5M972.8 90.6h-4.5M1062.4 90.6h4.5M972.8 111.0h-1.6M1062.4 111.0h1.6M972.8 131.5h-1.6M1062.4 131.5h1.6M972.8 151.9h-1.6M1062.4 151.9h1.6M972.8 172.4h-1.6M1062.4 172.4h1.6M972.8 192.8h-4.5M1062.4 192.8h4.5M972.8 213.2h-1.6M1062.4 213.2h1.6M972.8 233.7h-1.6M1062.4 233.7h1.6M972.8 254.1h-1.6M1062.4 254.1h1.6M972.8 274.5h-1.6M1062.4 274.5h1.6M972.8 295.0h-4.5M1062.4 295.0h4.5M972.8 315.4h-1.6M1062.4 315.4h1.6M972.8 335.9h-1.6M1062.4 335.9h1.6M972.8 356.3h-1.6M1062.4 356.3h1.6M972.8 376.7h-1.6M1062.4 376.7h1.6M972.8 397.2h-4.5M1062.4 397.2h4.5M972.8 417.6h-1.6M1062.4 417.6h1.6M972.8 438.1h-1.6M1062.4 438.1h1.6M972.8 458.5h-1.6M1062.4 458.5h1.6M972.8 478.9h-1.6M1062.4 478.9h1.6M972.8 499.4h-4.5M1062.4 499.4h4.5M972.8 519.8h-1.6M1062.4 519.8h1.6M972.8 540.2h-1.6M1062.4 540.2h1.6M972.8 560.7h-1.6M1062.4 560.7h1.6M972.8 581.1h-1.6M1062.4 581.1h1.6M972.8 601.6h-4.5M1062.4 601.6h4.5M972.8 622.0h-1.6M1062.4 622.0h1.6M972.8 642.4h-1.6M1062.4 642.4h1.6M972.8 662.9h-1.6M1062.4 662.9h1.6M972.8 683.3h-1.6M1062.4 683.3h1.6M972.8 703.8h-4.5M1062.4 703.8h4.5"/></g>
<text transform="translate(971.8 82.6) scale(0.84 1)" font-size="13.1" text-anchor="middle" stroke="#262626" stroke-width="0.22">0.00</text><text transform="translate(971.8 722.5) scale(0.84 1)" font-size="13.1" text-anchor="middle" stroke="#262626" stroke-width="0.22">0.00</text><text transform="translate(1007.6 82.6) scale(0.84 1)" font-size="13.1" text-anchor="middle" stroke="#262626" stroke-width="0.22">2.00</text><text transform="translate(1007.6 722.5) scale(0.84 1)" font-size="13.1" text-anchor="middle" stroke="#262626" stroke-width="0.22">2.00</text><text transform="translate(1043.5 82.6) scale(0.84 1)" font-size="13.1" text-anchor="middle" stroke="#262626" stroke-width="0.22">4.00</text><text transform="translate(1043.5 722.5) scale(0.84 1)" font-size="13.1" text-anchor="middle" stroke="#262626" stroke-width="0.22">4.00</text><text transform="translate(966.0 96.1) scale(0.84 1)" font-size="13.1" text-anchor="end" stroke="#262626" stroke-width="0.22">0.00</text><text transform="translate(966.0 198.3) scale(0.84 1)" font-size="13.1" text-anchor="end" stroke="#262626" stroke-width="0.22">-5.00</text><text transform="translate(966.0 300.5) scale(0.84 1)" font-size="13.1" text-anchor="end" stroke="#262626" stroke-width="0.22">-10.00</text><text transform="translate(966.0 402.7) scale(0.84 1)" font-size="13.1" text-anchor="end" stroke="#262626" stroke-width="0.22">-15.00</text><text transform="translate(966.0 504.9) scale(0.84 1)" font-size="13.1" text-anchor="end" stroke="#262626" stroke-width="0.22">-20.00</text><text transform="translate(966.0 607.1) scale(0.84 1)" font-size="13.1" text-anchor="end" stroke="#262626" stroke-width="0.22">-25.00</text><text transform="translate(966.0 709.2) scale(0.84 1)" font-size="13.1" text-anchor="end" stroke="#262626" stroke-width="0.22">-30.00</text><g clip-path="url(#r5)"><text transform="translate(1067.0 96.1) scale(0.84 1)" font-size="13.1" text-anchor="start" stroke="#262626" stroke-width="0.22">0.00</text><text transform="translate(1067.0 198.3) scale(0.84 1)" font-size="13.1" text-anchor="start" stroke="#262626" stroke-width="0.22">-5.00</text><text transform="translate(1067.0 300.5) scale(0.84 1)" font-size="13.1" text-anchor="start" stroke="#262626" stroke-width="0.22">-10.00</text><text transform="translate(1067.0 402.7) scale(0.84 1)" font-size="13.1" text-anchor="start" stroke="#262626" stroke-width="0.22">-15.00</text><text transform="translate(1067.0 504.9) scale(0.84 1)" font-size="13.1" text-anchor="start" stroke="#262626" stroke-width="0.22">-20.00</text><text transform="translate(1067.0 607.1) scale(0.84 1)" font-size="13.1" text-anchor="start" stroke="#262626" stroke-width="0.22">-25.00</text><text transform="translate(1067.0 709.2) scale(0.84 1)" font-size="13.1" text-anchor="start" stroke="#262626" stroke-width="0.22">-30.00</text></g><text transform="translate(948.4 62.3) scale(0.845 1)" font-size="20.2" text-anchor="start" stroke="#262626" stroke-width="0.22">-9m</text><text transform="translate(977.8 62.6) scale(0.831 1)" font-size="19.5" text-anchor="start" font-family="Liberation Sans, Noto Sans CJK SC, sans-serif" fill="#262626">注浆</text><text transform="translate(1026.2 62.3) scale(0.762 1)" font-size="20.2" text-anchor="start" stroke="#262626" stroke-width="0.22">CT</text><path d="M1046.8 64.9h8.6" stroke="#262626" stroke-width="1.4"/><text transform="translate(1055.5 62.6) scale(0.831 1)" font-size="19.5" text-anchor="start" font-family="Liberation Sans, Noto Sans CJK SC, sans-serif" fill="#262626">波速</text>
<g clip-path="url(#c6)"><g filter="url(#bl)"><rect x="1150" y="92" width="101" height="311" fill="#0014ff"/><path fill="#003bff" d="M1148.4 79.7l105 0l0 326.1l-47.9 0l-0.1-7.7l-1.1-3.4l-2.3-1.3l-17.9-1.7l-2.2 0.5l-1.9 3.4l-0.3 10.2l-31.3 0z"/><path fill="#0062ff" d="M1148.4 79.7l105 0l0 326.1l-40.5 0l-0.3-10.2l-1.2-2.6l-2.5-2.6l-4.6-2.1l-9-0.9l-6.7-2.2l-4.5-0.8l-4.4 0.7l-2.8 2.8l-1.5 5.1l-0.2 12.8l-26.8 0z"/><path fill="#0089ff" d="M1148.4 79.7l105 0l0 326.1l-26.5 0l-0.3-10.2l-1.1-2.6l-3.4-2.5l-6.7-1l-11.1-4.8l-9-1.1l-6.7-2.5l-4.5-0.7l-4.4 0.3l-2.3 0.7l-2.1 1.3l-1.8 2.6l-1.6 7.7l-0.1 12.8l-23.4 0z"/><path fill="#00b1ff" d="M1148.4 79.7l105 0l0 314.8l-17.9-0.4l-11.1-7.2l-9-1.4l-11.1-4.3l-6.8-0.7l-11.1-2.9l-9 0.4l-5.5 2.2l-5.6 3.5l-2.3 0.5l-15.6 0.1z"/><path fill="#00d8ff" d="M1148.4 79.7l105 0l0 307.9l-20.1-0.4l-8.9-3.7l-11.2-1.7l-8.9-4.1l-17.9-2.9l-9 0.2l-11.1 2.1l-17.9 0.1z"/><path fill="#00ffff" d="M1148.4 79.7l105 0l0 304.4l-20.1-0.3l-11.2-3.6l-8.9-1.1l-8.9-5.1l-17.9-2.9l-9 0l-11.1 1.2l-17.9 0.1z"/><path fill="#00ffd8" d="M1148.4 79.7l105 0l0 159.1l-22.3-0.2l-17.9-1.6l-11.2-2.1l-2.2 0.3l-1.5 1.2l-0.8 1.2l-0.4 3.9l0.3 5.1l1.4 2.6l1 0.9l6.7 1.7l2.2 1.3l2.9 3.8l4.2 10.3l1.9 1.1l8.9 2l2.4 2l3.8 5.1l2.7 1.4l17.9 0.2l0 102.5l-20.1-0.3l-11.2-3.3l-8.9-1.3l-8.9-5.9l-11.2-2.2l-2.3-1.4l-4.4-5.3l-2.3-0.9l-6.7-0.7l-11.1-2.2l-17.9 0l0-131.8l35.7 0.4l2.9-0.5l1.6-2.6l-1.7-12.8l-0.5-1.1l-2.3-1.8l-15.6-1.2l-20.1-0.1z"/><path fill="#00ffb1" d="M1148.4 79.7l105 0l0 156.2l-22.3-0.3l-9-2.1l-8.9-0.9l-8.9-4l-6.8-1l-2.2-1.3l-2.2-3.8l-3.7-14.4l-3-3.2l-17.9-2.3l-20.1-0.2zM1148.4 229.1l20.1 0.1l17.9 1l4.4 0.7l2.5 2.9l1.5 15.4l2.2 5.1l2.8 2.2l4.5 0.9l3.3 2.1l2 2.5l3.6 7.7l2.2 2.2l9 2.2l2.2 1.8l4.5 5.3l2.2 1.3l4.5 0.6l15.6 0.1l0 96.2l-20.1-0.2l-11.2-3.5l-6.7-0.7l-4.4-2.1l-6.7-5.3l-9-2.1l-2.2-1.6l-4.5-5.2l-2.2-1.5l-11.2-2l-8.9-6.1l-2.3-1l-15.6-0.2z"/><path fill="#00ff89" d="M1148.4 79.7l105 0l0 154.2l-20.1-0.2l-4.5-0.9l-6.7-2.3l-6.7-0.8l-3.2-1l-7.9-5.7l-6.8-2.1l-2.3-2.5l-4.6-12.9l-2-2.1l-2.2-1.2l-9-0.9l-8.9-1.9l-20.1-0.2zM1148.4 231.2l20.1 0l17.9 1.7l2.2 0.7l2.4 2.8l1.5 12.8l2.8 8.1l2.2 2.5l6.8 1.7l2.2 1.3l6.7 10.8l2.2 1.8l7.7 2l5.7 5.8l2.3 1.8l2.2 0.9l20.1 0.4l0 91.3l-20.1-0.2l-11.2-3.7l-6.7-0.9l-2.2-0.8l-8.9-7.3l-6.8-1.7l-2.2-1.1l-6.7-6.6l-2.2-1.3l-6.7-1l-4.5-2.1l-2.2-2.6l-2.7-6.7l-1.9-2.5l-4.4-1.1l-15.6 0z"/><path fill="#00ff62" d="M1148.4 79.7l105 0l0 152.4l-20.1-0.3l-4.5-1.2l-6.7-3.2l-6.7-0.9l-2.2-0.9l-2.9-2.1l-6-6.2l-4.5-1.5l-2.3-1.3l-6.2-11.5l-2.7-2.3l-2.2-1l-9-0.9l-8.9-2.5l-20.1-0.2zM1148.4 232.9l20.1 0.2l17.9 2.6l2.2 2l0.6 1.2l0.8 7.7l1.1 5.2l2 6.1l2.2 3.9l2.2 1.6l6.8 1.6l2.2 1.9l4.5 7.7l2.2 2.9l2.2 1.8l6.7 2l6.7 5.9l4.5 1.9l20.1 0.4l0 86.5l-20.1-0.3l-11.2-4l-6.7-0.8l-4.4-2.5l-6.7-6.7l-6.8-2l-2.2-1.3l-6.7-6.2l-2.2-1.3l-6.7-1.3l-2.3-1l-2.2-2.5l-4.5-9.2l-2.2-1.7l-4.5-0.7l-15.6-0.1z"/><path fill="#00ff3b" d="M1148.4 79.7l105 0l0 150.4l-20.1-0.3l-3.6-1.1l-5.3-3.7l-2.3-0.9l-6.7-1l-2.2-1.1l-2.2-2.1l-4.5-7.1l-2.2-2.1l-4.5-1.4l-2.3-1.6l-5.4-7.3l-3.5-2.6l-2.2-0.9l-9-1.1l-8.9-2.7l-20.1-0.2l0-35.9l17.9-0.1l2.2-0.5l2.2-2.2l-0.3-2.6l-1.9-2.4l-2.2-0.8l-17.9-0.2zM1148.4 234.9l20.1 0.1l15.8 3.9l2.1 2.4l1.4 7.9l5.3 14.1l2.2 2.6l2.2 1.1l4.5 0.9l2.3 1l2.2 2.5l6.7 11.7l2.2 2l6.7 1.9l6.7 4.1l4.5 1.4l20.1 0.2l0 81.6l-20.1-0.2l-11.2-4.2l-6.7-0.9l-4.4-2.7l-6.7-7.6l-2.3-1.2l-4.5-1l-2.2-1.3l-6.7-6.1l-2.2-1.3l-6.7-1.7l-2.3-1.6l-4.4-9.2l-2.3-2.5l-4.4-1.7l-17.9-0.2z"/><path fill="#00ff14" d="M1148.4 79.7l105 0l0 148.1l-15.6 0l-4.5-0.5l-2.7-1.2l-4-3.8l-2.2-1.3l-9-1.8l-2.2-1.8l-1.1-1.6l-3-7.7l-2.6-3.4l-2.2-1.1l-4.5-0.9l-2.3-1.1l-4.4-4.5l-4.5-3.5l-8.9-1.4l-9-2.2l-22.3-0.3l0-29.7l17.9-0.1l4.4-0.5l3.6-2.7l0.8-2.5l-0.7-5.2l-1.4-3.3l-2.3-2.6l-2.2-1.1l-4.5-0.5l-15.6 0zM1148.4 237.2l17.9 0.1l6.5 1.6l2.1 2.6l1.2 5.1l1.3 2.7l2.3 1.4l4.4 1.3l2.3 2l4 10.6l2.7 4.5l2.2 2l6.7 1.7l2.3 1.4l2.3 3.2l4.4 10.2l2.2 2.5l2.2 1.6l17.9 4.3l20.1 0.1l0 76.7l-20.1-0.4l-11.2-4.3l-6.7-0.9l-2.2-1l-2.2-2l-6.7-8.6l-9-3.4l-8.9-7.7l-6.7-2.4l-2.2-3l-2.3-5.7l-4.5-5l-4.4-1.9l-17.9-0.2z"/><path fill="#14ff00" d="M1148.4 79.7l105 0l0 131l-13.4-0.2l-4.5-2.2l-11.1-1.7l-2.3-1l-5.4-5.2l-13.6-7.7l-2.2-2.6l-1.1-2.6l-2.3-1.2l-49.1 0.6l0-24.5l30.5-0.5l3.8-2.6l0.7-5.1l-0.7-10.3l-0.9-2.6l-3.8-2.5l-9.5-2.8l-20.1-0.2zM1148.4 254.3l8.9 0l2.3 0.5l0.8 2.1l1.4 0.1l2.7 2.5l15.2 5.1l2 2.6l2 5.1l2.8 2.6l9.6 5.1l3.6 2.6l15.7 14.8l2.3 0.8l15.6 1.9l20.1 0.1l0 71l-20.1-0.4l-8.9-3.7l-9-1.7l-2.2-1.1l-2.2-2.1l-6.7-9.5l-2.3-1.2l-4.5-0.9l-4.4-2.8l-8-8.7l-3.4-5.2l-11-10.3l-4.4-1.7l-17.9-0.2z"/><path fill="#3bff00" d="M1148.4 79.7l105 0l0 113.9l-20.1-0.1l-4.5-0.9l-6.7-2.2l-6.7-0.9l-2.2-1.1l-2.7-3.4l-3.6-10.3l-2.6-3.8l-2.3-1.3l-4.5-0.7l-2.2-0.9l-0.8-1l-1-5.1l-0.5-15.4l-2.5-7.7l-1.9-2.6l-4.5-1.6l-6.7-0.6l-8.9-1.9l-20.1-0.3zM1148.4 164.7l17.9 0.1l4.4 0.5l4 1.7l5 4.4l2.2 1.1l4.5 1l1.8 1.2l-0.6 2.6l-1.2 0.9l-6.7 2.1l-4.5 2.4l-4.5 1.3l-22.3 0.4zM1148.4 271.4l17.9 0l4.4 1l2.3 1.3l4.4 5.3l2.3 1.7l8.9 2l2.2 1.3l5.7 6.3l1 0.7l6.8 1.6l2.2 1l6.7 6.5l2.2 1.5l9 1.2l11.1 2.6l17.9 0.1l0 64.1l-20.1-0.4l-8.9-3.8l-9-1.7l-2.2-1.3l-2.2-2.4l-4.5-7.5l-2.2-2.5l-2.3-1l-4.5-0.8l-2.2-1.1l-3.2-2.9l-3.3-5.1l-2.4-9l-2.3-2.4l-6.7-2.3l-5.2-4.3l-3.7-1.7l-20.1-0.5z"/><path fill="#62ff00" d="M1148.4 79.7l105 0l0 110.3l-20.1-0.2l-4.5-1.4l-6.7-4.1l-6.7-1.9l-2.2-2.2l-5.2-10.6l-1.7-5.1l-0.2-2.6l1.3-10.3l-0.8-5.1l-2.3-2.8l-6.8-2.1l-4.8-5.4l-3.2-2.6l-3.1-1.1l-9-0.8l-11.1-3l-17.9-0.1zM1148.4 167.3l17.9 0.1l4.4 1l2.3 1.5l2 2.3l1.1 2.5l-0.2 2.6l-2.9 3.1l-4.5 1.5l-20.1 0.2zM1148.4 275l17.9 0.1l4.4 1.4l6.7 6.6l2.3 1.4l6.7 1.2l2.2 1l6.7 6.7l2.2 1.4l6.8 1.3l2.2 1.2l6.7 6.4l2.2 1.3l9 1.3l8.9 2.9l20.1 0.3l0 58.5l-20.1-0.4l-8.9-3.9l-9-1.8l-2.9-2.3l-6-9.8l-2.2-2.2l-6.8-1.7l-2.2-1.1l-2.2-2.1l-2.3-3.6l-2.2-8.7l-2.2-5.1l-2.3-1.4l-4.4-0.9l-7.2-4.5l-4-1.3l-20.1-0.3z"/><path fill="#89ff00" d="M1148.4 79.7l105 0l0 107.1l-20.1-0.4l-4.5-2l-6.7-6.2l-6.7-2.5l-2.2-2.4l-2-3.7l-1.2-5.1l1-4.5l4-8.4l-0.1-2.6l-2.9-5.1l-5.5-5.5l-2.2-1l-6.8-1.3l-8.9-5l-11.2-1.3l-8.9-3.2l-20.1-0.5zM1148.4 179.7l0-9.4l17.9 0.2l4.4 1.6l1.6 2.6l-0.6 2.6l-3.2 1.9l-4.5 0.5zM1148.4 278.2l15.6 0.1l4.5 0.6l2.2 1.2l6.7 6.4l2.3 1.3l6.7 1.3l2.2 1.2l6.7 6.5l2.2 1.3l6.8 1.3l2.2 1.3l6.7 6.2l2.2 1.1l9 1.3l8.9 2.7l20.1 0.3l0 54.1l-20.1-0.4l-8.9-4.1l-9-1.9l-3.2-3l-6.2-10.2l-1.7-1.5l-6.8-1.6l-2.2-1.3l-2.2-2.5l-1.6-3.4l-2.9-11.6l-2.2-3.3l-2.3-1l-4.4-0.9l-6.7-3.2l-4.5-1.2l-20.1-0.2z"/><path fill="#b1ff00" d="M1148.4 79.7l105 0l0 42.8l-15.6 0l-5.4 0.9l-3.2 2.5l-2.6 10.5l-2.2 2.5l-4.5 1.2l-4.5-0.6l-6.7-4.5l-2.2-0.8l-9-1.1l-8.9-3.7l-11.2-1.4l-8.9-3.4l-20.1-0.4zM1214 164.5l1.4-2.7l2.3-1l35.7-0.5l0 23.3l-17.9-0.1l-4.4-1.3l-2.8-2.3l-3.9-6.2l-2.3-2l-4.4-1.2l-2.3-1.2l-1.3-2.3zM1148.4 281.4l15.6 0l4.5 0.7l2.2 1.2l6.7 6.5l2.3 1.2l6.7 1.3l2.2 1.3l6.7 6.6l2.2 1.2l6.8 1.2l2.2 1.3l6.7 5.8l2.2 1l9 1.1l8.9 2.5l20.1 0.3l0 50.2l-20.1-0.4l-8.9-4.3l-9-2.1l-3.4-3.5l-5.5-9.7l-2.2-1.7l-6.8-1.6l-3-2.4l-2.4-5.2l-3.1-12.8l-2.6-3l-17.9-4.6l-20.1-0.1z"/><path fill="#d8ff00" d="M1148.4 79.7l105 0l0 39.4l-20.1 0.3l-4.5 1.9l-8.9 6.6l-6.7 2.6l-4.5 0.5l-11.2-0.2l-8.9-3.1l-11.2-1.4l-8.9-3.4l-20.1-0.3zM1228.9 169.6l2.2-2.4l2.2-0.6l20.1-0.3l0 14.1l-15.6-0.1l-4.5-0.6l-3-2.4l-1.2-2.6zM1148.4 284.5l15.6 0l4.5 0.7l2.2 1.4l6.7 6.6l2.3 1.1l6.7 1.3l2.2 1.5l4.5 5.2l2.2 1.7l9 1.8l8.9 6.6l11.2 1.7l8.9 2.5l20.1 0.2l0 46.2l-20.1-0.4l-8.9-4.6l-9-2.1l-2.2-2.1l-4.5-8.5l-2.2-3l-2.2-1.4l-6.8-1.6l-2.2-1.8l-2.6-6.1l-2.5-12.9l-1.6-2.6l-2.2-1.4l-17.9-2.9l-20.1-0.1z"/><path fill="#ffff00" d="M1148.4 79.7l105 0l0 36.4l-20.1 0.4l-8.9 3.7l-9 2.4l-6.7 5.1l-6.7 1.3l-4.5-0.3l-8.9-2.6l-8.9-0.8l-11.2-3.9l-20.1-0.3zM1148.4 287.9l15.6 0.1l4.5 0.8l2.2 1.6l6.7 6.7l9 3.1l4.4 6.1l2.3 1.5l11.2 1.5l5.7 4.1l3.2 1.5l9.5 1.1l10.6 2.9l20.1 0.3l0 41.8l-20.1-0.5l-8.9-4.7l-6.7-1.3l-2.3-0.9l-2.2-2.5l-4.5-8.7l-2.2-2.6l-2.2-1.2l-6.8-1.6l-2.2-2.3l-1.8-5.9l-1.3-12.8l-1.4-3.7l-2.2-1.7l-2.2-0.6l-15.7-0.8l-22.3-0.1z"/><path fill="#ffd800" d="M1148.4 79.7l105 0l0 33.8l-17.9 0.1l-4.4 0.8l-6.7 2.8l-9 1.9l-6.7 5.8l-2.2 1.2l-4.5 0.8l-4.5-0.2l-8.9-2.1l-8.9-0.8l-11.2-3.8l-20.1-0.3zM1148.4 292.6l15.6 0l4.5 1.2l4.1 4.2l1.1 2.6l-0.4 2.5l-2.6 1.7l-2.2 0.6l-20.1 0.3zM1197.5 314l2.3-0.7l2.2 0l9 3.7l12.4 1.5l9.9 3l20.1 0.3l0 36.9l-15.6 0l-4.5-0.6l-8.9-4.7l-6.7-1.3l-2.3-1.2l-2.2-3.1l-4.7-8.7l-3.5-2.6l-5.2-1l-2.3-1l-2.1-3.1l-0.7-5.2l0.6-7.7l0.8-2.5z"/><path fill="#ffb100" d="M1148.4 79.7l105 0l0 31.5l-20.1 0.3l-8.9 3.1l-6.7 1l-2.3 0.7l-2.2 1.6l-4.5 4.5l-2.2 1.5l-4.5 1l-4.5-0.1l-8.9-1.8l-8.9-0.6l-11.2-3.8l-20.1-0.3zM1197.5 322.3l2.3-2.3l4.5-0.4l6.7 1.1l11.1 0.7l11.2 3.3l20.1 0.2l0 30.9l-15.6 0l-4.5-0.5l-8.9-4.8l-6.7-1.6l-2.3-1.7l-4.4-8.4l-2.3-3l-2.2-1.5l-6.7-1.5l-2.3-1.4l-0.8-2.6l0-2.6z"/><path fill="#ff8900" d="M1148.4 79.7l105 0l0 29.2l-20.1 0.3l-8.9 3.2l-9 1.5l-2.2 1.4l-6.7 6.5l-4.5 1.2l-4.5 0l-8.9-1.4l-8.9-0.6l-11.2-3.8l-20.1-0.3zM1203.9 328.8l4.8-1.9l9-0.7l15.6 2.1l20.1 0.1l0 23.9l-17.9-0.1l-4.4-1.3l-6.7-4.8l-6.7-2.6l-2.3-2.2l-4.4-8.5l-4.5-3.6z"/><path fill="#ff6200" d="M1148.4 79.7l105 0l0 26.8l-20.1 0.4l-8.9 3.5l-9 1.3l-2.2 1.2l-6.7 6.9l-4.5 1.4l-22.3-1.7l-9-3.3l-4.4-0.8l-17.9-0.1zM1227 336.5l2.9-2.6l3.4-0.7l20.1-0.2l0 14.7l-15.6 0l-4.5-0.6l-4-2.9l-1.9-2.6l-0.8-2.5z"/><path fill="#ff3b00" d="M1148.4 79.7l105 0l0 24.2l-17.9 0.1l-4.4 1.2l-6.7 3.3l-9 1.2l-2.2 0.9l-2.2 2l-4.5 5.1l-2.2 1.2l-2.3 0.5l-22.3-1.4l-9-3.6l-4.4-0.9l-17.9-0.1z"/><path fill="#ff0000" d="M1148.4 79.7l105 0l0 21.2l-20.1 0.5l-8.9 4.9l-11.2 2l-2.2 1.5l-4.9 5.9l-4.1 1.7l-22.3-1.1l-2.4-0.6l-6.6-3.7l-4.4-1l-17.9-0.1z"/></g><path d="M1155.2 397.8h9a8 9.6 0 0 0-8-9.6h-1z" fill="#fff"/><path d="M1155.2 397.8h9.0a8.0 9.6 0 0 0-8.0-9.6h-1z" fill="#fff"/></g>
<g stroke="#383838" stroke-width="1.5" fill="none"><path d="M1156.2 88.7H1245.6V705.0H1156.2z"/><path stroke-width="1.2" d="M1156.2 88.7v-4.5M1156.2 705.0v4.5M1174.1 88.7v-4.5M1174.1 705.0v4.5M1192.0 88.7v-4.5M1192.0 705.0v4.5M1209.8 88.7v-4.5M1209.8 705.0v4.5M1227.7 88.7v-4.5M1227.7 705.0v4.5M1245.6 88.7v-4.5M1245.6 705.0v4.5M1156.2 88.7h-4.5M1245.6 88.7h4.5M1156.2 109.2h-1.6M1245.6 109.2h1.6M1156.2 129.8h-1.6M1245.6 129.8h1.6M1156.2 150.3h-1.6M1245.6 150.3h1.6M1156.2 170.9h-1.6M1245.6 170.9h1.6M1156.2 191.4h-4.5M1245.6 191.4h4.5M1156.2 212.0h-1.6M1245.6 212.0h1.6M1156.2 232.5h-1.6M1245.6 232.5h1.6M1156.2 253.0h-1.6M1245.6 253.0h1.6M1156.2 273.6h-1.6M1245.6 273.6h1.6M1156.2 294.1h-4.5M1245.6 294.1h4.5M1156.2 314.7h-1.6M1245.6 314.7h1.6M1156.2 335.2h-1.6M1245.6 335.2h1.6M1156.2 355.8h-1.6M1245.6 355.8h1.6M1156.2 376.3h-1.6M1245.6 376.3h1.6M1156.2 396.8h-4.5M1245.6 396.8h4.5M1156.2 417.4h-1.6M1245.6 417.4h1.6M1156.2 437.9h-1.6M1245.6 437.9h1.6M1156.2 458.5h-1.6M1245.6 458.5h1.6M1156.2 479.0h-1.6M1245.6 479.0h1.6M1156.2 499.6h-4.5M1245.6 499.6h4.5M1156.2 520.1h-1.6M1245.6 520.1h1.6M1156.2 540.7h-1.6M1245.6 540.7h1.6M1156.2 561.2h-1.6M1245.6 561.2h1.6M1156.2 581.7h-1.6M1245.6 581.7h1.6M1156.2 602.3h-4.5M1245.6 602.3h4.5M1156.2 622.8h-1.6M1245.6 622.8h1.6M1156.2 643.4h-1.6M1245.6 643.4h1.6M1156.2 663.9h-1.6M1245.6 663.9h1.6M1156.2 684.5h-1.6M1245.6 684.5h1.6M1156.2 705.0h-4.5M1245.6 705.0h4.5"/></g>
<text transform="translate(1155.2 80.7) scale(0.84 1)" font-size="13.1" text-anchor="middle" stroke="#262626" stroke-width="0.22">0.00</text><text transform="translate(1155.2 723.8) scale(0.84 1)" font-size="13.1" text-anchor="middle" stroke="#262626" stroke-width="0.22">0.00</text><text transform="translate(1191.0 80.7) scale(0.84 1)" font-size="13.1" text-anchor="middle" stroke="#262626" stroke-width="0.22">2.00</text><text transform="translate(1191.0 723.8) scale(0.84 1)" font-size="13.1" text-anchor="middle" stroke="#262626" stroke-width="0.22">2.00</text><text transform="translate(1226.7 80.7) scale(0.84 1)" font-size="13.1" text-anchor="middle" stroke="#262626" stroke-width="0.22">4.00</text><text transform="translate(1226.7 723.8) scale(0.84 1)" font-size="13.1" text-anchor="middle" stroke="#262626" stroke-width="0.22">4.00</text><text transform="translate(1149.4 94.2) scale(0.84 1)" font-size="13.1" text-anchor="end" stroke="#262626" stroke-width="0.22">0.00</text><text transform="translate(1149.4 196.9) scale(0.84 1)" font-size="13.1" text-anchor="end" stroke="#262626" stroke-width="0.22">-5.00</text><text transform="translate(1149.4 299.6) scale(0.84 1)" font-size="13.1" text-anchor="end" stroke="#262626" stroke-width="0.22">-10.00</text><text transform="translate(1149.4 402.3) scale(0.84 1)" font-size="13.1" text-anchor="end" stroke="#262626" stroke-width="0.22">-15.00</text><text transform="translate(1149.4 505.1) scale(0.84 1)" font-size="13.1" text-anchor="end" stroke="#262626" stroke-width="0.22">-20.00</text><text transform="translate(1149.4 607.8) scale(0.84 1)" font-size="13.1" text-anchor="end" stroke="#262626" stroke-width="0.22">-25.00</text><text transform="translate(1149.4 710.5) scale(0.84 1)" font-size="13.1" text-anchor="end" stroke="#262626" stroke-width="0.22">-30.00</text><text transform="translate(1250.2 94.2) scale(0.84 1)" font-size="13.1" text-anchor="start" stroke="#262626" stroke-width="0.22">0.00</text><text transform="translate(1250.2 196.9) scale(0.84 1)" font-size="13.1" text-anchor="start" stroke="#262626" stroke-width="0.22">-5.00</text><text transform="translate(1250.2 299.6) scale(0.84 1)" font-size="13.1" text-anchor="start" stroke="#262626" stroke-width="0.22">-10.00</text><text transform="translate(1250.2 402.3) scale(0.84 1)" font-size="13.1" text-anchor="start" stroke="#262626" stroke-width="0.22">-15.00</text><text transform="translate(1250.2 505.1) scale(0.84 1)" font-size="13.1" text-anchor="start" stroke="#262626" stroke-width="0.22">-20.00</text><text transform="translate(1250.2 607.8) scale(0.84 1)" font-size="13.1" text-anchor="start" stroke="#262626" stroke-width="0.22">-25.00</text><text transform="translate(1250.2 710.5) scale(0.84 1)" font-size="13.1" text-anchor="start" stroke="#262626" stroke-width="0.22">-30.00</text><text transform="translate(1131.2 60.4) scale(0.845 1)" font-size="20.2" text-anchor="start" stroke="#262626" stroke-width="0.22">-6m</text><text transform="translate(1160.6 60.7) scale(0.831 1)" font-size="19.5" text-anchor="start" font-family="Liberation Sans, Noto Sans CJK SC, sans-serif" fill="#262626">注浆</text><text transform="translate(1209.0 60.4) scale(0.762 1)" font-size="20.2" text-anchor="start" stroke="#262626" stroke-width="0.22">CT</text><path d="M1229.6 63.0h8.6" stroke="#262626" stroke-width="1.4"/><text transform="translate(1238.3 60.7) scale(0.831 1)" font-size="19.5" text-anchor="start" font-family="Liberation Sans, Noto Sans CJK SC, sans-serif" fill="#262626">波速</text>
<g clip-path="url(#c7)"><g filter="url(#bl)"><rect x="1328" y="87" width="101" height="252" fill="#0014ff"/><path fill="#003bff" d="M1326.6 77.5l104.9 0l0 264.9l-104.9 0z"/><path fill="#0062ff" d="M1326.6 77.5l104.9 0l0 264.9l-104.9 0z"/><path fill="#0089ff" d="M1326.6 77.5l104.9 0l0 264.9l-104.9 0zM1354.2 198.4l-0.8 2.5l0.6 2.6l1.5 2.6l2.3 1.9l2.3 0.8l3.7-0.1l3-1.5l1-1.1l1.1-2.6l0.2-2.6l-1-2.5l-3.6-1.7l-4.4-0.4l-2.3 0.4z"/><path fill="#00b1ff" d="M1326.6 77.5l104.9 0l0 264.9l-104.9 0l0-140.6l13.4 0l4.4 0.5l4.5 3.2l5.2 5.7l3.5 5.2l2.5 4.8l2.2 0.6l22.3 1.2l4.5 1.7l2.2 2l4.5 5.6l2.2 0.1l1.1-0.6l1.2-2.6l0.1-5.1l-0.6-5.1l-1.8-2.1l-8.9-1.7l-2.2-1.4l-2.2-2.6l-1.3-2.5l-1.3-7.8l-10.7-5.1l-6.9-1.6l-6.7 0l-7.4 1.6l-3.7 2.1l-4.5 1.5l-15.6 0.1z"/><path fill="#00d8ff" d="M1326.6 77.5l104.9 0l0 264.9l-104.9 0l0-133.3l15.6 0l4.5 0.6l2.2 1.3l2.5 2.8l1.1 2.6l0.8 5.1l0.9 2.6l2.8 2.6l3.1 0.8l6.7 0.4l15.6 2.1l3.6 1.8l5.3 6.4l3 1.3l6.6 0l5.6-2.5l2.2-2.6l0.9-2.6l0.3-7.7l-0.3-5.1l-0.7-2.6l-3.5-5.2l-5.1-4.7l-6.7-2.6l-3-5.5l-3.9-2.6l-24.4-3.3l-6.7 0.2l-11.2 1.5l-17.8 0.1z"/><path fill="#00ffff" d="M1326.6 77.5l104.9 0l0 131.1l-15.6 0l-4.5-0.9l-2.2-1.7l-1.4-2.5l-1.6-5.1l-3.4-2.6l-9.2-0.9l-9-1.8l-20.1-1.7l-37.9 0.7zM1326.6 213.9l17.8 0.3l2.3 1.1l1 1.1l2.3 7.7l2 2.6l3.5 2.5l2.3 0.9l9 0.9l8.9 3l6.7 1.5l5.9 6.6l3 1.4l9 0.6l13.4-2.1l17.8-0.1l0 100.5l-104.9 0z"/><path fill="#00ffd8" d="M1326.6 77.5l104.9 0l0 117.7l-17.8-0.1l-11.2-2.1l-38-2.8l-37.9 0.2l0-36.7l17.8-0.3l3-1.3l0.7-2.6l-1.4-4.8l-2.3-1.5l-17.8-0.4zM1326.6 225.7l17.8 0.2l4.5 2l4.5 3.1l4.4 2.1l9 1.3l3.6 2.6l2 5.1l1.6 2.6l3.9 1.4l4.5 0.4l13.4 2.9l35.7-0.2l0 93.2l-104.9 0z"/><path fill="#00ffb1" d="M1326.6 77.5l104.9 0l0 114.3l-20.1-0.1l-46.9-2.6l-37.9-0.2l0-31.1l15.6 0l4.5-0.5l4.5-2.6l1.5-2.6l-0.5-2.6l-3.2-7.7l-2.3-2.3l-4.5-0.8l-15.6 0zM1326.6 229.9l15.6 0l4.5 0.5l4.4 2.4l6.7 5.3l4.5 2l4.4 4.6l4.5 3.5l4.5 1.9l6.7 0.6l4.5 1.1l8.9 6.3l2.2 0.7l33.5 0.2l0 83.4l-104.9 0z"/><path fill="#00ff89" d="M1326.6 77.5l104.9 0l0 111.8l-35.7 0.2l-49.1-2.2l-20.1-0.1l0-26l15.6 0l4.5-0.6l10.1-5.9l2.6-2.6l-1.6-0.7l-2.2-2.4l-2.2-3.5l-2.9-6.3l-1.6-1.9l-2.2-1.3l-4.5-0.5l-15.6 0zM1326.6 233.5l15.6 0l5.2 0.9l3.2 2.6l2.8 7.7l2.9 2.5l8.2 1.6l11.2 4.9l6.7 0.8l2.2 0.9l2.1 2.1l2.4 7.7l2.2 2.2l2.3 1l8.9 0.9l11.2 2.5l17.8 0.1l0 70.5l-104.9 0z"/><path fill="#00ff62" d="M1326.6 77.5l104.9 0l0 109.3l-17.8 0l-17.9 1.2l-38-1.4l-13.4-1.1l-17.8-0.1l0-20.2l15.6 0l4.5-0.8l8.9-6.1l8.9-2l2.3-1.6l0.4-2.6l-1.2-2.6l-1.5-1.2l-6.7-1.9l-2.1-2l-3.6-7.7l-3.2-3.2l-4.5-1.1l-17.8-0.1zM1326.6 243.2l17.8 0.4l11.2 7.2l8.9 1.5l4.5 2l4.1 3.2l3.5 5.2l5.8 2.7l8.9 6l2.3 0.7l8.9 1.1l4.6 2.3l2.5 2.6l2.1 5.1l2 2.2l2.2 0.5l15.6 0.1l0 56.4l-86.7 0l-0.4-19.2l-1.1-1.4l-1.1-0.3l-15.6-0.1z"/><path fill="#00ff3b" d="M1326.6 77.5l104.9 0l0 105.8l-17.8 0.1l-9 2.3l-8.9 0.6l-38-1.1l-13.4-2.7l-17.8-0.2l0-10.8l17.8-0.2l2.3-1l6.7-7.9l2.2-1.5l2.2-0.8l6.7-0.9l2.3-0.8l2.2-2.2l0.8-1.5l0.2-2.6l-1-3.6l-2.2-3.1l-2.3-1.5l-5.8-2.1l-3.8-7.7l-3.8-3.3l-2.2-0.9l-4.5-0.7l-17.8-0.1zM1326.6 249.4l15.6 0l4.5 0.5l11.1 5.7l6.7 1.4l2.3 1.9l2.5 6.3l4.2 3.5l2.2 0.8l6.7 1l11.2 5.7l7.9 1.9l1.6 2.6l1.2 5.1l1.3 2.6l3.6 4.1l2.2 1.5l4.5 0.9l15.6 0.1l0 47.4l-82.1 0l0-18l-0.8-5.1l-1.9-2.2l-2.3-0.8l-17.8-0.2z"/><path fill="#00ff14" d="M1326.6 77.5l104.9 0l0 93l-15.6 0l-4.5 1.2l-3.1 3.5l-1.7 5.2l-2.6 2.5l-3.7 1l-42.5-0.7l-2.2-0.3l-3.8-2.5l-0.7-2.6l0.2-2.6l2.3-7.7l1.5-2.6l2.7-1.9l9-1.4l3.1-1.8l1.9-2.6l0.8-2.5l-0.1-5.2l-2.9-7.7l-2-7.7l-3.1-3.5l-15.6-4l-22.3-0.4zM1326.6 253.3l17.8 0.1l4.5 1.2l3.3 2.9l3.4 8l2.2 1.3l9 2.1l8.9 4.5l6.7 1l2.8 1.1l2.7 2.6l1.2 2.6l1.2 5.1l1.6 2.6l1.7 1.2l6.7 1.8l2.8 2.1l2.2 2.6l1.2 2.6l2.4 15.4l0.5 7.7l0.1 20.6l-57.7 0l-0.1-20.6l-0.4-2.5l-1.2-2.6l-3.1-2.6l-2.6-0.6l-17.8-0.1z"/><path fill="#14ff00" d="M1326.6 77.5l104.9 0l0 81l-15.6 0.4l-2.2 1.7l-0.9 1.8l-12.5 14.3l-2.3 1.2l-4.4 0.4l-6.8-0.5l-8.1-2.6l-0.8-1.1l-2.2-1.4l2.2-7.8l1.1-7.7l0.1-7.7l-0.8-10.3l-1.2-2.5l-7.7-7.8l-3.1-2.5l-4-1.1l-15.6-1.3l-20.1 0zM1326.6 261.4l13.4 0l4.4 0.7l6.8 5.7l4.4 2.7l8.9 1.6l4.5 2l5.4 4l1.3 1.7l4.5 3.6l20.1 23.1l2.2 3.1l2.1 4.5l1.2 7.7l0 20.6l-51.8 0l-0.1-20.6l-1.2-5.1l-1.6-2.4l-2.2-2l-4.5-1.4l-17.8-0.1z"/><path fill="#3bff00" d="M1326.6 77.5l104.9 0l0 69l-15.6 0.1l-4.5 1.2l-2.8 4.3l-1.4 10.3l-1 2.5l-1.8 2.6l-1.9 1.7l-4.5 1.6l-4.4-0.1l-2.3-0.7l-3.1-2.5l-1.8-5.1l-0.5-25.7l-0.6-2.6l-1.7-2.6l-3.4-1.4l-4.5-0.8l-8.9-5.4l-2.3-0.6l-17.8-1l-20.1 0zM1326.6 269.5l20.1 0.4l8.9 4.5l8.9 2.2l2.5 1.5l1.3 2.6l1.1 5.1l1.3 2.6l2.1 2.6l2.9 2.1l6.7 1.8l2.2 1.9l1.1 1.9l1.6 7.7l1.2 2.6l2.2 2.5l2.9 2.1l4.4 1.3l2.6 1.8l1.5 5.1l0.1 20.6l-45.2 0l-0.2-20.6l-1.4-5.1l-2-3.4l-2.3-2.5l-4.4-2.8l-4.5-0.6l-15.6 0z"/><path fill="#62ff00" d="M1326.6 77.5l104.9 0l0 56.2l-17.8 0.1l-2.3 0.3l-2.2 1.8l-3.9 13.6l-1.6 12.9l-1.2 2.2l-2.2 1.7l-2.3 0.6l-4.4-0.4l-2.4-1.6l-1.2-2.5l-0.4-2.6l-0.2-20.6l-0.5-5.1l-1.1-2.6l-3.2-3.4l-2.2-1l-6.7-0.9l-11.2-4.5l-17.8-0.9l-20.1 0zM1326.6 273.4l17.8 0.1l4.5 1.2l4.1 3.4l1.2 2.6l0.8 5.1l1.6 2.6l7.9 2.1l3.8 3l3.4 5.2l1.8 9.2l2.2 1.7l6.7 1.5l2.2 1.5l3.6 4.1l1.3 2.6l0.8 5.1l0 18l-22.5 0l-0.1-20.6l-0.9-4l-2.3-1.8l-4.4-1l-2.3-1.4l-4.3-4.6l-3.1-5.2l-0.9-5.1l-1.5-2.6l-3.6-1l-17.8-0.1z"/><path fill="#89ff00" d="M1326.6 77.5l104.9 0l0 52.8l-22.3 0.3l-3.3 0.9l-3.6 2.6l-1.5 2.6l-2.6 23.1l-2.4 0.1l-0.7-2.7l-0.6-20.5l-2.7-5.2l-4.8-5.1l-4.6-1.7l-8.9-1.3l-5.4-2.2l-3.6-0.8l-17.8-0.8l-20.1-0.1zM1326.6 279.7l17.8 0.4l1.1 0.6l0.6 2.5l-1.7 2.2l-1.5 0.4l-16.3 0.1zM1358.3 301.3l1.8-2.1l2.2 0.1l1.7 2l0.1 2.5l-1.8 2l-2.2-0.1l-1.6-1.9zM1377.9 319.8l2.3 0.1l1.7 1.9l0.5 1.9l0.1 18.7l-6.9 0l0.1-18.8l0.4-1.8z"/><path fill="#b1ff00" d="M1326.6 77.5l104.9 0l0 50.3l-35.7 0.1l-8.9-4.2l-11.2-1.3l-11.2-3.1l-17.8-0.9l-20.1-0.1z"/><path fill="#d8ff00" d="M1326.6 77.5l104.9 0l0 48.1l-22.3-0.2l-15.6-1.8l-9-2l-8.9-0.6l-11.2-2.8l-17.8-1l-20.1 0z"/><path fill="#ffff00" d="M1326.6 77.5l104.9 0l0 46l-20.1-0.1l-11.1-1.9l-24.6-1.6l-8.9-2.4l-20.1-1.4l-20.1-0.1z"/><path fill="#ffd800" d="M1326.6 77.5l104.9 0l0 43.9l-17.8-0.1l-13.4-1.8l-22.4-0.5l-13.4-2.8l-17.8-1.3l-20.1-0.1z"/><path fill="#ffb100" d="M1326.6 77.5l104.9 0l0 41.7l-20.1-0.2l-13.4-1.5l-20.1 0.4l-4.4-0.6l-9-2.3l-17.8-1.3l-20.1-0.1z"/><path fill="#ff8900" d="M1326.6 77.5l104.9 0l0 39.5l-17.8-0.1l-15.7-1.2l-20.1 1.1l-4.4-0.5l-9-2.4l-8.9-0.4l-8.9-1.3l-20.1-0.1z"/><path fill="#ff6200" d="M1326.6 77.5l104.9 0l0 37.1l-17.8 0l-17.9-0.7l-11.2 1.6l-6.7 0.2l-4.4-0.6l-9-2.5l-17.8-1.9l-20.1-0.1z"/><path fill="#ff3b00" d="M1326.6 77.5l104.9 0l0 34.5l-35.7-0.3l-11.2 2.5l-6.7 0.3l-4.4-0.6l-9-2.8l-6.7-0.5l-8.9-1.5l-22.3-0.4z"/><path fill="#ff0000" d="M1326.6 77.5l104.9 0l0 31.5l-35.7 0l-4.5 1l-6.7 2.7l-6.7 0.5l-4.4-0.8l-9-3.5l-7.5-0.5l-8.1-1.6l-22.3-0.3z"/></g><path d="M1333.4 334.4h11a10 12.0 0 0 0-10-12.0h-1z" fill="#9af0ff"/><path d="M1333.4 334.4h8.0a7.0 8.4 0 0 0-7.0-8.4h-1z" fill="#fff"/></g>
<g stroke="#383838" stroke-width="1.5" fill="none"><path d="M1334.4 86.5H1423.7V703.8H1334.4z"/><path stroke-width="1.2" d="M1334.4 86.5v-4.5M1334.4 703.8v4.5M1352.3 86.5v-4.5M1352.3 703.8v4.5M1370.1 86.5v-4.5M1370.1 703.8v4.5M1388.0 86.5v-4.5M1388.0 703.8v4.5M1405.8 86.5v-4.5M1405.8 703.8v4.5M1423.7 86.5v-4.5M1423.7 703.8v4.5M1334.4 86.5h-4.5M1423.7 86.5h4.5M1334.4 107.1h-1.6M1423.7 107.1h1.6M1334.4 127.7h-1.6M1423.7 127.7h1.6M1334.4 148.2h-1.6M1423.7 148.2h1.6M1334.4 168.8h-1.6M1423.7 168.8h1.6M1334.4 189.4h-4.5M1423.7 189.4h4.5M1334.4 209.9h-1.6M1423.7 209.9h1.6M1334.4 230.5h-1.6M1423.7 230.5h1.6M1334.4 251.1h-1.6M1423.7 251.1h1.6M1334.4 271.7h-1.6M1423.7 271.7h1.6M1334.4 292.2h-4.5M1423.7 292.2h4.5M1334.4 312.8h-1.6M1423.7 312.8h1.6M1334.4 333.4h-1.6M1423.7 333.4h1.6M1334.4 354.0h-1.6M1423.7 354.0h1.6M1334.4 374.6h-1.6M1423.7 374.6h1.6M1334.4 395.1h-4.5M1423.7 395.1h4.5M1334.4 415.7h-1.6M1423.7 415.7h1.6M1334.4 436.3h-1.6M1423.7 436.3h1.6M1334.4 456.8h-1.6M1423.7 456.8h1.6M1334.4 477.4h-1.6M1423.7 477.4h1.6M1334.4 498.0h-4.5M1423.7 498.0h4.5M1334.4 518.6h-1.6M1423.7 518.6h1.6M1334.4 539.1h-1.6M1423.7 539.1h1.6M1334.4 559.7h-1.6M1423.7 559.7h1.6M1334.4 580.3h-1.6M1423.7 580.3h1.6M1334.4 600.9h-4.5M1423.7 600.9h4.5M1334.4 621.4h-1.6M1423.7 621.4h1.6M1334.4 642.0h-1.6M1423.7 642.0h1.6M1334.4 662.6h-1.6M1423.7 662.6h1.6M1334.4 683.2h-1.6M1423.7 683.2h1.6M1334.4 703.8h-4.5M1423.7 703.8h4.5"/></g>
<text transform="translate(1333.4 78.5) scale(0.84 1)" font-size="13.1" text-anchor="middle" stroke="#262626" stroke-width="0.22">0.00</text><text transform="translate(1333.4 722.5) scale(0.84 1)" font-size="13.1" text-anchor="middle" stroke="#262626" stroke-width="0.22">0.00</text><text transform="translate(1369.1 78.5) scale(0.84 1)" font-size="13.1" text-anchor="middle" stroke="#262626" stroke-width="0.22">2.00</text><text transform="translate(1369.1 722.5) scale(0.84 1)" font-size="13.1" text-anchor="middle" stroke="#262626" stroke-width="0.22">2.00</text><text transform="translate(1404.8 78.5) scale(0.84 1)" font-size="13.1" text-anchor="middle" stroke="#262626" stroke-width="0.22">4.00</text><text transform="translate(1404.8 722.5) scale(0.84 1)" font-size="13.1" text-anchor="middle" stroke="#262626" stroke-width="0.22">4.00</text><text transform="translate(1327.6 92.0) scale(0.84 1)" font-size="13.1" text-anchor="end" stroke="#262626" stroke-width="0.22">0.00</text><text transform="translate(1327.6 194.9) scale(0.84 1)" font-size="13.1" text-anchor="end" stroke="#262626" stroke-width="0.22">-5.00</text><text transform="translate(1327.6 297.8) scale(0.84 1)" font-size="13.1" text-anchor="end" stroke="#262626" stroke-width="0.22">-10.00</text><text transform="translate(1327.6 400.6) scale(0.84 1)" font-size="13.1" text-anchor="end" stroke="#262626" stroke-width="0.22">-15.00</text><text transform="translate(1327.6 503.5) scale(0.84 1)" font-size="13.1" text-anchor="end" stroke="#262626" stroke-width="0.22">-20.00</text><text transform="translate(1327.6 606.4) scale(0.84 1)" font-size="13.1" text-anchor="end" stroke="#262626" stroke-width="0.22">-25.00</text><text transform="translate(1327.6 709.2) scale(0.84 1)" font-size="13.1" text-anchor="end" stroke="#262626" stroke-width="0.22">-30.00</text><text transform="translate(1428.3 92.0) scale(0.84 1)" font-size="13.1" text-anchor="start" stroke="#262626" stroke-width="0.22">0.00</text><text transform="translate(1428.3 194.9) scale(0.84 1)" font-size="13.1" text-anchor="start" stroke="#262626" stroke-width="0.22">-5.00</text><text transform="translate(1428.3 297.8) scale(0.84 1)" font-size="13.1" text-anchor="start" stroke="#262626" stroke-width="0.22">-10.00</text><text transform="translate(1428.3 400.6) scale(0.84 1)" font-size="13.1" text-anchor="start" stroke="#262626" stroke-width="0.22">-15.00</text><text transform="translate(1428.3 503.5) scale(0.84 1)" font-size="13.1" text-anchor="start" stroke="#262626" stroke-width="0.22">-20.00</text><text transform="translate(1428.3 606.4) scale(0.84 1)" font-size="13.1" text-anchor="start" stroke="#262626" stroke-width="0.22">-25.00</text><text transform="translate(1428.3 709.2) scale(0.84 1)" font-size="13.1" text-anchor="start" stroke="#262626" stroke-width="0.22">-30.00</text><text transform="translate(1309.3 58.2) scale(0.845 1)" font-size="20.2" text-anchor="start" stroke="#262626" stroke-width="0.22">-3m</text><text transform="translate(1338.7 58.5) scale(0.831 1)" font-size="19.5" text-anchor="start" font-family="Liberation Sans, Noto Sans CJK SC, sans-serif" fill="#262626">注浆</text><text transform="translate(1387.1 58.2) scale(0.762 1)" font-size="20.2" text-anchor="start" stroke="#262626" stroke-width="0.22">CT</text><path d="M1407.7 60.8h8.6" stroke="#262626" stroke-width="1.4"/><text transform="translate(1416.4 58.5) scale(0.831 1)" font-size="19.5" text-anchor="start" font-family="Liberation Sans, Noto Sans CJK SC, sans-serif" fill="#262626">波速</text>
<g clip-path="url(#c8)"><g filter="url(#bl)"><rect x="1517" y="78" width="101" height="462" fill="#0014ff"/><path fill="#003bff" d="M1515.6 75l104.6 0l0 468.4l-104.6 0z"/><path fill="#0062ff" d="M1515.6 75l104.6 0l0 468.4l-104.6 0z"/><path fill="#0089ff" d="M1515.6 75l104.6 0l0 468.4l-104.6 0z"/><path fill="#00b1ff" d="M1515.6 75l104.6 0l0 468.4l-104.6 0z"/><path fill="#00d8ff" d="M1515.6 75l104.6 0l0 468.4l-104.6 0z"/><path fill="#00ffff" d="M1515.6 75l104.6 0l0 468.4l-104.6 0z"/><path fill="#00ffd8" d="M1515.6 75l104.6 0l0 468.4l-104.6 0z"/><path fill="#00ffb1" d="M1515.6 75l104.6 0l0 468.4l-104.6 0z"/><path fill="#00ff89" d="M1515.6 75l104.6 0l0 468.4l-104.6 0z"/><path fill="#00ff62" d="M1515.6 75l104.6 0l0 468.4l-104.6 0z"/><path fill="#00ff3b" d="M1515.6 75l104.6 0l0 468.4l-104.6 0z"/><path fill="#00ff14" d="M1515.6 75l104.6 0l0 468.4l-104.6 0z"/><path fill="#14ff00" d="M1515.6 75l104.6 0l0 468.4l-104.6 0z"/><path fill="#3bff00" d="M1515.6 75l104.6 0l0 468.4l-104.6 0l0-93.1l15.6 0l4.4-0.4l2.8-1.2l2.7-2.5l1.1-2.6l0.2-2.6l-0.5-2.5l-1.2-2.6l-2.8-3.2l-2.3-1.4l-4.4-0.9l-15.6 0l0-78.6l15.6 0l4.4 0.6l2.3 1.5l1.3 2.7l1.3 7.7l1.2 2.5l2.8 3.2l2.3 1.5l2.2 0.6l6.7-0.2l1.2-2.5l0-20.5l-0.6-2.6l-1.9-2.5l-3.2-1.4l-4.4-0.1l-13.4 1.9l-17.8 0zM1546.8 211.3l-2.9 1.9l-1.4 2.6l-1.1 5.1l0.6 2.6l2.5 3.1l2.3 1.5l4.4 0.9l4.5-0.5l1.2-2.5l-0.1-10.2l-0.8-2.6l-2.6-1.9l-2.2-0.6zM1557.9 231.2l-0.3 5.1l0.5 2.5l1.7 2.6l2.5 1.4l4.3 1.2l4.6-0.2l2.3-0.5l3.2-1.9l1.2-2.6l0-2.5l-0.7-2.6l-2.4-2.5l-3.6-1.4l-4.4-0.3l-6.7 0.3zM1557.9 374.5l-0.3 5.1l0.7 5.1l1.3 2.6l2.1 2.5l2.9 1.8l4.4 0.7l17.8 0.3l2.2-0.7l2.3-1.4l2.8-3.2l1.2-2.6l0.5-2.5l-0.4-2.6l-1.9-2.6l-4.5-2.1l-22.2-2.1l-6.7 0.3z"/><path fill="#62ff00" d="M1515.6 75l104.6 0l0 186.6l-22.2 0.3l2.2 2.5l20 0.3l0 16.5l-17.8 0.4l-2.2 2.1l-0.6 3.8l0.2 12.8l2.2 2.5l18.2 0.4l0 74l-20-0.5l-11.2-4.6l-8.9-0.7l-8.9-2.1l-6.6-0.8l-2.3-1.2l-1.4-3l-0.5-12.8l-0.7-5.2l-1.3-2.5l-2.2-2.6l-2.8-1.9l-4.4-0.7l-13.4 2.4l-20 0.1l0-117.3l15.6 0l4.4 1.3l6.5 6.1l1.8 2.5l2.9 6l1.9 1.7l4.7 0.8l11.2 4.2l11.1 0.1l13.3-2.1l2.3-2.2l0.8-3.4l-0.7-5.1l-2.4-2.7l-6.6-1.6l-6.7-2.7l-11.1-1.5l-2.3-1.2l-1.4-3.1l-1.2-7.7l-1.8-2.7l-4.5-2.2l-4.4-0.2l-4.5 0.9l-2.6 1.7l-6.3 8.2l-2.2 1.4l-17.8 0.3l0-102l7.4 0l-7.4-0.5zM1515.6 368l15.6 0l4.4 0.9l2.3 1.5l3.5 4.1l1.3 2.5l1.5 7.7l1.9 2.6l7.3 2.1l6.7 5.5l2.2 1.3l13.4 2.1l2.6 1.8l4.1 7.4l2.2 1.1l2.2 0l2.2-0.7l2.3-2.4l1.8-8l1.3-2.5l3.5-4.1l2.3-1.5l4.4-0.9l15.6-0.1l0 118.4l-20-0.2l-13.4-4l-2.2 0.2l-2.2 0.9l-1.1 1.3l-0.9 2.6l0.8 2.5l1.2 1.3l2.2 1.1l2.2 0.2l13.4-1.7l20-0.1l0 32.5l-104.6 0l0-89.4l17.8-0.1l4.5-1.1l8.9-4.7l4.4-1.1l1.3-0.8l1.6-2.6l1-5.1l-0.9-2.6l-0.8-0.5l-6.6-1.6l-4.5-3.8l-2.6-4.3l-1.5-7.7l-2.6-3l-4.4-0.7l-15.6 0zM1564.6 417.3l-1.5 0.7l-1.4 2.6l0.1 5.1l1.5 2.5l1.3 0.7l4.4 0l2.2-1.1l2.3-3l0.6-4.2l-0.6-1.9l-2.3-1.5l-4.4-0.3z"/><path fill="#89ff00" d="M1515.6 75l104.6 0l0 176.8l-17.8-0.1l-2.2-0.5l-1.5-2.1l1.2-7.7l-0.2-5.1l-2.9-5.1l-5.5-6.4l-4.5-3.4l-20-2.7l-2.5-5.5l-1.9-2.5l-4.5-3.5l-4.5-1.3l-6.6 0l-4.5 1.2l-6.7 4.7l-2.2 0.9l-17.8 0.2l0-92l8.9-0.2l2.2-0.7l2-1.4l-0.6-2.6l-1.4-1.1l-2.2-0.7l-8.9-0.3zM1515.6 230.9l15.6 0l4.4 0.6l2.3 1.1l2.2 2.1l3.7 6.7l3 3l8.9 1.6l8.9 2.7l8.9 0.6l4.4 1.2l2 1.1l1.3 2.6l-1.1 4l-0.2 3.7l1 2.5l1.5 1.7l2.2 1l6.7 0.8l2.2 0.8l4.6 3.4l0.7 2.6l-2.1 5.1l-0.8 5.1l0.8 17.9l2 2.6l3.7 1.1l17.8 0.1l0 67.5l-20-0.2l-11.2-4.1l-8.9-1l-5-2l-8.6-5.1l-1.4-12.8l-1.3-2.6l-4.3-5.1l-3.8-3.9l-2.3-1.3l-2.2-0.5l-4.4 0.1l-11.2 3l-20 0.2zM1515.6 376.9l15.6 0.1l2.2 0.5l1.8 2.1l1.4 10.2l1.3 2.6l2.2 2.5l2.2 1.5l8.9 1.3l6.5 2.4l11.3 0.6l4.5 1.2l2.7 3.3l0.4 2.6l-0.8 2.5l-2.3 1.5l-15.6 1.3l-2.2 1.2l-1.1 1.1l-0.8 2.6l-0.7 5.1l-1.9 2.1l-2.2-0.1l-1.8-2l-1.4-10.2l-1.3-2.6l-2.2-2.5l-2.2-1.5l-6.7-0.9l-17.8-0.1zM1620.2 397.4l0 107l-20-0.2l-4.5-1.1l-6.7-3l-4.4-0.4l-2.2 0.5l-2.3 1.8l-1.4 3l-0.4 2.6l0.6 2.5l1.2 2.3l2.3 1.8l2.2 0.8l4.4 0l11.2-1.5l20-0.1l0 30l-104.6 0l0-86.2l20-0.3l2.3-0.7l6.6-3.4l8.9-2.2l2.3-2.3l4.4-9.2l2.2-2.2l6.7-1.7l2.2-1.3l10-10.8l1.2-2.7l2.2-2.3l4.4-1.9l5.6-5.9l4-5.1l1.9-5.1l1.9-2.1l2.2-0.6z"/><path fill="#b1ff00" d="M1515.6 75l104.6 0l0 152.5l-15.6 0l-4.4-0.8l-2.3-1.4l-2.2-3.1l-1.9-9l-1.4-2.5l-2.9-2.6l-2.7-0.7l-20-0.4l-8.9-2.8l-6.7-0.7l-6.7 0.3l-11.1 3.2l-17.8 0.1l0-85l11.1-0.4l2.3-0.8l1.8-2.3l-0.4-2.6l-1.4-1.9l-2.3-1.5l-2.2-0.5l-8.9-0.1zM1515.6 234.9l15.6 0l4.4 0.6l2.3 1.3l5 7.2l3.9 3l8.9 1.4l8.9 2.7l6.6 0.6l2.3 0.7l2.4 1.8l2.1 10.2l2.1 3.7l2.3 1.9l8.5 2.1l2.1 2.6l-0.2 7.7l1.4 10.2l-0.5 10.2l1.2 2.6l3 2.5l2.3 0.8l20 0.4l0 63l-20-0.3l-4.5-1.3l-6.7-3.2l-6.6-1l-4-2l-1.4-2.6l-1.1-7.7l-2.4-7.9l-2.3-2.3l-6.6-1.8l-2.3-1.4l-6.6-6.6l-2.3-1.2l-2.2-0.5l-4.4 0.1l-11.5 3.7l-19.7 0.2l0-30.5l17.8-0.2l2.2-1.8l0.4-1l-2.6-2.7l-17.8-0.3zM1565.9 405.2l2.9 0l0.2 2.6l-3.2 0zM1620.2 411.4l0 91.3l-20-0.3l-4.5-1.3l-6.7-3.5l-2.2-0.4l-4.3 0.1l-2.4 0.9l-2.2 2.7l-1.2 4.1l-0.2 2.6l1.4 4.3l2.2 3.1l2.3 1.9l2.2 0.7l4.4 0l11.2-2.2l20-0.2l0 28.2l-104.6 0l0-83.1l20-0.2l4.5-1.2l6.7-3.2l6.6-1.4l3.1-3l3.6-6.8l2.2-2.9l2.3-1.4l4.4-0.9l2.2-1.1l6.7-8.3l4.5-2.4l6.6-0.9l2.7-0.9l2.2-2.6l1.2-5.1l1.3-2.6l2.6-2.5l3.4-1.3zM1564.6 477.9l-2 1.5l-0.8 2.6l0.5 5.1l2.3 2.6l4.4 0.6l2-0.6l1.6-2.6l0.4-2.6l-0.1-2.5l-0.9-2.6l-3-1.9z"/><path fill="#d8ff00" d="M1515.6 75l104.6 0l0 139.7l-13.4 0l-4.4-0.9l-2.2-1.6l-6.7-7.1l-3.4-2.1l-3.3-0.7l-15.6-1l-26.7-0.2l-11.1 1.1l-17.8 0l0-79.1l11.1-0.3l4.3-1.7l1.6-2.5l-0.4-2.6l-1.6-2.6l-3.7-2.5l-11.3-0.6zM1569 176.5l-0.7 0.9l1 0zM1515.6 238.1l15.6 0l4.4 0.8l2.3 1.6l4.7 6l4.2 2.8l8.9 1.4l8.9 3.4l6.6 1.4l2.3 2.2l2.2 6.7l2.2 4.6l11.1 16l2.3 4.8l0.5 5.3l-1.7 7.7l1.3 2.6l4.3 3.8l4.5 1.8l20 0.3l0 59l-17.8-0.1l-4.5-0.8l-2.2-1l-5.5-4.1l-2.2-2.6l-1.2-2.5l-4.4-3.8l-2.3-3.1l-4.4-8.3l-2.2-2.5l-2.3-1.4l-6.6-1.5l-2.3-1.4l-6.6-6.6l-2.3-1.1l-4.4-0.4l-4.5 0.4l-6.6 2.5l-4.5 1l-17.8 0.1l0-23.3l20-0.4l3-1.5l1.6-2.5l0.2-2.6l-0.9-2.5l-1.6-2.6l-2.3-1.2l-4.4-0.6l-15.6-0.1zM1620.2 422.2l0 78.9l-20-0.3l-4.5-1.5l-6.7-3.9l-2.2-0.5l-8.9 0.3l-1.9 2.1l-1.4 7.7l0 2.6l1.9 5.1l7.9 10.2l0.2 0.9l1.8 1.7l0.4 1.8l0.2-1.8l1.8-2.6l2.9-2.5l5.6-2.6l5.1-0.6l17.8 0l0 26.2l-104.6 0l0-80l24.5 0.1l8.9 1.3l2.2-1.1l0.8-2.2l5.9-8.1l4.4-7.8l2.3-1.8l6.6-2l2.3-2.3l3.7-6.1l2.9-2.5l2.3-1l6.6-0.7l4-1l7.2-4.4l4.4-1.5zM1560.1 476.4l-1.3 3l-0.3 2.6l0.5 5.1l1.1 2.8l2.2 2.5l2.3 1.2l4.4 0.5l4.5-0.3l1.5-1.6l0.5-5.1l-0.1-5.1l-0.4-2.6l-1.3-2.5l-2.5-1.8l-4.4-0.6l-4.5 0.6z"/><path fill="#ffff00" d="M1515.6 75l104.6 0l0 130l-17.8-0.1l-2.2-0.6l-8.9-5.2l-11.2-1.2l-11.1-3.9l-2.2 0l-8.9 3.2l-4.5 0.8l-37.8 0.3l0-30.6l17.8-0.2l2.2-0.6l2.3-1.5l2.3-3.3l-0.5-2.6l-4.1-1.4l-20-0.2l0-33.8l8.9-0.1l4.5-0.7l4-2.2l1.3-2.5l-0.4-2.6l-1.4-2.6l-3.5-3.3l-4.5-1.1l-8.9-0.1zM1593.8 159.5l-2.5-1.3l-2.3-0.4l-6.6 0.4l-2.3 1.3l-3.7 5.1l-2.9 2.2l-8.9 1.5l-2.3 1.2l-1.6 2.8l-1.5 5.1l-0.3 2.6l1.2 3.6l2.2 2.7l2.3 1.6l2.2 1l2.2 0l4.5-2.6l6.6-6.8l2.3-1l4.4-0.9l2.2-1.1l2.3-2.9l2.4-6.4l1-5.1zM1515.6 241.2l15.6 0l4.4 1l8.9 8.4l2.3 1.1l8.9 1.5l2.4 1l6.5 4.7l4.4 1.4l2.2 1.5l7 12.9l1.9 9.2l2.3 5l4.6 3.7l0 2.5l-2.4 1.7l-2.8 3.5l-0.5 2.5l1.1 3l6.6 2.2l6.7 3.8l4.5 1.6l20 0.3l0 54.7l-17.8-0.1l-5.4-1.5l-2.7-2.5l-1-2.6l-0.8-7.7l-1.2-3.3l-2.3-1.6l-6.6-1.6l-8.9-9.4l-2.3-1.4l-6.6-1.7l-2.3-1.6l-6.6-6.6l-4.5-1.7l-4.4-0.1l-13.4 2.4l-17.8 0l0-13.4l17.8 0l4.5-0.7l2.2-0.9l2.3-1.9l1.5-2.6l0.3-2.5l-0.4-2.6l-2.4-5.1l-3.5-3.1l-4.5-0.8l-17.8-0.1zM1580.1 432.9l2.3-1l8.9-1.1l6.6-2.2l4.5-0.8l17.8-0.1l0 71.9l-20-0.4l-4.5-1.7l-6.7-4.2l-6.6-1.1l-2.3-0.8l-1.5-1.7l-0.7-2.4l-0.7-7.9l-0.9-2.5l-2.1-2.6l-3-1.7l-11.1-1.4l-2-2l-0.7-5.1l0.6-5.2l4.3-8.8l2.3-2.5l6.6-2.2l2.3-2.1l3.9-7.4zM1515.6 466.8l20 0.3l4.5 1.8l6.7 5.4l6.6 2l1.2 3.1l0.9 7.7l2.6 5.1l4.2 4.2l2.3 1.1l4.4 1.1l2.3 1.3l0.9 7.7l2.5 5.1l4.8 7.7l1 2.5l1 7.7l0 12.8l-65.9 0zM1594.9 522.9l3-2.5l2.3-0.6l20-0.3l0 23.9l-27.3 0l0.2-12.8l0.8-5.1z"/><path fill="#ffd800" d="M1515.6 75l104.6 0l0 76.1l-20 0.2l-8.9 2.3l-8.9 0.6l-2.3 0.6l-2.2 1.5l-4.4 5.8l-2.3 1.2l-13.2 1.3l-1.6 7.7l-1.1 2.6l-1.9 2.3l-2.2 1.4l-5 1.4l0.4 2.5l6.8 2.4l3 2.8l1.2 2.5l-1.1 2.6l-3.1 1.2l-4.4 0.4l-33.4 0.3l0-20.4l17.8 0l4.5-0.9l2.2-1.8l4.4-5.5l2.3-1.5l2.2-0.7l6.7-0.4l1.2-1.4l0.2-5.2l-0.6-5.1l-0.8-1.7l-2.3-1.8l-2.2-0.5l-4.4 0.7l-4.7 3.3l-4.2 1.7l-22.3 0.6l0-29.2l8.9 0l4.5-0.6l2.2-0.7l3.8-2.5l1.2-2.5l-0.5-2.6l-1.4-2.6l-2-2.5l-3.3-2.4l-4.5-0.9l-8.9-0.1zM1578.2 190.2l1.2-2.5l3-2.3l4.4-1l2.2-0.9l2.3-2.5l6.6-13.7l2.3-2.4l4.4-1.2l15.6 0l0 34.8l-20-0.5l-8.9-3l-8.9-1l-3.1-1.2zM1515.6 244.4l15.6 0l4.4 1l8.9 7.9l2.3 1l6.6 1l3.4 1.5l7.8 8.2l6.6 3.3l4.1 6.4l1.5 5.1l2.6 12.8l-1.4 10.2l0.2 2.6l1.9 3.9l2.3 1.2l6.6 1l6.7 3.2l4.5 1.4l20 0.2l0 49.8l-17.8-0.1l-4.5-1.7l-1.2-2.6l0-7.7l1.2-3.9l2.3-3.3l1.1-0.5l-7.8-2l-8.9-0.7l-2.2-0.7l-2.3-1.5l-8.9-9.2l-6.6-2.1l-2.3-1.7l-3.9-5.1l-1-2.6l-1.7-12.4l-2.2-5.5l-6.7-3.3l-4.5-4.9l-3.9-2l-2.8-0.4l-20-0.2zM1580.1 435.2l2.3-1.4l8.9-1.2l8.9-2.3l20-0.3l0 68.1l-20-0.4l-4.5-1.9l-6.7-4.9l-6.6-1.9l-1.7-1.9l-2-10.2l-3-4.3l-2.2-1.8l-2.3-0.9l-6.6-0.9l-3.1-2.4l-0.7-5.1l1.5-5.6l2.3-3.1l2.2-1.4l4.4-1.4l2.3-2.1l2.2-3.9l2.2-5.6zM1515.6 471.5l17.8 0.1l2.2 0.5l3.3 2.2l2.1 2.6l1.3 2.5l2.2 8.8l2.3 2.2l4.4 1.3l4.5 3l3.9 5.2l1.7 5.1l1.7 2.6l8.2 3.8l4.9 6.4l1.5 2.6l1.6 5.1l0.5 5.1l0.1 12.8l-64.2 0zM1598.3 525.5l1.9-1.6l2.2-0.7l17.8-0.3l0 20.5l-23.9 0l0.3-12.8z"/><path fill="#ffb100" d="M1515.6 75l104.6 0l0 72.6l-20 0.1l-11.2 2l-13.3 0.6l-3.6 1.5l-3.1 3.9l-2.2 0.1l-0.7-1.4l-1.2-7.7l-0.9-2.6l-1.7-1.8l-4.4-1.3l-6.7-0.3l-4.4 0.8l-2.3 1.4l-6.6 5.8l-2.3 1l-6.6 0.9l-13.4 0.1l0-24.9l11.1-0.2l4.5-1l6.2-3.5l1-2.5l-2.2-5.2l-1.9-2.5l-3.1-2.8l-4.5-1.6l-11.1-0.2zM1600.2 172l2.2-1.1l17.8-0.3l0 21.3l-17.8-0.1l-4.5-0.8l-2.2-1.2l-1.2-2.1l0.3-5.2l1.7-5.1l1.4-2.8zM1515.6 187.7l0-3.5l15.6 0.1l2.7 0.8l-0.5 1.7l-1.5 0.9zM1515.6 247.7l17.8 0.2l2.2 0.7l2.3 1.5l6.6 6.2l2.3 1.1l6.6 1.1l2.3 1.1l2.3 2.3l4.3 7.2l2.3 2.5l6.6 3l2.3 3.4l1.8 6.9l1.1 7.7l-1.1 15.3l1 5.2l1.6 1.1l2.2 0.5l8.9 0.7l6.7 2.7l4.5 1.1l20 0.2l0 20.8l-33.4-0.1l-4.4-0.8l-3.8-3.2l-5.1-9.2l-2.3-2.9l-4.7-3.3l-6.4-12.2l-2.6-8.2l-1.8-3.4l-2.2-1.8l-13.4-4l-24.5-0.4zM1604 359.1l2.8-0.6l13.4 0l0 1.3l-13.4 0zM1582.4 436l8.9-1.4l8.9-2.4l20-0.2l0 64.7l-17.8-0.1l-4.5-1.1l-2.2-1.3l-9.9-9.7l-2.1-5.1l-5.8-8.1l-6.7-6.3l-2-0.9l-1.6-2.6l5.9-6.3l2.2-4.4l4.3-12.3zM1515.6 480.9l13.4 0l4.4 0.7l2.9 5.5l4.2 5.1l6.3 6.4l4.4 3.1l5.4 5.9l5.7 4.2l2.3 1.2l4.4 0.9l2.2 1l2.3 2.1l2.3 3.4l1.8 5.1l0.8 5.1l0.1 12.8l-62.9 0zM1603.3 533.2l1.3-0.8l15.6-0.3l0 11.3l-17.9 0l0-7.7z"/><path fill="#ff8900" d="M1515.6 75l104.6 0l0 70.1l-22.3-0.1l-15.5-1.1l-2.3-1l-2.2-2.5l-4.4-10.1l-2.3-2l-4.4-0.8l-4.5 0.5l-2.2 0.8l-4.4 3.6l-8.9 3l-8.9 7.9l-4.5 2.7l-6.7 1.3l-11.1 0.2l0-20.8l11.1-0.2l4.5-0.8l5.6-2l4.3-2.6l0.1-2.5l-4.9-7.7l-2.4-2.6l-2.7-1.7l-4.5-1.3l-11.1-0.3zM1600.2 180l2.2-1.8l2.2-0.5l15.6-0.1l0 7.3l-17.8-0.4l-2.4-2zM1515.6 251.2l18.6 0.4l3.7 2.1l6.6 6.2l2.3 1l6.6 1.3l2.3 1.7l2.2 3.3l4.4 9.9l2.3 1.9l4.4 1.3l2.3 2.1l1.3 5.1l0.5 7.6l-0.9 7.7l-1 3.2l-2.2 1.6l-2.2 0l-2.2-1.1l-2.1-3.7l-3-10.2l-1.6-2.3l-2.2-1.6l-4.5-0.9l-13.3 1.5l-22.3 0zM1579.7 323.3l2.7-2l4.4-0.5l13.4 2.4l20 0.1l0 12.8l-35.6-0.3l-2.2-1l-1.3-1.3l-1.3-2.5l-0.7-5.1zM1584.1 438.5l4.9-0.9l11.2-3.5l20-0.2l0 61.3l-20-0.4l-4.5-2.3l-2.7-2.8l-2.2-5.2l-0.8-7.6l-1-2.9l-2.2-1.8l-4.4-1.9l-3.3-3.7l-0.9-2.5l-0.1-5.2l3.1-15.3l1.2-3.6zM1515.6 494.2l15.6 0.1l4.4 0.6l2.3 1.1l4 3.9l2.6 5.3l2.3 3l8.9 2.4l8.9 5.5l6.6 1.9l2.6 2.4l2.5 5.1l0.9 5.1l0.1 12.8l-61.7 0z"/><path fill="#ff6200" d="M1515.6 75l104.6 0l0 67.7l-22.3-0.4l-2.8-0.7l-6.1-3l-6.6-1.7l-2.3-2l-4.4-6.8l-2.2-2.4l-2.3-1.3l-11.1-1.2l-6.5-2.1l-6.8-1l-4.5-4.2l-6.1-7.6l-3.5-2.5l-6-1.8l-11.1-0.2zM1543.6 126.2l1.2 2.6l-0.4 2.5l-1.2 2.6l-3.1 3.6l-4.5 3.1l-4.4 2.2l-4.5 1.1l-11.1 0.3l0-16.5l13.4-0.4l8.9-2.2l2.2-0.1zM1515.6 255.8l15.6 0l4.4 0.9l8.9 7.4l2.3 1.2l6.6 2l1.9 2.3l1.1 2.5l0.3 5.1l-1 2.2l-2.3 1.3l-4.4 0.8l-6.7 4.9l-2.8 1.1l-6.1 0.6l-17.8 0zM1597.9 437.1l4.5-1l17.8-0.1l0 57.8l-15.6 0l-4.4-0.5l-2.3-0.9l-2.2-1.9l-2.2-3.4l-0.7-5.1l-0.2-15.4l0.9-2.5l2.2-2.8l2.2-1.7l2-0.7l0-2.5l-2-0.7l-2.2-1.7l-2.1-2.7l-1.1-2.6l-0.5-5.1l0.6-2.6l2.3-2.5zM1515.6 498.6l15.6 0l4.4 0.6l2.3 1l2.2 2.1l4.9 7.8l1.8 1.1l8.9 1.8l8.9 6l6.6 1.7l2.3 2.2l2.1 5.2l0.6 15.3l-60.6 0z"/><path fill="#ff3b00" d="M1515.6 75l104.6 0l0 65.1l-17.8 0l-4.5-0.8l-2.2-1.1l-6.7-5.5l-6.6-1.9l-8.9-8.6l-2.3-1.2l-8.9-1.3l-6.6-2.1l-8.9-1.3l-4-2.9l-4.1-5.1l-2.8-2.5l-4.7-2.3l-4.5-0.9l-11.1-0.1zM1515.6 140.8l0-12.1l11.1-0.1l11.2-1.4l2.8 1.6l0.4 2.5l-1.2 2.6l-4.3 3.4l-8.9 3.2zM1515.6 261.5l17.8 0.1l2.2 0.6l4.5 2.8l6.4 7.1l0.2 2.6l-3.7 7.7l-2.9 2.8l-4.5 1.3l-20 0.2zM1599.8 443.6l1.4-2.6l1.2-0.3l17.8-0.2l0 6.6l-17.8-0.4l-1.3-0.5zM1597.9 468.1l2.3-1.3l2.2-0.5l17.8-0.1l0 26.1l-17.8-0.1l-2.2-0.4l-3.3-2.1l-1.6-2.6l-0.6-2.6l-0.1-5.1l1.1-7.7zM1515.6 501.6l15.6 0l4.4 0.6l2.3 1.3l1.3 1.5l3.1 5.2l2.2 2.3l2.3 0.9l6.6 0.9l2.3 0.8l6.6 5.5l2.3 1.1l6.6 1.7l2.3 2.6l1.3 4.6l0.3 12.8l-59.5 0z"/><path fill="#ff0000" d="M1515.6 75l104.6 0l0 32.9l-9.4 0.4l0 2.6l9.4 0.3l0 26l-20-0.5l-4.5-2.7l-4.9-5.2l-1.8-0.9l-6.6-1.4l-2.3-1.5l-6.5-6.4l-2.4-1.2l-24.4-3.8l-2.3-1.5l-6.6-7.4l-6.7-2.9l-4.5-0.7l-11.1-0.1zM1515.6 137.2l0-6.7l11.1-0.1l8.9-0.8l2.2 1.7l-2.2 2.8l-6.6 2.5l-4.5 0.6zM1515.6 265.9l17.8 0.2l4.5 1.5l2.2 2l1.6 2.5l0.5 2.6l-0.9 5.1l-1.2 2.6l-2.2 1.7l-2.3 0.9l-20 0.3zM1597.9 473.8l2.3-2.2l2.2-0.7l17.8-0.2l0 19.9l-15.6 0l-5-0.9l-2.4-2.6l-0.7-2.6l0-5.1zM1515.6 504.2l15.6 0l4.4 0.8l2.3 1.7l3.8 6l2.8 2.2l8.9 1.5l2.8 1.4l6.1 5.7l6.7 1.5l2.2 1.2l2.3 4.4l0.3 12.8l-58.2 0z"/></g></g>
<g stroke="#383838" stroke-width="1.5" fill="none"><path d="M1523.4 84.0H1612.4V698.2H1523.4z"/><path stroke-width="1.2" d="M1523.4 84.0v-4.5M1523.4 698.2v4.5M1541.2 84.0v-4.5M1541.2 698.2v4.5M1559.0 84.0v-4.5M1559.0 698.2v4.5M1576.8 84.0v-4.5M1576.8 698.2v4.5M1594.6 84.0v-4.5M1594.6 698.2v4.5M1612.4 84.0v-4.5M1612.4 698.2v4.5M1523.4 84.0h-4.5M1612.4 84.0h4.5M1523.4 104.5h-1.6M1612.4 104.5h1.6M1523.4 125.0h-1.6M1612.4 125.0h1.6M1523.4 145.4h-1.6M1612.4 145.4h1.6M1523.4 165.9h-1.6M1612.4 165.9h1.6M1523.4 186.4h-4.5M1612.4 186.4h4.5M1523.4 206.9h-1.6M1612.4 206.9h1.6M1523.4 227.3h-1.6M1612.4 227.3h1.6M1523.4 247.8h-1.6M1612.4 247.8h1.6M1523.4 268.3h-1.6M1612.4 268.3h1.6M1523.4 288.8h-4.5M1612.4 288.8h4.5M1523.4 309.2h-1.6M1612.4 309.2h1.6M1523.4 329.7h-1.6M1612.4 329.7h1.6M1523.4 350.2h-1.6M1612.4 350.2h1.6M1523.4 370.7h-1.6M1612.4 370.7h1.6M1523.4 391.1h-4.5M1612.4 391.1h4.5M1523.4 411.6h-1.6M1612.4 411.6h1.6M1523.4 432.1h-1.6M1612.4 432.1h1.6M1523.4 452.6h-1.6M1612.4 452.6h1.6M1523.4 473.0h-1.6M1612.4 473.0h1.6M1523.4 493.5h-4.5M1612.4 493.5h4.5M1523.4 514.0h-1.6M1612.4 514.0h1.6M1523.4 534.5h-1.6M1612.4 534.5h1.6M1523.4 554.9h-1.6M1612.4 554.9h1.6M1523.4 575.4h-1.6M1612.4 575.4h1.6M1523.4 595.9h-4.5M1612.4 595.9h4.5M1523.4 616.4h-1.6M1612.4 616.4h1.6M1523.4 636.8h-1.6M1612.4 636.8h1.6M1523.4 657.3h-1.6M1612.4 657.3h1.6M1523.4 677.8h-1.6M1612.4 677.8h1.6M1523.4 698.2h-4.5M1612.4 698.2h4.5"/></g>
<text transform="translate(1522.4 76.0) scale(0.84 1)" font-size="13.1" text-anchor="middle" stroke="#262626" stroke-width="0.22">0.00</text><text transform="translate(1522.4 717.0) scale(0.84 1)" font-size="13.1" text-anchor="middle" stroke="#262626" stroke-width="0.22">0.00</text><text transform="translate(1558.0 76.0) scale(0.84 1)" font-size="13.1" text-anchor="middle" stroke="#262626" stroke-width="0.22">2.00</text><text transform="translate(1558.0 717.0) scale(0.84 1)" font-size="13.1" text-anchor="middle" stroke="#262626" stroke-width="0.22">2.00</text><text transform="translate(1593.6 76.0) scale(0.84 1)" font-size="13.1" text-anchor="middle" stroke="#262626" stroke-width="0.22">4.00</text><text transform="translate(1593.6 717.0) scale(0.84 1)" font-size="13.1" text-anchor="middle" stroke="#262626" stroke-width="0.22">4.00</text><text transform="translate(1516.6 89.5) scale(0.84 1)" font-size="13.1" text-anchor="end" stroke="#262626" stroke-width="0.22">0.00</text><text transform="translate(1516.6 191.9) scale(0.84 1)" font-size="13.1" text-anchor="end" stroke="#262626" stroke-width="0.22">-5.00</text><text transform="translate(1516.6 294.2) scale(0.84 1)" font-size="13.1" text-anchor="end" stroke="#262626" stroke-width="0.22">-10.00</text><text transform="translate(1516.6 396.6) scale(0.84 1)" font-size="13.1" text-anchor="end" stroke="#262626" stroke-width="0.22">-15.00</text><text transform="translate(1516.6 499.0) scale(0.84 1)" font-size="13.1" text-anchor="end" stroke="#262626" stroke-width="0.22">-20.00</text><text transform="translate(1516.6 601.4) scale(0.84 1)" font-size="13.1" text-anchor="end" stroke="#262626" stroke-width="0.22">-25.00</text><text transform="translate(1516.6 703.8) scale(0.84 1)" font-size="13.1" text-anchor="end" stroke="#262626" stroke-width="0.22">-30.00</text><text transform="translate(1617.0 89.5) scale(0.84 1)" font-size="13.1" text-anchor="start" stroke="#262626" stroke-width="0.22">0.00</text><text transform="translate(1617.0 191.9) scale(0.84 1)" font-size="13.1" text-anchor="start" stroke="#262626" stroke-width="0.22">-5.00</text><text transform="translate(1617.0 294.2) scale(0.84 1)" font-size="13.1" text-anchor="start" stroke="#262626" stroke-width="0.22">-10.00</text><text transform="translate(1617.0 396.6) scale(0.84 1)" font-size="13.1" text-anchor="start" stroke="#262626" stroke-width="0.22">-15.00</text><text transform="translate(1617.0 499.0) scale(0.84 1)" font-size="13.1" text-anchor="start" stroke="#262626" stroke-width="0.22">-20.00</text><text transform="translate(1617.0 601.4) scale(0.84 1)" font-size="13.1" text-anchor="start" stroke="#262626" stroke-width="0.22">-25.00</text><text transform="translate(1617.0 703.8) scale(0.84 1)" font-size="13.1" text-anchor="start" stroke="#262626" stroke-width="0.22">-30.00</text><text transform="translate(1503.9 56.0) scale(0.831 1)" font-size="19.5" text-anchor="start" font-family="Liberation Sans, Noto Sans CJK SC, sans-serif" fill="#262626">注浆后</text><text transform="translate(1568.5 55.7) scale(0.762 1)" font-size="20.2" text-anchor="start" stroke="#262626" stroke-width="0.22">CT</text><path d="M1589.1 58.3h8.6" stroke="#262626" stroke-width="1.4"/><text transform="translate(1597.8 56.0) scale(0.831 1)" font-size="19.5" text-anchor="start" font-family="Liberation Sans, Noto Sans CJK SC, sans-serif" fill="#262626">波速</text>
<rect x="1704.5" y="89.2" width="33.5" height="554.8" fill="url(#cb)"/><path d="M1705.5 87.7V645.5" stroke="#111" stroke-width="2.2" stroke-linecap="round"/><path d="M1738.0 89.2h5" stroke="#d02010" stroke-width="1.6"/><text transform="translate(1743.0 95.1) scale(0.71 1)" font-size="14.5" text-anchor="start" stroke="#2e2e2e" stroke-width="0.3">0.10</text><path d="M1738.0 227.9h5" stroke="#d02010" stroke-width="1.6"/><text transform="translate(1743.0 233.8) scale(0.71 1)" font-size="14.5" text-anchor="start" stroke="#2e2e2e" stroke-width="0.3">0.10</text><path d="M1738.0 366.6h5" stroke="#d02010" stroke-width="1.6"/><text transform="translate(1743.0 372.5) scale(0.71 1)" font-size="14.5" text-anchor="start" stroke="#2e2e2e" stroke-width="0.3">0.11</text><path d="M1738.0 505.3h5" stroke="#d02010" stroke-width="1.6"/><text transform="translate(1743.0 511.2) scale(0.71 1)" font-size="14.5" text-anchor="start" stroke="#2e2e2e" stroke-width="0.3">0.11</text><path d="M1738.0 644.0h5" stroke="#d02010" stroke-width="1.6"/><text transform="translate(1743.0 649.9) scale(0.71 1)" font-size="14.5" text-anchor="start" stroke="#2e2e2e" stroke-width="0.3">0.12</text><text transform="translate(1680.0 84.0) scale(0.75 1)" font-size="14" text-anchor="start" stroke="#2e2e2e" stroke-width="0.3">9.500*10</text><text transform="translate(1723.5 74.0) scale(0.75 1)" font-size="11" text-anchor="start" stroke="#2e2e2e" stroke-width="0.3">-2</text><text transform="translate(1680.5 668.2) scale(0.75 1)" font-size="14" text-anchor="start" stroke="#2e2e2e" stroke-width="0.3">1.180*10</text><text transform="translate(1723.5 658.6) scale(0.75 1)" font-size="11" text-anchor="start" stroke="#2e2e2e" stroke-width="0.3">-1</text>
</g>
<rect x="17" y="26.5" width="1768.5" height="712.3" fill="none" stroke="#000" stroke-width="3"/>
<g filter="url(#soft)" transform="translate(1705 690) scale(0.08729)" stroke="#6a3826" stroke-width="16" stroke-linecap="round" stroke-linejoin="round" fill="none">
<path d="M140 780C50 700 55 560 170 510C260 472 350 500 400 555C520 430 700 345 900 328C1010 318 1110 335 1190 355C1195 280 1270 215 1350 215C1450 215 1520 300 1505 380C1495 420 1470 440 1440 447L1600 430V780Z" fill="#fff" stroke="none"/>
<ellipse cx="265" cy="645" rx="70" ry="95" transform="rotate(22 265 645)" fill="#fbcbcb" stroke="none"/>
<ellipse cx="1345" cy="340" rx="98" ry="58" transform="rotate(24 1345 340)" fill="#fbcbcb" stroke="none"/>
<ellipse cx="1150" cy="545" rx="70" ry="22" transform="rotate(-12 1150 545)" fill="#fcd6d0" stroke="none"/>
<ellipse cx="480" cy="735" rx="70" ry="22" transform="rotate(-20 480 735)" fill="#fcd6d0" stroke="none"/>
<path d="M140 770C50 700 55 560 170 510C260 472 350 500 400 555C520 430 700 345 900 328C1010 318 1110 335 1190 355"/>
<path d="M1188 350C1195 280 1270 215 1350 215C1450 215 1520 300 1505 380C1495 420 1470 440 1440 447"/>
<path d="M1485 455l30-14M1520 470l38-20" stroke-width="10"/>
<path d="M785 342C782 300 772 270 758 240" stroke="#7a5a4a" stroke-width="14"/>
<ellipse cx="655" cy="230" rx="80" ry="42" transform="rotate(8 655 230)" fill="#a6ea8c" stroke="#5e3a22" stroke-width="18"/>
<ellipse cx="818" cy="160" rx="92" ry="52" transform="rotate(-50 818 160)" fill="#9ee886" stroke="#5e3a22" stroke-width="18"/>
<ellipse cx="810" cy="565" rx="100" ry="47" transform="rotate(-14 810 565)" fill="#8e2a14" stroke="#5a1c0c" stroke-width="12"/>
<ellipse cx="745" cy="585" rx="22" ry="13" transform="rotate(-30 745 585)" fill="#fff" stroke="none"/>
<circle cx="595" cy="635" r="34" fill="#7c2812" stroke="#5a1c0c" stroke-width="8"/>
<circle cx="1015" cy="510" r="34" fill="#7c2812" stroke="#5a1c0c" stroke-width="8"/>
<circle cx="603" cy="627" r="8" fill="#c87a5a" stroke="none"/>
<circle cx="1023" cy="502" r="8" fill="#c87a5a" stroke="none"/>
<path d="M1105 520l20-28M1135 518l20-28M1165 512l18-26" stroke="#cf9a52" stroke-width="14"/>
<path d="M440 725l20-28M470 720l20-28M498 712l16-24" stroke="#cf9a52" stroke-width="14"/>
<path d="M825 615C815 680 740 730 660 770"/>
<path d="M850 640C960 675 1150 640 1275 548" />
<path d="M1175 612L1215 655L1255 598" fill="#fff" stroke-width="14"/>
<path d="M1270 548C1340 590 1460 640 1545 770" stroke-width="19"/>
<path d="M960 740L992 690" stroke-width="10"/>
</g>

</g></svg>
</body></html>
